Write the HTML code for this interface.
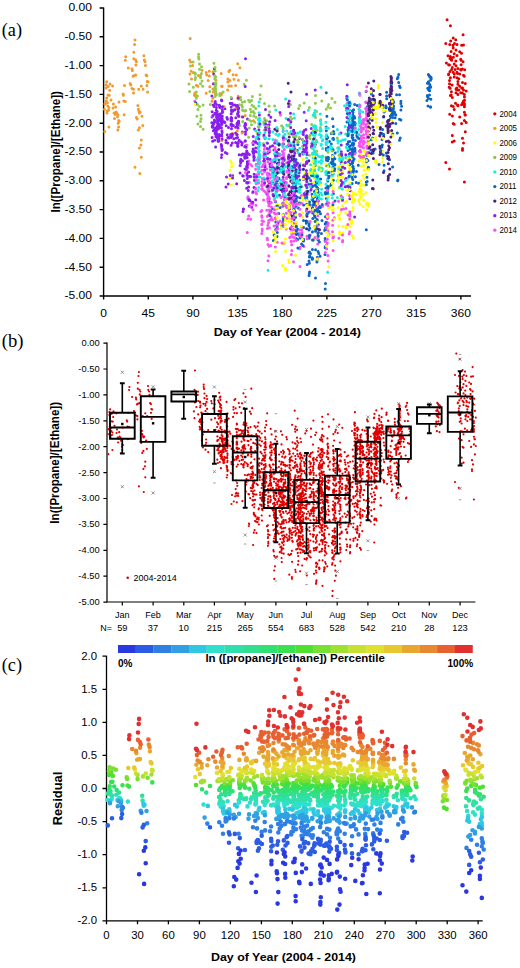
<!DOCTYPE html>
<html><head><meta charset="utf-8"><style>
html,body{margin:0;padding:0;background:#fff;}
body{width:520px;height:968px;overflow:hidden;}
svg{display:block;}
text{font-family:"Liberation Sans",sans-serif;fill:#000;}
</style></head><body>
<svg width="520" height="968" viewBox="0 0 520 968">
<path d="M103.6 7.5V296.0H471" fill="none" stroke="#000" stroke-width="1.4"/>
<path d="M99.6 8.0h4 M99.6 36.8h4 M99.6 65.6h4 M99.6 94.4h4 M99.6 123.2h4 M99.6 152.0h4 M99.6 180.8h4 M99.6 209.6h4 M99.6 238.4h4 M99.6 267.2h4 M99.6 296.0h4 M103.6 296.0v3.6 M148.3 296.0v3.6 M192.9 296.0v3.6 M237.6 296.0v3.6 M282.2 296.0v3.6 M326.9 296.0v3.6 M371.6 296.0v3.6 M416.2 296.0v3.6 M460.9 296.0v3.6" stroke="#000" stroke-width="1.4"/>
<text x="91.90" y="11.40" text-anchor="end" textLength="23.48" lengthAdjust="spacingAndGlyphs" style="font-size:11.6px" fill="#000">0.00</text>
<text x="91.90" y="40.20" text-anchor="end" textLength="27.49" lengthAdjust="spacingAndGlyphs" style="font-size:11.6px" fill="#000">-0.50</text>
<text x="91.90" y="69.00" text-anchor="end" textLength="27.49" lengthAdjust="spacingAndGlyphs" style="font-size:11.6px" fill="#000">-1.00</text>
<text x="91.90" y="97.80" text-anchor="end" textLength="27.49" lengthAdjust="spacingAndGlyphs" style="font-size:11.6px" fill="#000">-1.50</text>
<text x="91.90" y="126.60" text-anchor="end" textLength="27.49" lengthAdjust="spacingAndGlyphs" style="font-size:11.6px" fill="#000">-2.00</text>
<text x="91.90" y="155.40" text-anchor="end" textLength="27.49" lengthAdjust="spacingAndGlyphs" style="font-size:11.6px" fill="#000">-2.50</text>
<text x="91.90" y="184.20" text-anchor="end" textLength="27.49" lengthAdjust="spacingAndGlyphs" style="font-size:11.6px" fill="#000">-3.00</text>
<text x="91.90" y="213.00" text-anchor="end" textLength="27.49" lengthAdjust="spacingAndGlyphs" style="font-size:11.6px" fill="#000">-3.50</text>
<text x="91.90" y="241.80" text-anchor="end" textLength="27.49" lengthAdjust="spacingAndGlyphs" style="font-size:11.6px" fill="#000">-4.00</text>
<text x="91.90" y="270.60" text-anchor="end" textLength="27.49" lengthAdjust="spacingAndGlyphs" style="font-size:11.6px" fill="#000">-4.50</text>
<text x="91.90" y="299.40" text-anchor="end" textLength="27.49" lengthAdjust="spacingAndGlyphs" style="font-size:11.6px" fill="#000">-5.00</text>
<text x="103.60" y="316.50" text-anchor="middle" textLength="6.71" lengthAdjust="spacingAndGlyphs" style="font-size:11.6px" fill="#000">0</text>
<text x="148.26" y="316.50" text-anchor="middle" textLength="13.42" lengthAdjust="spacingAndGlyphs" style="font-size:11.6px" fill="#000">45</text>
<text x="192.92" y="316.50" text-anchor="middle" textLength="13.42" lengthAdjust="spacingAndGlyphs" style="font-size:11.6px" fill="#000">90</text>
<text x="237.58" y="316.50" text-anchor="middle" textLength="20.13" lengthAdjust="spacingAndGlyphs" style="font-size:11.6px" fill="#000">135</text>
<text x="282.24" y="316.50" text-anchor="middle" textLength="20.13" lengthAdjust="spacingAndGlyphs" style="font-size:11.6px" fill="#000">180</text>
<text x="326.90" y="316.50" text-anchor="middle" textLength="20.13" lengthAdjust="spacingAndGlyphs" style="font-size:11.6px" fill="#000">225</text>
<text x="371.56" y="316.50" text-anchor="middle" textLength="20.13" lengthAdjust="spacingAndGlyphs" style="font-size:11.6px" fill="#000">270</text>
<text x="416.22" y="316.50" text-anchor="middle" textLength="20.13" lengthAdjust="spacingAndGlyphs" style="font-size:11.6px" fill="#000">315</text>
<text x="460.88" y="316.50" text-anchor="middle" textLength="20.13" lengthAdjust="spacingAndGlyphs" style="font-size:11.6px" fill="#000">360</text>
<text x="287.30" y="335.50" text-anchor="middle" textLength="147.11" lengthAdjust="spacingAndGlyphs" style="font-size:11.6px;font-weight:bold" fill="#000">Day of Year (2004 - 2014)</text>
<text transform="translate(59.80 151.80) rotate(-90)" text-anchor="middle" textLength="121.55" lengthAdjust="spacingAndGlyphs" style="font-size:12.2px;font-weight:bold" fill="#000">ln([Propane]/[Ethane])</text>
<text x="1.80" y="36.40" textLength="20.24" lengthAdjust="spacingAndGlyphs" style="font-size:19.0px;font-family:'Liberation Serif',serif" fill="#000">(a)</text>
<circle cx="494.8" cy="113.8" r="1.65" fill="#e00000"/>
<text x="499.40" y="116.60" textLength="17.51" lengthAdjust="spacingAndGlyphs" style="font-size:8.2px" fill="#000">2004</text>
<circle cx="494.8" cy="128.3" r="1.65" fill="#f39a2c"/>
<text x="499.40" y="131.15" textLength="17.51" lengthAdjust="spacingAndGlyphs" style="font-size:8.2px" fill="#000">2005</text>
<circle cx="494.8" cy="142.9" r="1.65" fill="#ffff00"/>
<text x="499.40" y="145.70" textLength="17.51" lengthAdjust="spacingAndGlyphs" style="font-size:8.2px" fill="#000">2006</text>
<circle cx="494.8" cy="157.4" r="1.65" fill="#8fc050"/>
<text x="499.40" y="160.25" textLength="17.51" lengthAdjust="spacingAndGlyphs" style="font-size:8.2px" fill="#000">2009</text>
<circle cx="494.8" cy="172.0" r="1.65" fill="#18eee0"/>
<text x="499.40" y="174.80" textLength="17.51" lengthAdjust="spacingAndGlyphs" style="font-size:8.2px" fill="#000">2010</text>
<circle cx="494.8" cy="186.6" r="1.65" fill="#0b66c6"/>
<text x="499.40" y="189.35" textLength="16.93" lengthAdjust="spacingAndGlyphs" style="font-size:8.2px" fill="#000">2011</text>
<circle cx="494.8" cy="201.1" r="1.65" fill="#4b2080"/>
<text x="499.40" y="203.90" textLength="17.51" lengthAdjust="spacingAndGlyphs" style="font-size:8.2px" fill="#000">2012</text>
<circle cx="494.8" cy="215.7" r="1.65" fill="#8a1ef0"/>
<text x="499.40" y="218.45" textLength="17.51" lengthAdjust="spacingAndGlyphs" style="font-size:8.2px" fill="#000">2013</text>
<circle cx="494.8" cy="230.2" r="1.65" fill="#f852f2"/>
<text x="499.40" y="233.00" textLength="17.51" lengthAdjust="spacingAndGlyphs" style="font-size:8.2px" fill="#000">2014</text>
<path d="M107.0 342.6V602.0H475.4" fill="none" stroke="#000" stroke-width="1.2"/>
<path d="M103.4 343.1h3.6 M103.4 369.0h3.6 M103.4 394.9h3.6 M103.4 420.8h3.6 M103.4 446.7h3.6 M103.4 472.6h3.6 M103.4 498.5h3.6 M103.4 524.4h3.6 M103.4 550.3h3.6 M103.4 576.2h3.6 M103.4 602.1h3.6 M122.3 602.0v3.4 M153.1 602.0v3.4 M183.8 602.0v3.4 M214.4 602.0v3.4 M245.2 602.0v3.4 M275.9 602.0v3.4 M306.5 602.0v3.4 M337.2 602.0v3.4 M367.9 602.0v3.4 M398.6 602.0v3.4 M429.3 602.0v3.4 M460.1 602.0v3.4" stroke="#000" stroke-width="1.2"/>
<text x="99.70" y="346.00" text-anchor="end" textLength="18.20" lengthAdjust="spacingAndGlyphs" style="font-size:8.7px" fill="#000">0.00</text>
<text x="99.70" y="371.90" text-anchor="end" textLength="21.31" lengthAdjust="spacingAndGlyphs" style="font-size:8.7px" fill="#000">-0.50</text>
<text x="99.70" y="397.80" text-anchor="end" textLength="21.31" lengthAdjust="spacingAndGlyphs" style="font-size:8.7px" fill="#000">-1.00</text>
<text x="99.70" y="423.70" text-anchor="end" textLength="21.31" lengthAdjust="spacingAndGlyphs" style="font-size:8.7px" fill="#000">-1.50</text>
<text x="99.70" y="449.60" text-anchor="end" textLength="21.31" lengthAdjust="spacingAndGlyphs" style="font-size:8.7px" fill="#000">-2.00</text>
<text x="99.70" y="475.50" text-anchor="end" textLength="21.31" lengthAdjust="spacingAndGlyphs" style="font-size:8.7px" fill="#000">-2.50</text>
<text x="99.70" y="501.40" text-anchor="end" textLength="21.31" lengthAdjust="spacingAndGlyphs" style="font-size:8.7px" fill="#000">-3.00</text>
<text x="99.70" y="527.30" text-anchor="end" textLength="21.31" lengthAdjust="spacingAndGlyphs" style="font-size:8.7px" fill="#000">-3.50</text>
<text x="99.70" y="553.20" text-anchor="end" textLength="21.31" lengthAdjust="spacingAndGlyphs" style="font-size:8.7px" fill="#000">-4.00</text>
<text x="99.70" y="579.10" text-anchor="end" textLength="21.31" lengthAdjust="spacingAndGlyphs" style="font-size:8.7px" fill="#000">-4.50</text>
<text x="99.70" y="605.00" text-anchor="end" textLength="21.31" lengthAdjust="spacingAndGlyphs" style="font-size:8.7px" fill="#000">-5.00</text>
<text x="122.35" y="617.90" text-anchor="middle" textLength="14.56" lengthAdjust="spacingAndGlyphs" style="font-size:8.6px" fill="#000">Jan</text>
<text x="122.35" y="630.80" text-anchor="middle" textLength="10.33" lengthAdjust="spacingAndGlyphs" style="font-size:8.6px" fill="#000">59</text>
<text x="153.05" y="617.90" text-anchor="middle" textLength="15.56" lengthAdjust="spacingAndGlyphs" style="font-size:8.6px" fill="#000">Feb</text>
<text x="153.05" y="630.80" text-anchor="middle" textLength="10.33" lengthAdjust="spacingAndGlyphs" style="font-size:8.6px" fill="#000">37</text>
<text x="183.75" y="617.90" text-anchor="middle" textLength="15.55" lengthAdjust="spacingAndGlyphs" style="font-size:8.6px" fill="#000">Mar</text>
<text x="183.75" y="630.80" text-anchor="middle" textLength="10.33" lengthAdjust="spacingAndGlyphs" style="font-size:8.6px" fill="#000">10</text>
<text x="214.45" y="617.90" text-anchor="middle" textLength="14.05" lengthAdjust="spacingAndGlyphs" style="font-size:8.6px" fill="#000">Apr</text>
<text x="214.45" y="630.80" text-anchor="middle" textLength="15.49" lengthAdjust="spacingAndGlyphs" style="font-size:8.6px" fill="#000">215</text>
<text x="245.15" y="617.90" text-anchor="middle" textLength="17.06" lengthAdjust="spacingAndGlyphs" style="font-size:8.6px" fill="#000">May</text>
<text x="245.15" y="630.80" text-anchor="middle" textLength="15.49" lengthAdjust="spacingAndGlyphs" style="font-size:8.6px" fill="#000">265</text>
<text x="275.85" y="617.90" text-anchor="middle" textLength="14.56" lengthAdjust="spacingAndGlyphs" style="font-size:8.6px" fill="#000">Jun</text>
<text x="275.85" y="630.80" text-anchor="middle" textLength="15.49" lengthAdjust="spacingAndGlyphs" style="font-size:8.6px" fill="#000">554</text>
<text x="306.55" y="617.90" text-anchor="middle" textLength="11.54" lengthAdjust="spacingAndGlyphs" style="font-size:8.6px" fill="#000">Jul</text>
<text x="306.55" y="630.80" text-anchor="middle" textLength="15.49" lengthAdjust="spacingAndGlyphs" style="font-size:8.6px" fill="#000">683</text>
<text x="337.25" y="617.90" text-anchor="middle" textLength="16.07" lengthAdjust="spacingAndGlyphs" style="font-size:8.6px" fill="#000">Aug</text>
<text x="337.25" y="630.80" text-anchor="middle" textLength="15.49" lengthAdjust="spacingAndGlyphs" style="font-size:8.6px" fill="#000">528</text>
<text x="367.95" y="617.90" text-anchor="middle" textLength="16.07" lengthAdjust="spacingAndGlyphs" style="font-size:8.6px" fill="#000">Sep</text>
<text x="367.95" y="630.80" text-anchor="middle" textLength="15.49" lengthAdjust="spacingAndGlyphs" style="font-size:8.6px" fill="#000">542</text>
<text x="398.65" y="617.90" text-anchor="middle" textLength="14.05" lengthAdjust="spacingAndGlyphs" style="font-size:8.6px" fill="#000">Oct</text>
<text x="398.65" y="630.80" text-anchor="middle" textLength="15.49" lengthAdjust="spacingAndGlyphs" style="font-size:8.6px" fill="#000">210</text>
<text x="429.35" y="617.90" text-anchor="middle" textLength="16.06" lengthAdjust="spacingAndGlyphs" style="font-size:8.6px" fill="#000">Nov</text>
<text x="429.35" y="630.80" text-anchor="middle" textLength="10.33" lengthAdjust="spacingAndGlyphs" style="font-size:8.6px" fill="#000">28</text>
<text x="460.05" y="617.90" text-anchor="middle" textLength="16.06" lengthAdjust="spacingAndGlyphs" style="font-size:8.6px" fill="#000">Dec</text>
<text x="460.05" y="630.80" text-anchor="middle" textLength="15.49" lengthAdjust="spacingAndGlyphs" style="font-size:8.6px" fill="#000">123</text>
<text x="100.20" y="630.80" textLength="11.80" lengthAdjust="spacingAndGlyphs" style="font-size:8.6px" fill="#000">N=</text>
<text transform="translate(59.00 462.80) rotate(-90)" text-anchor="middle" textLength="121.68" lengthAdjust="spacingAndGlyphs" style="font-size:13.2px;font-weight:bold" fill="#000">ln([Propane]/[Ethane])</text>
<text x="1.80" y="346.80" textLength="21.71" lengthAdjust="spacingAndGlyphs" style="font-size:19.0px;font-family:'Liberation Serif',serif" fill="#000">(b)</text>
<circle cx="127.7" cy="577.7" r="1.3" fill="#e00000"/>
<text x="133.50" y="580.90" textLength="43.18" lengthAdjust="spacingAndGlyphs" style="font-size:8.6px" fill="#000">2004-2014</text>
<path d="M106.5 655.7V920.8H482.7" fill="none" stroke="#000" stroke-width="1.3"/>
<path d="M102.5 656.2h4 M102.5 689.3h4 M102.5 722.4h4 M102.5 755.4h4 M102.5 788.5h4 M102.5 821.6h4 M102.5 854.7h4 M102.5 887.8h4 M102.5 920.8h4 M106.5 920.8v3.5 M137.5 920.8v3.5 M168.4 920.8v3.5 M199.4 920.8v3.5 M230.4 920.8v3.5 M261.4 920.8v3.5 M292.3 920.8v3.5 M323.3 920.8v3.5 M354.3 920.8v3.5 M385.2 920.8v3.5 M416.2 920.8v3.5 M447.2 920.8v3.5 M478.1 920.8v3.5" stroke="#000" stroke-width="1.3"/>
<text x="97.10" y="659.80" text-anchor="end" style="font-size:11.4px" fill="#000">2.0</text>
<text x="97.10" y="692.88" text-anchor="end" style="font-size:11.4px" fill="#000">1.5</text>
<text x="97.10" y="725.96" text-anchor="end" style="font-size:11.4px" fill="#000">1.0</text>
<text x="97.10" y="759.04" text-anchor="end" style="font-size:11.4px" fill="#000">0.5</text>
<text x="97.10" y="792.12" text-anchor="end" style="font-size:11.4px" fill="#000">0.0</text>
<text x="97.10" y="825.20" text-anchor="end" style="font-size:11.4px" fill="#000">-0.5</text>
<text x="97.10" y="858.28" text-anchor="end" style="font-size:11.4px" fill="#000">-1.0</text>
<text x="97.10" y="891.36" text-anchor="end" style="font-size:11.4px" fill="#000">-1.5</text>
<text x="97.10" y="924.44" text-anchor="end" style="font-size:11.4px" fill="#000">-2.0</text>
<text x="106.50" y="938.70" text-anchor="middle" style="font-size:11.4px" fill="#000">0</text>
<text x="137.47" y="938.70" text-anchor="middle" style="font-size:11.4px" fill="#000">30</text>
<text x="168.44" y="938.70" text-anchor="middle" style="font-size:11.4px" fill="#000">60</text>
<text x="199.41" y="938.70" text-anchor="middle" style="font-size:11.4px" fill="#000">90</text>
<text x="230.38" y="938.70" text-anchor="middle" style="font-size:11.4px" fill="#000">120</text>
<text x="261.35" y="938.70" text-anchor="middle" style="font-size:11.4px" fill="#000">150</text>
<text x="292.32" y="938.70" text-anchor="middle" style="font-size:11.4px" fill="#000">180</text>
<text x="323.29" y="938.70" text-anchor="middle" style="font-size:11.4px" fill="#000">210</text>
<text x="354.26" y="938.70" text-anchor="middle" style="font-size:11.4px" fill="#000">240</text>
<text x="385.23" y="938.70" text-anchor="middle" style="font-size:11.4px" fill="#000">270</text>
<text x="416.20" y="938.70" text-anchor="middle" style="font-size:11.4px" fill="#000">300</text>
<text x="447.17" y="938.70" text-anchor="middle" style="font-size:11.4px" fill="#000">330</text>
<text x="478.14" y="938.70" text-anchor="middle" style="font-size:11.4px" fill="#000">360</text>
<text x="283.50" y="961.00" text-anchor="middle" textLength="144.92" lengthAdjust="spacingAndGlyphs" style="font-size:11.2px;font-weight:bold" fill="#000">Day of Year (2004 - 2014)</text>
<text transform="translate(62.30 798.50) rotate(-90)" text-anchor="middle" style="font-size:12.9px;font-weight:bold" fill="#000">Residual</text>
<text x="1.80" y="670.50" textLength="20.24" lengthAdjust="spacingAndGlyphs" style="font-size:19.0px;font-family:'Liberation Serif',serif" fill="#000">(c)</text>
<rect x="118.00" y="645" width="17.9" height="8" fill="#2a38e0"/>
<rect x="135.73" y="645" width="17.9" height="8" fill="#2d5ce4"/>
<rect x="153.46" y="645" width="17.9" height="8" fill="#3080e4"/>
<rect x="171.19" y="645" width="17.9" height="8" fill="#30a0e2"/>
<rect x="188.92" y="645" width="17.9" height="8" fill="#30c8e0"/>
<rect x="206.65" y="645" width="17.9" height="8" fill="#30e0cc"/>
<rect x="224.38" y="645" width="17.9" height="8" fill="#30e0ac"/>
<rect x="242.11" y="645" width="17.9" height="8" fill="#30e090"/>
<rect x="259.84" y="645" width="17.9" height="8" fill="#30e070"/>
<rect x="277.57" y="645" width="17.9" height="8" fill="#3ae050"/>
<rect x="295.30" y="645" width="17.9" height="8" fill="#50e030"/>
<rect x="313.03" y="645" width="17.9" height="8" fill="#78e030"/>
<rect x="330.76" y="645" width="17.9" height="8" fill="#a0e030"/>
<rect x="348.49" y="645" width="17.9" height="8" fill="#c8e030"/>
<rect x="366.22" y="645" width="17.9" height="8" fill="#e0e030"/>
<rect x="383.95" y="645" width="17.9" height="8" fill="#e8c830"/>
<rect x="401.68" y="645" width="17.9" height="8" fill="#e8a830"/>
<rect x="419.41" y="645" width="17.9" height="8" fill="#e88830"/>
<rect x="437.14" y="645" width="17.9" height="8" fill="#e86030"/>
<rect x="454.87" y="645" width="17.9" height="8" fill="#e03030"/>
<text x="117.90" y="666.90" style="font-size:10.0px;font-weight:bold" fill="#000">0%</text>
<text x="205.40" y="662.30" style="font-size:11.46px;font-weight:bold" fill="#000">ln ([propane]/[ethane]) Percentile</text>
<text x="473.10" y="666.60" text-anchor="end" style="font-size:10.0px;font-weight:bold" fill="#000">100%</text>
<path d="M327.7 236.2h0M353.1 207.5h0M342.5 177.2h0M289.3 203.8h0M351.7 221.4h0M372.2 115.5h0M382.3 103.1h0M365.5 153.1h0M346.9 189.9h0M360.7 154.0h0M339.8 219.3h0M332.0 172.2h0M312.9 172.1h0M368.5 128.8h0M360.9 197.9h0M391.8 83.1h0M314.7 239.5h0M275.0 239.0h0M327.8 218.0h0M333.1 187.9h0M367.2 169.2h0M288.7 260.1h0M285.6 200.6h0M274.8 219.0h0M306.4 190.6h0M361.0 195.9h0M313.2 161.4h0M316.7 186.5h0M327.9 186.0h0M390.8 131.4h0M375.6 106.5h0M371.7 113.0h0M294.6 218.0h0M283.2 243.8h0M360.1 181.2h0M352.4 235.7h0M391.5 112.6h0M285.6 201.2h0M339.1 215.1h0M274.6 212.3h0" stroke="#ffff00" stroke-width="3" stroke-linecap="round"/>
<path d="M430.5 107.0h0M366.7 159.3h0M278.8 178.3h0M312.6 196.6h0M292.0 187.2h0M314.4 191.6h0M296.0 174.7h0M353.8 143.6h0M325.6 227.8h0M289.6 208.7h0M318.1 208.2h0M322.0 220.6h0M396.6 94.7h0M328.3 147.2h0M281.5 167.0h0M312.3 259.3h0M354.1 158.9h0M268.6 159.0h0M313.4 201.5h0M317.4 198.8h0M352.5 161.2h0M352.7 130.2h0M427.6 96.8h0M283.7 144.0h0M294.5 200.8h0M352.7 156.9h0M368.7 168.0h0M350.7 126.0h0M352.6 111.0h0M282.8 166.2h0M355.0 149.7h0M380.0 134.9h0M356.5 171.6h0M400.9 101.2h0M318.4 194.4h0M269.1 148.9h0M318.0 224.5h0M276.5 173.5h0M317.1 220.3h0M294.8 212.1h0" stroke="#0b66c6" stroke-width="3" stroke-linecap="round"/>
<path d="M386.0 108.0h0M332.0 175.0h0M272.7 182.8h0M349.7 141.4h0M352.8 179.6h0M333.0 166.9h0M295.9 172.9h0M317.8 201.6h0M295.6 162.0h0M348.5 127.6h0M310.5 253.6h0M283.2 218.3h0M306.8 197.2h0M398.7 82.4h0M296.5 234.0h0M273.4 240.6h0M332.1 171.8h0M276.7 225.6h0M317.6 208.6h0M392.2 109.9h0M299.4 235.3h0M352.7 127.8h0M314.8 203.9h0M349.4 127.4h0M327.7 137.5h0M391.1 81.7h0M390.7 110.6h0M308.6 236.0h0M316.9 262.0h0M366.3 119.7h0M288.7 140.5h0M332.6 162.8h0M352.7 173.6h0M282.9 168.9h0M429.1 75.6h0M326.8 174.7h0M352.5 123.2h0M392.9 100.5h0M352.1 163.6h0M354.4 122.5h0" stroke="#0b66c6" stroke-width="3" stroke-linecap="round"/>
<path d="M363.8 200.3h0M361.4 157.8h0M320.1 167.2h0M333.0 190.0h0M342.8 233.0h0M378.7 102.9h0M339.3 166.4h0M338.9 187.7h0M354.8 200.7h0M342.2 165.4h0M285.8 207.1h0M375.4 113.6h0M327.0 170.6h0M382.9 161.8h0M376.1 140.3h0M339.7 218.3h0M343.0 165.9h0M327.9 228.7h0M289.3 220.6h0M353.4 155.3h0M283.0 204.3h0M352.6 210.7h0M366.5 156.7h0M385.8 110.5h0M328.6 223.5h0M349.2 218.2h0M382.7 157.8h0M361.1 196.7h0M359.9 189.1h0M342.5 188.8h0M320.5 169.2h0M339.7 199.2h0M351.9 151.8h0M366.8 163.2h0M359.1 199.5h0M367.3 160.3h0M338.3 175.2h0M293.3 210.2h0M293.6 226.5h0M366.4 204.7h0" stroke="#ffff00" stroke-width="3" stroke-linecap="round"/>
<path d="M401.6 106.2h0M352.7 145.0h0M321.4 233.6h0M312.0 257.7h0M311.4 175.2h0M295.2 215.5h0M335.0 200.9h0M299.6 180.0h0M315.0 202.3h0M309.4 256.9h0M356.4 132.5h0M382.3 145.0h0M391.5 101.1h0M326.9 159.7h0M392.7 113.1h0M278.9 162.7h0M309.0 252.8h0M386.6 96.0h0M333.5 139.4h0M368.2 105.1h0M353.6 109.7h0" stroke="#0b66c6" stroke-width="3" stroke-linecap="round"/>
<path d="M427.7 88.3h0M294.7 191.3h0M334.8 164.6h0M306.4 192.1h0M429.8 76.6h0M349.1 119.3h0M429.5 95.0h0M312.5 231.8h0M353.0 138.0h0M300.0 237.9h0M318.0 188.4h0M352.6 110.8h0M276.7 168.7h0M429.8 77.0h0M354.7 117.9h0M283.6 157.0h0M353.4 129.0h0M349.5 188.0h0M318.4 196.9h0M312.4 232.1h0M428.1 88.9h0M430.7 87.2h0M325.1 241.1h0M269.2 174.1h0M352.1 183.6h0M280.1 207.4h0M352.6 127.2h0M355.1 152.3h0M309.2 223.8h0M395.1 117.8h0M394.4 112.0h0M312.6 207.4h0M303.6 205.1h0M382.0 133.4h0M318.4 240.1h0M333.4 193.7h0M326.4 160.1h0M352.4 131.6h0M303.6 239.2h0M277.3 232.6h0" stroke="#0b66c6" stroke-width="3" stroke-linecap="round"/>
<path d="M369.2 113.3h0M389.3 124.5h0M288.7 157.7h0M373.8 81.0h0M388.2 120.5h0M292.2 170.9h0M293.9 168.4h0M388.3 163.8h0M379.7 106.3h0M291.8 180.9h0M379.8 146.3h0M306.6 228.7h0M315.1 196.5h0M293.6 156.4h0M390.7 110.1h0M379.7 104.3h0M389.4 103.5h0M390.3 107.1h0M285.1 189.3h0M290.4 177.6h0M373.0 133.4h0M388.2 176.3h0M380.1 103.9h0M374.1 103.5h0M391.2 80.5h0M288.6 194.7h0M269.2 152.1h0M390.0 143.0h0M371.3 88.7h0M368.9 152.7h0M390.0 119.5h0M288.7 193.9h0M389.8 108.6h0M369.2 103.8h0M372.7 151.4h0M306.9 209.0h0M372.8 180.0h0M389.9 96.5h0M275.7 188.3h0M280.8 189.7h0" stroke="#4b2080" stroke-width="3" stroke-linecap="round"/>
<path d="M293.4 209.7h0M375.2 149.0h0M283.3 189.1h0M283.3 224.8h0M353.2 160.8h0M329.5 141.4h0M354.1 116.6h0M294.1 219.4h0M282.9 203.2h0M296.4 201.0h0M303.6 227.5h0M294.3 209.9h0M312.0 194.2h0M315.6 231.3h0M334.5 170.5h0M328.0 157.3h0M355.3 123.4h0M398.0 179.9h0M278.8 213.4h0M294.3 214.1h0M314.5 196.7h0M329.1 176.3h0M400.2 87.5h0M326.6 136.3h0M373.1 152.9h0M356.2 182.4h0M275.7 229.5h0M368.3 167.2h0M317.3 257.3h0M392.9 103.4h0M283.0 159.3h0M348.1 186.0h0M315.1 182.1h0M358.3 165.2h0M366.9 155.5h0M352.1 148.9h0M366.5 161.4h0M333.4 180.2h0M275.5 217.9h0M334.7 168.7h0" stroke="#0b66c6" stroke-width="3" stroke-linecap="round"/>
<path d="M282.6 163.0h0M226.2 125.7h0M271.9 167.3h0M269.7 121.8h0M219.6 105.6h0M247.2 183.0h0M277.4 171.8h0M251.7 207.2h0M347.4 104.8h0M237.5 125.2h0M269.3 182.4h0M348.1 134.2h0M303.6 149.2h0M294.2 163.0h0M306.6 94.2h0M255.7 199.7h0M222.0 118.3h0M213.2 105.1h0M246.6 169.6h0M217.9 114.5h0M235.8 117.7h0M273.3 171.2h0M230.2 103.3h0M221.9 116.0h0M222.2 109.6h0M263.9 160.8h0M219.2 105.2h0M231.4 109.9h0M277.2 184.0h0M270.0 166.4h0M247.5 119.0h0M311.2 170.1h0M242.3 132.0h0M267.1 148.6h0M302.5 139.6h0M246.7 188.2h0M216.4 136.6h0M341.7 156.3h0M217.5 138.2h0M218.3 120.6h0" stroke="#8a1ef0" stroke-width="3" stroke-linecap="round"/>
<path d="M312.6 208.2h0M393.2 114.1h0M318.1 236.6h0M308.6 184.2h0M296.1 206.7h0M278.6 223.2h0M273.7 175.3h0M367.2 181.6h0M318.1 224.8h0M324.7 230.0h0M431.2 78.8h0M397.6 180.7h0M349.6 187.2h0M297.6 239.4h0M320.1 256.3h0M305.0 175.0h0M309.4 236.5h0M384.0 170.8h0M306.9 177.7h0M315.4 190.7h0M366.1 91.5h0M278.9 160.1h0M400.2 138.0h0M393.7 101.9h0M325.5 216.7h0M358.6 183.2h0M315.6 229.4h0M366.3 184.8h0M296.3 238.4h0M325.0 254.4h0M314.6 204.1h0M317.0 183.0h0M352.7 120.8h0M326.7 165.7h0M328.9 172.6h0M318.3 201.1h0M275.4 175.6h0M279.5 195.2h0M382.0 139.6h0M313.5 197.6h0" stroke="#0b66c6" stroke-width="3" stroke-linecap="round"/>
<path d="M296.0 159.4h0M284.8 196.9h0M312.5 258.5h0M319.4 242.1h0M352.6 135.1h0M295.7 185.6h0M295.9 195.9h0M333.0 160.2h0M399.5 119.2h0M307.3 177.3h0M294.4 188.2h0M383.7 134.4h0M277.7 153.6h0M353.0 112.6h0M294.1 167.0h0M353.0 151.0h0M272.5 208.8h0M326.2 148.4h0M400.9 120.0h0M352.6 162.8h0M352.4 123.6h0M300.1 197.8h0M348.0 150.6h0M366.3 229.7h0M352.4 175.2h0M295.0 176.3h0M307.3 213.8h0M430.5 107.0h0M315.6 249.7h0M331.3 133.6h0M390.1 104.4h0M317.4 178.2h0M428.4 74.5h0M273.9 150.1h0M381.5 153.7h0M349.8 130.7h0M320.5 207.1h0M332.9 149.5h0M385.8 105.8h0M352.7 126.2h0" stroke="#0b66c6" stroke-width="3" stroke-linecap="round"/>
<path d="M132.0 88.4h0M191.5 79.0h0M209.3 76.0h0M198.4 75.5h0M230.0 80.5h0M133.1 76.2h0M194.9 93.0h0M213.4 92.0h0M107.8 105.9h0M209.3 71.3h0M216.0 80.3h0M118.6 120.4h0M136.4 117.6h0M108.2 86.6h0M106.0 88.0h0M138.3 109.3h0M132.4 70.6h0M142.0 116.3h0M135.9 65.0h0M238.4 80.3h0M208.2 80.6h0M139.0 111.5h0M143.1 89.2h0M148.0 81.7h0M215.4 94.5h0M109.7 90.3h0M115.6 107.0h0M106.0 84.7h0M197.4 96.1h0M130.9 85.1h0M253.4 120.7h0M105.2 103.7h0M190.0 74.0h0M232.3 133.3h0M109.3 95.3h0M117.9 130.1h0M111.0 100.0h0M116.7 113.0h0M231.3 85.9h0M144.3 60.0h0" stroke="#f39a2c" stroke-width="3" stroke-linecap="round"/>
<path d="M292.4 217.5h0M258.8 172.8h0M275.5 170.0h0M267.7 186.0h0M283.1 143.4h0M301.4 237.0h0M263.8 136.2h0M342.6 200.6h0M258.5 168.6h0M262.2 188.9h0M255.6 169.2h0M290.1 219.2h0M275.9 186.9h0M266.8 210.2h0M367.3 133.2h0M307.4 194.4h0M327.2 222.2h0M247.3 232.6h0M248.5 163.3h0M292.1 181.6h0M259.1 167.1h0M310.3 190.9h0M326.6 244.9h0M275.4 209.2h0M291.8 250.4h0M367.9 106.6h0M275.0 188.4h0M268.5 222.8h0M263.8 155.2h0M367.2 115.1h0M271.1 187.1h0M264.3 170.9h0M284.3 137.9h0M253.0 209.8h0M269.5 203.9h0M274.2 209.5h0M282.9 226.7h0M292.5 232.8h0M328.2 223.2h0M278.2 143.4h0" stroke="#f852f2" stroke-width="3" stroke-linecap="round"/>
<path d="M197.4 104.4h0M243.0 110.5h0M215.4 88.2h0M328.0 152.3h0M242.7 121.6h0M277.6 129.2h0M269.7 111.8h0M248.6 137.2h0M209.8 91.5h0M240.7 99.7h0M246.4 80.3h0M219.8 93.4h0M215.2 87.5h0M222.2 86.3h0M215.1 90.8h0M196.4 92.0h0M258.7 134.8h0M216.5 94.6h0M213.9 121.9h0M197.9 124.0h0M283.2 128.7h0M199.5 64.1h0M242.4 110.1h0M253.8 116.1h0M326.3 142.5h0M215.7 77.1h0M200.5 126.6h0M288.8 125.6h0M309.3 107.4h0M200.5 121.4h0M201.0 118.8h0M215.6 84.9h0M302.6 146.4h0M291.8 118.9h0M215.4 85.8h0M316.4 140.3h0M290.5 104.6h0M298.6 108.4h0M309.4 155.3h0M330.5 108.0h0" stroke="#8fcc4c" stroke-width="3" stroke-linecap="round"/>
<path d="M349.8 110.1h0M348.0 134.5h0M348.0 134.1h0M281.2 179.9h0M259.0 155.5h0M272.3 175.1h0M293.2 183.1h0M258.4 157.4h0M347.0 96.8h0M359.6 121.8h0M293.5 130.7h0M350.4 184.4h0M306.7 163.4h0M296.2 174.3h0M326.0 192.8h0M326.0 142.8h0M259.3 151.0h0M285.6 98.9h0M355.0 132.7h0M315.2 162.7h0M313.1 145.9h0M274.4 178.2h0M290.3 143.1h0M325.9 174.4h0M332.2 139.1h0M319.3 184.4h0M347.9 178.0h0M315.8 174.0h0M315.8 154.8h0M308.9 191.6h0M321.4 199.0h0M272.4 162.3h0M348.4 172.8h0M339.3 149.2h0M322.3 169.0h0M314.5 138.6h0M359.2 118.6h0M258.7 123.5h0M258.6 153.0h0M314.4 152.8h0" stroke="#18eee0" stroke-width="3" stroke-linecap="round"/>
<path d="M367.1 147.4h0M261.9 185.4h0M275.3 247.0h0M303.9 246.4h0M366.8 131.1h0M262.3 178.5h0M291.5 188.7h0M310.2 235.0h0M367.6 136.2h0M267.4 174.4h0M258.9 168.1h0M278.9 172.5h0M293.2 205.5h0M288.9 174.4h0M363.2 122.6h0M291.1 241.6h0M367.1 120.1h0M367.0 115.4h0M322.7 206.2h0M259.4 157.0h0M289.7 237.4h0M271.1 216.9h0M252.8 204.3h0M333.3 235.9h0M360.0 95.2h0M275.2 168.4h0M334.4 217.7h0M360.8 151.9h0M255.5 187.9h0M262.0 189.0h0M299.6 214.3h0M301.9 232.6h0M282.9 146.3h0M256.4 174.8h0M288.8 160.5h0M305.7 191.9h0M288.5 185.2h0M361.0 132.1h0M250.7 164.6h0M366.1 131.0h0" stroke="#f852f2" stroke-width="3" stroke-linecap="round"/>
<path d="M192.7 65.6h0M236.7 124.1h0M134.6 44.5h0M228.9 71.4h0M104.8 131.6h0M227.9 79.0h0M116.0 112.0h0M123.1 94.0h0M212.9 88.9h0M139.4 113.0h0M145.0 61.8h0M221.7 86.3h0M117.9 114.8h0M125.3 101.4h0M212.9 71.8h0M141.3 139.9h0M227.8 81.9h0M125.7 56.8h0M105.0 104.0h0M133.8 52.2h0M211.9 101.3h0M108.9 107.4h0M234.0 79.2h0M236.1 108.2h0M110.0 84.0h0M113.0 108.0h0M112.6 86.0h0M124.2 114.8h0M206.2 72.4h0M128.3 68.0h0M190.7 62.0h0M147.2 81.4h0M136.4 61.8h0M233.1 74.7h0M123.8 100.9h0" stroke="#f39a2c" stroke-width="3" stroke-linecap="round"/>
<path d="M463.5 142.9h0M457.0 44.5h0M454.2 109.4h0M452.3 67.6h0M451.6 60.2h0M453.2 106.4h0M453.0 45.5h0M449.5 64.9h0M457.9 105.7h0M462.5 138.3h0M450.2 88.3h0M450.4 56.5h0M452.3 142.0h0M449.5 168.9h0M464.7 69.8h0M464.4 104.8h0M445.8 162.4h0M461.6 45.3h0M461.0 70.0h0M459.7 51.8h0M451.6 69.6h0M446.4 63.0h0M452.9 45.3h0M463.5 44.9h0M461.6 123.4h0M453.2 37.9h0M445.8 43.5h0M454.2 76.9h0M450.4 95.5h0M463.5 75.2h0M456.8 88.0h0M463.1 61.7h0M458.8 78.8h0M459.7 86.2h0M457.0 55.5h0M457.9 84.3h0M460.7 59.3h0M463.4 101.3h0M464.4 181.9h0M459.7 74.1h0" stroke="#e00000" stroke-width="3" stroke-linecap="round"/>
<path d="M221.8 100.8h0M311.7 132.9h0M248.0 198.0h0M227.0 153.6h0M222.0 122.0h0M299.2 172.7h0M222.2 116.2h0M306.9 154.6h0M216.6 113.6h0M228.5 127.6h0M213.4 130.7h0M294.2 160.1h0M254.1 174.3h0M303.5 142.4h0M224.8 122.4h0M293.9 192.0h0M345.7 179.2h0M237.0 134.5h0M249.0 199.9h0M249.9 176.4h0M230.9 124.6h0M265.0 138.2h0M304.7 165.8h0M246.8 157.8h0M211.9 96.1h0M239.2 154.7h0M294.0 146.8h0M222.4 111.3h0M232.6 175.4h0M345.9 178.4h0M247.2 153.2h0M221.9 130.7h0M304.0 194.0h0M341.3 151.7h0M221.9 116.5h0M233.8 138.8h0M349.9 198.7h0M294.2 178.3h0M218.9 137.9h0M263.9 161.1h0" stroke="#8a1ef0" stroke-width="3" stroke-linecap="round"/>
<path d="M349.5 126.4h0M270.2 146.8h0M259.4 115.0h0M265.5 127.5h0M267.7 158.4h0M258.9 129.8h0M217.4 117.3h0M264.1 152.7h0M216.3 132.1h0M265.1 154.8h0M231.1 145.3h0M231.2 117.5h0M264.4 179.2h0M236.9 134.7h0M346.8 98.4h0M267.6 153.3h0M237.7 122.9h0M217.6 127.7h0M215.3 101.6h0M342.3 197.4h0M306.9 152.5h0M215.1 133.5h0M268.3 125.2h0M293.9 196.5h0M342.3 173.2h0M294.2 195.7h0M214.4 68.7h0M240.1 165.6h0M272.6 145.8h0M254.6 129.0h0M221.4 127.7h0M350.0 164.0h0M228.9 138.0h0M219.9 135.6h0M247.0 173.0h0M238.7 107.7h0M264.1 158.3h0M218.3 137.1h0M286.2 189.7h0M306.2 120.8h0" stroke="#8a1ef0" stroke-width="3" stroke-linecap="round"/>
<path d="M237.5 125.6h0M311.8 187.1h0M214.6 121.7h0M350.1 187.6h0M294.3 161.7h0M349.5 131.8h0M216.5 104.4h0M273.5 167.7h0M231.4 124.1h0M269.1 130.9h0M288.4 158.5h0M244.7 125.9h0M253.5 141.4h0M303.1 154.0h0M275.4 175.4h0M238.3 112.1h0M219.3 124.2h0M240.1 173.1h0M219.9 113.9h0M293.9 150.7h0M269.2 198.7h0M258.9 138.9h0M213.2 124.7h0M217.5 120.4h0M236.2 137.9h0M215.8 128.6h0M220.0 118.8h0M226.0 140.3h0M238.1 143.5h0M283.4 182.9h0M253.2 144.4h0M254.0 187.6h0M242.2 143.0h0M291.7 134.0h0M347.2 104.3h0M232.1 136.0h0M217.3 117.8h0M347.2 103.7h0M292.1 166.8h0M215.5 128.3h0" stroke="#8a1ef0" stroke-width="3" stroke-linecap="round"/>
<path d="M367.4 124.7h0M267.5 239.8h0M367.0 111.7h0M366.4 119.8h0M258.7 173.8h0M268.8 205.7h0M361.3 141.2h0M264.8 146.6h0M262.3 174.0h0M248.0 198.7h0M291.1 231.4h0M295.8 231.1h0M363.1 120.0h0M332.9 237.9h0M291.1 236.7h0M317.7 258.2h0M290.7 214.6h0M292.0 222.3h0M283.6 171.0h0M289.8 198.3h0M367.3 108.2h0M249.2 182.3h0M256.3 181.2h0M269.2 246.2h0M300.2 247.2h0M194.8 101.2h0M360.1 146.1h0M292.8 224.3h0M264.0 165.6h0M283.2 179.8h0M329.0 233.9h0M268.7 220.4h0M256.2 183.7h0M326.0 204.3h0M296.5 240.4h0M275.0 147.5h0M291.0 202.5h0M292.2 225.3h0M292.5 196.2h0M258.6 183.1h0" stroke="#f852f2" stroke-width="3" stroke-linecap="round"/>
<path d="M273.2 176.0h0M307.0 140.9h0M231.6 118.3h0M238.6 121.3h0M218.0 123.4h0M252.7 151.5h0M310.7 180.5h0M347.0 144.2h0M212.0 117.0h0M249.7 200.6h0M304.7 193.5h0M247.4 163.9h0M350.2 190.7h0M294.0 134.8h0M270.8 117.3h0M231.7 126.1h0M306.6 162.1h0M293.7 136.6h0M221.8 136.0h0M251.6 202.1h0M217.5 122.2h0M311.9 143.5h0M224.1 121.8h0M306.8 135.7h0M237.2 105.9h0M273.2 171.5h0M275.1 120.6h0M249.2 205.9h0M304.1 141.6h0M232.5 125.5h0M289.0 170.7h0M215.0 129.2h0M281.7 158.6h0M231.4 98.6h0M240.8 159.2h0M235.6 127.2h0M215.9 136.6h0M215.6 134.1h0M218.1 125.3h0M299.7 170.0h0" stroke="#8a1ef0" stroke-width="3" stroke-linecap="round"/>
<path d="M369.6 106.9h0M283.9 174.2h0M288.4 176.4h0M382.8 105.2h0M369.9 108.8h0M302.7 152.2h0M289.2 137.0h0M379.7 104.6h0M294.0 179.5h0M388.1 180.0h0M371.3 92.6h0M296.3 169.7h0M308.8 160.7h0M369.6 134.9h0M299.7 154.2h0M292.3 182.8h0M389.5 147.7h0M289.1 174.0h0M388.2 130.9h0M391.3 100.9h0M290.5 150.9h0M291.0 92.0h0M292.2 159.8h0M373.4 149.5h0M380.0 101.8h0M307.0 216.3h0M288.2 83.2h0M315.3 144.4h0M391.1 84.0h0M315.4 202.5h0M274.8 129.2h0M372.6 114.6h0M380.2 101.3h0M383.7 136.4h0M389.7 109.3h0M277.1 131.0h0M291.2 157.2h0M369.6 101.6h0M371.4 153.6h0M292.4 225.5h0" stroke="#4b2080" stroke-width="3" stroke-linecap="round"/>
<path d="M268.8 200.4h0M266.7 169.0h0M360.6 121.2h0M271.5 219.3h0M317.3 225.8h0M270.4 177.9h0M263.9 165.9h0M267.9 201.5h0M367.0 116.0h0M291.7 230.6h0M280.5 115.0h0M366.6 111.3h0M280.9 197.6h0M365.7 101.9h0M332.5 231.7h0M283.2 131.1h0M289.8 207.9h0M274.2 213.0h0M367.0 145.9h0M275.8 206.4h0M275.7 181.4h0M252.7 192.8h0M284.9 159.6h0M283.2 170.5h0M264.7 163.1h0M291.4 254.4h0M267.7 177.2h0M264.5 171.7h0M367.2 129.3h0" stroke="#f852f2" stroke-width="3" stroke-linecap="round"/>
<path d="M326.8 224.2h0M367.1 133.7h0M267.4 228.4h0M261.9 184.4h0M268.3 185.6h0M363.2 128.3h0M282.4 151.3h0M293.6 201.7h0M361.6 146.7h0M300.9 215.3h0M364.0 142.7h0M264.3 183.2h0M270.8 245.4h0M284.4 184.3h0M283.9 166.3h0M366.3 133.5h0M299.2 203.3h0M349.8 211.8h0M291.6 244.7h0M275.4 218.6h0M286.2 228.9h0M346.0 208.6h0M267.9 151.5h0M255.9 192.4h0M360.9 156.5h0M301.7 203.2h0M325.3 252.5h0M296.5 203.6h0M367.2 132.8h0M338.9 238.2h0M256.4 180.6h0M300.0 266.4h0M354.9 153.8h0M271.1 212.0h0M327.3 218.7h0M366.3 113.6h0M262.2 231.0h0M268.5 215.1h0M248.8 161.1h0M256.1 164.5h0" stroke="#f852f2" stroke-width="3" stroke-linecap="round"/>
<path d="M333.1 250.6h0M310.2 221.6h0M301.7 229.7h0M250.2 206.6h0M283.4 139.4h0M279.7 154.0h0M259.0 157.7h0M291.9 234.3h0M301.4 195.4h0M361.4 130.9h0M306.9 236.2h0M258.5 167.5h0M291.2 241.3h0M300.1 215.8h0M294.8 237.7h0M277.3 242.2h0M268.2 198.0h0M299.0 202.6h0M277.4 213.7h0M328.1 261.1h0M262.2 166.8h0M250.9 203.7h0M361.5 124.0h0M284.2 243.1h0M283.2 216.5h0M268.8 200.8h0M366.3 118.3h0M360.6 138.3h0M264.1 152.0h0M256.6 176.4h0M366.0 118.8h0M282.8 203.6h0M283.4 156.8h0M293.3 237.2h0M299.7 235.7h0M366.5 110.5h0M366.6 124.3h0M252.6 142.8h0M287.1 198.5h0M282.4 206.7h0" stroke="#f852f2" stroke-width="3" stroke-linecap="round"/>
<path d="M314.8 129.1h0M354.6 130.0h0M359.5 120.7h0M339.7 187.4h0M338.1 143.1h0M360.8 121.4h0M274.6 154.3h0M293.9 158.8h0M325.9 122.2h0M277.2 155.4h0M265.7 137.7h0M272.4 172.2h0M274.2 184.1h0M276.6 152.3h0M337.3 197.6h0M332.1 147.8h0M314.9 137.7h0M260.2 171.9h0M322.9 139.7h0M342.6 159.6h0M348.3 114.8h0M326.9 136.1h0M312.7 152.9h0M359.8 114.2h0M311.8 199.5h0M308.3 110.3h0M322.6 156.0h0M348.1 133.1h0M314.6 164.8h0M344.1 163.1h0M297.8 166.5h0M322.3 161.0h0M272.0 183.8h0M280.4 186.3h0M315.6 131.9h0M298.0 191.4h0M331.0 148.9h0M293.9 163.2h0M259.4 118.2h0M258.0 148.4h0" stroke="#18eee0" stroke-width="3" stroke-linecap="round"/>
<path d="M320.4 127.4h0M201.0 115.2h0M215.1 84.4h0M313.1 134.6h0M264.5 103.4h0M215.5 89.3h0M263.4 143.4h0M203.1 104.9h0M202.6 86.3h0M341.3 153.4h0M215.0 87.1h0M251.5 124.7h0M240.5 97.2h0M195.7 94.9h0M245.2 124.3h0M313.4 130.9h0M197.9 109.5h0M239.5 104.8h0M244.1 84.3h0M199.5 69.3h0M193.3 87.3h0M308.8 137.2h0M256.0 117.3h0M315.5 95.6h0M245.3 128.3h0M315.4 103.3h0M263.7 122.6h0M268.7 130.4h0M200.5 83.7h0M254.8 122.2h0M310.1 135.3h0M302.8 139.8h0M189.0 84.0h0M200.5 75.5h0M320.7 119.8h0M325.8 157.0h0M338.9 147.5h0M316.6 111.6h0M195.2 79.4h0M264.5 118.4h0" stroke="#8fcc4c" stroke-width="3" stroke-linecap="round"/>
<path d="M302.7 186.7h0M351.9 197.1h0M299.5 201.8h0M340.4 195.3h0M317.1 189.5h0M304.7 173.0h0M382.7 151.0h0M352.5 201.9h0M339.7 155.8h0M316.9 192.3h0M363.9 150.4h0M333.1 240.8h0M359.2 161.0h0M317.7 194.6h0M340.4 175.3h0M369.4 104.0h0M368.4 147.6h0M376.1 122.0h0M315.0 236.9h0M231.6 163.6h0M363.4 158.7h0M375.8 109.0h0M368.8 169.6h0M360.3 185.6h0M349.9 182.8h0M231.7 166.7h0M274.9 234.2h0M313.4 171.6h0M361.0 158.4h0M230.9 174.6h0M302.6 179.2h0M314.4 169.3h0M353.4 237.7h0M391.2 78.4h0M340.7 211.8h0M361.4 190.3h0M338.8 226.1h0M332.0 220.9h0M285.4 238.9h0M363.6 165.6h0" stroke="#ffff00" stroke-width="3" stroke-linecap="round"/>
<path d="M347.8 108.4h0M346.6 107.9h0M265.1 166.7h0M283.3 158.3h0M303.9 151.4h0M347.0 117.4h0M245.6 145.8h0M346.7 110.3h0M264.3 170.6h0M294.6 165.0h0M305.8 184.9h0M341.0 180.5h0M286.4 190.2h0M233.4 125.4h0M266.9 186.7h0M241.4 155.0h0M354.6 217.1h0M283.8 160.4h0M239.1 140.3h0M218.9 140.9h0M277.1 186.6h0M226.0 142.5h0M216.5 117.2h0M315.2 90.0h0M270.2 159.2h0M233.3 105.0h0M237.7 146.0h0M228.2 184.1h0M231.2 136.6h0M238.8 123.7h0M232.6 134.3h0M217.2 126.3h0M290.6 161.1h0M288.3 146.1h0M247.3 178.6h0M213.4 83.7h0M288.9 157.5h0M222.2 120.6h0M278.5 179.0h0M264.3 157.1h0" stroke="#8a1ef0" stroke-width="3" stroke-linecap="round"/>
<path d="M245.4 172.4h0M269.0 188.2h0M267.6 199.0h0M261.8 224.6h0M367.1 124.6h0M279.5 186.4h0M283.2 183.5h0M363.5 147.8h0M363.1 142.5h0M366.1 102.6h0M263.5 221.4h0M256.2 164.6h0M284.4 149.4h0M361.5 138.7h0M349.7 231.7h0M268.0 260.8h0M261.8 210.6h0M286.7 146.6h0M267.9 180.5h0M359.8 142.9h0M259.0 161.5h0M262.0 220.7h0M269.4 227.7h0M262.0 217.2h0M365.6 126.8h0M365.6 108.6h0M367.7 114.4h0M292.1 233.1h0M333.1 212.8h0M271.1 165.3h0M299.7 248.8h0M360.5 141.5h0M366.9 137.6h0M294.1 233.3h0M282.0 243.0h0M271.1 211.3h0M256.0 205.3h0M310.1 205.6h0M283.4 194.3h0M324.8 230.7h0" stroke="#f852f2" stroke-width="3" stroke-linecap="round"/>
<path d="M359.4 104.7h0M337.3 180.7h0M355.1 129.2h0M255.7 130.7h0M326.2 136.9h0M341.6 162.0h0M299.8 148.3h0M320.4 157.1h0M258.1 157.9h0M343.9 182.3h0M326.5 173.9h0M315.0 126.0h0M258.0 190.9h0M315.4 153.9h0M259.8 176.9h0M273.4 172.4h0M350.0 102.1h0M347.4 97.3h0M337.9 151.4h0M315.7 184.9h0M296.1 181.2h0M280.5 188.0h0M310.7 169.8h0M317.0 154.2h0M318.3 156.2h0M321.3 135.5h0M355.3 124.4h0M332.4 155.7h0M258.2 190.6h0M320.9 87.2h0M286.7 125.2h0M347.0 104.4h0M286.9 147.0h0M290.7 168.8h0M350.1 117.1h0M281.2 172.1h0M315.7 158.9h0M342.3 189.0h0M264.1 170.8h0M286.6 178.6h0" stroke="#18eee0" stroke-width="3" stroke-linecap="round"/>
<path d="M368.1 103.2h0M286.7 206.4h0M325.2 223.9h0M268.8 191.3h0M349.2 102.5h0M295.4 212.4h0M356.8 135.5h0M298.0 233.8h0M330.7 185.6h0M353.3 145.3h0M326.3 198.5h0M367.9 160.6h0M398.7 74.5h0M328.9 166.2h0M358.7 138.5h0M391.5 83.6h0M395.8 123.6h0M352.4 152.1h0M297.8 144.6h0M352.7 145.1h0M325.2 246.8h0M295.0 230.4h0M327.4 172.7h0M428.6 83.1h0M302.9 245.5h0M355.4 140.6h0M349.3 124.8h0M352.9 116.1h0M326.9 116.3h0M195.7 102.7h0M352.5 174.8h0M352.5 171.2h0M294.3 177.5h0M276.7 179.5h0M290.3 228.4h0M276.4 183.4h0M298.4 208.1h0M354.7 104.5h0M333.2 138.3h0M277.4 180.8h0" stroke="#0b66c6" stroke-width="3" stroke-linecap="round"/>
<path d="M397.3 133.0h0M348.5 131.4h0M327.9 179.3h0M333.0 150.3h0M270.1 210.9h0M352.1 137.4h0M394.8 113.5h0M349.3 147.0h0M283.5 205.2h0M325.5 283.5h0M315.7 205.0h0M352.9 117.3h0M315.7 209.9h0M367.0 177.2h0M295.6 183.8h0M309.0 229.9h0M354.8 148.2h0M283.9 164.4h0M393.4 108.4h0M392.8 102.4h0M371.5 112.7h0M295.2 188.3h0M386.8 155.7h0M386.2 107.3h0M371.4 99.5h0M390.3 116.1h0M325.4 230.4h0M306.7 200.3h0M312.9 204.8h0M333.9 133.8h0M283.5 164.7h0M327.8 180.9h0M352.6 128.2h0M328.3 186.7h0M327.5 186.3h0M294.0 207.5h0M276.6 191.2h0M314.5 214.4h0M326.3 130.8h0M369.0 114.9h0" stroke="#0b66c6" stroke-width="3" stroke-linecap="round"/>
<path d="M258.3 180.9h0M264.7 137.4h0M322.0 195.1h0M345.7 133.9h0M270.1 169.5h0M274.3 184.5h0M293.9 168.1h0M328.1 194.1h0M289.3 164.5h0M314.3 125.7h0M321.7 170.8h0M349.5 113.9h0M329.1 164.3h0M312.1 173.9h0M332.0 194.8h0M273.1 190.3h0M316.1 178.4h0M297.8 183.3h0M310.3 186.5h0M340.6 159.9h0M348.4 135.6h0M258.3 146.9h0M313.9 116.0h0M295.2 185.0h0M315.7 126.3h0M322.6 148.6h0M293.2 149.8h0M314.4 126.9h0M266.8 142.8h0M277.3 177.4h0M315.1 161.5h0M272.5 175.7h0M341.0 163.5h0M359.1 134.4h0M280.7 187.0h0M332.6 167.9h0M259.2 146.0h0M314.4 112.8h0M310.6 164.8h0M333.3 173.7h0" stroke="#18eee0" stroke-width="3" stroke-linecap="round"/>
<path d="M321.0 124.6h0M314.9 193.5h0M327.4 158.6h0M299.8 183.9h0M327.6 141.9h0M319.2 161.8h0M272.5 169.6h0M322.0 168.3h0M273.6 189.3h0M259.1 112.7h0M268.1 270.2h0M289.2 144.2h0M314.2 146.7h0M259.7 154.5h0M358.4 135.2h0M311.2 173.4h0M320.7 129.6h0M302.5 133.7h0M322.4 140.8h0M326.0 171.4h0M300.2 164.0h0M320.3 131.3h0M306.8 162.2h0M259.5 158.1h0M286.1 118.4h0M306.6 158.1h0M317.1 141.7h0M320.3 113.9h0M314.6 146.4h0M315.0 165.1h0M326.0 184.2h0M315.6 174.2h0M274.8 153.4h0M285.0 134.3h0M283.5 135.9h0M299.6 189.8h0M312.6 141.4h0M320.6 131.0h0M256.4 166.1h0M275.8 192.7h0" stroke="#18eee0" stroke-width="3" stroke-linecap="round"/>
<path d="M294.0 192.7h0M388.1 156.4h0M372.9 127.1h0M315.1 165.6h0M372.2 120.2h0M372.7 144.8h0M290.0 191.7h0M306.1 220.9h0M277.4 163.4h0M389.6 142.3h0M386.2 126.0h0M380.6 132.9h0M390.7 88.6h0M388.0 123.5h0M319.4 211.5h0M288.4 103.6h0M369.5 123.3h0M386.3 141.6h0M294.8 139.2h0M391.9 99.2h0M283.4 186.1h0M292.3 198.8h0M369.8 128.5h0M389.5 108.8h0M374.6 99.7h0M373.2 95.7h0M388.5 125.0h0M389.9 103.3h0M293.9 159.0h0M391.3 105.0h0M374.2 101.1h0M299.8 165.7h0M293.7 130.3h0M306.8 204.2h0M373.2 188.7h0M390.7 92.8h0M368.4 82.9h0M369.9 107.3h0M278.7 149.5h0M391.4 77.8h0" stroke="#4b2080" stroke-width="3" stroke-linecap="round"/>
<path d="M357.2 105.4h0M390.0 107.8h0M326.4 150.0h0M307.2 221.4h0M317.6 176.0h0M429.1 87.5h0M392.5 115.1h0M399.5 140.2h0M283.4 202.9h0M332.9 173.4h0M386.3 153.1h0M391.7 119.1h0M353.1 172.4h0M302.0 234.8h0M429.0 90.1h0M349.6 164.8h0M332.5 155.5h0M314.7 226.8h0M312.7 200.0h0M299.7 188.0h0M372.6 138.1h0M306.6 211.1h0M382.6 129.4h0M348.8 157.2h0M283.2 214.4h0M325.2 247.8h0M306.9 187.5h0M293.8 166.0h0M352.9 115.2h0M349.2 176.0h0M368.5 109.8h0M353.0 166.8h0M295.2 206.8h0M352.2 125.4h0M295.6 217.2h0M352.8 125.5h0M275.8 222.1h0M283.5 219.9h0M303.5 220.4h0M367.1 107.0h0" stroke="#0b66c6" stroke-width="3" stroke-linecap="round"/>
<path d="M294.4 186.0h0M326.7 135.8h0M368.8 136.4h0M312.7 208.5h0M322.2 204.6h0M281.5 226.3h0M427.4 95.4h0M391.2 118.1h0M314.5 210.8h0M309.3 273.8h0M306.8 214.8h0M274.1 235.0h0M383.3 155.1h0M277.0 177.7h0M309.6 202.1h0M318.1 251.6h0M347.4 100.0h0M325.1 238.5h0M398.0 77.3h0M294.0 144.8h0M333.4 156.8h0M306.3 223.3h0M353.4 122.9h0M348.5 161.6h0M371.4 94.1h0M352.4 144.6h0M326.0 188.1h0M352.6 162.0h0M366.5 159.7h0M318.1 235.6h0M352.5 116.4h0M431.0 77.3h0M313.2 239.9h0M309.5 252.0h0M352.6 119.4h0M297.7 229.2h0M320.5 213.8h0M303.4 240.9h0M309.1 275.6h0M317.4 200.2h0" stroke="#0b66c6" stroke-width="3" stroke-linecap="round"/>
<path d="M325.6 193.9h0M317.1 260.1h0M273.7 176.1h0M312.7 213.1h0M318.1 192.1h0M400.9 103.4h0M309.6 271.9h0M350.0 149.3h0M309.4 263.3h0M309.5 204.4h0M304.5 197.7h0M395.8 114.9h0M350.2 145.7h0M428.8 89.4h0M327.6 160.7h0M296.3 227.0h0M371.4 103.4h0M309.2 211.9h0M273.3 173.4h0M318.4 232.6h0M319.6 206.4h0M299.5 203.0h0M371.6 139.8h0M383.6 117.1h0M301.6 243.9h0M275.5 201.8h0M295.9 175.4h0M392.7 117.6h0M400.9 109.9h0M370.9 149.9h0M392.8 133.9h0M315.9 227.4h0M430.1 86.0h0M277.1 227.0h0M349.4 122.2h0M333.2 126.6h0M297.9 248.0h0M312.5 240.1h0M370.2 119.1h0M371.3 139.7h0" stroke="#0b66c6" stroke-width="3" stroke-linecap="round"/>
<path d="M366.3 182.0h0M294.6 201.4h0M429.8 84.6h0M399.5 86.0h0M293.7 202.7h0M348.7 121.5h0M282.7 222.5h0M332.6 159.2h0M316.7 187.0h0M331.2 184.0h0M352.8 148.7h0M317.4 191.1h0M317.1 219.6h0M326.2 127.1h0M309.1 238.2h0M347.0 121.9h0M325.2 289.1h0M296.4 234.5h0M315.2 217.3h0M309.8 228.2h0M295.0 179.0h0M352.3 149.1h0M397.3 78.8h0M325.9 222.6h0M328.5 159.1h0M313.2 185.9h0M347.9 158.2h0M371.0 112.0h0M317.9 239.8h0M353.7 170.8h0M352.7 153.5h0M303.4 240.6h0M368.6 140.4h0M326.5 157.9h0M326.6 138.9h0M370.8 109.2h0M348.3 141.7h0M317.7 211.2h0M309.0 260.9h0M325.3 192.5h0" stroke="#0b66c6" stroke-width="3" stroke-linecap="round"/>
<path d="M325.8 172.4h0M290.2 123.7h0M283.2 170.3h0M258.5 162.4h0M326.0 136.6h0M303.0 198.1h0M359.6 117.6h0M300.4 131.8h0M258.4 180.1h0M321.0 193.0h0M290.9 179.8h0M278.5 187.3h0M349.6 131.7h0M314.9 173.6h0M314.5 150.6h0M258.9 105.9h0M314.5 145.6h0M314.7 171.9h0M272.9 176.3h0M293.6 193.2h0M272.3 174.6h0M319.4 178.9h0M342.4 199.5h0M272.8 131.9h0M279.2 134.2h0M328.1 197.2h0M277.1 196.9h0M292.4 166.7h0M317.4 180.0h0M347.7 148.4h0M277.1 165.8h0M346.1 180.4h0M258.3 147.8h0M258.6 187.4h0M317.5 181.2h0M314.5 177.7h0M293.3 184.5h0M274.2 194.8h0M359.8 105.3h0M277.4 165.5h0" stroke="#18eee0" stroke-width="3" stroke-linecap="round"/>
<path d="M391.5 102.0h0M296.3 191.0h0M391.3 89.1h0M315.1 158.1h0M314.7 163.0h0M380.2 128.9h0M290.8 181.3h0M387.7 158.4h0M283.9 189.5h0M391.1 82.2h0M291.8 192.3h0M380.1 148.3h0M373.5 150.8h0M382.5 106.1h0M288.6 198.7h0M315.1 202.0h0M277.0 185.3h0M292.2 190.8h0M379.8 135.9h0M288.7 140.7h0M391.3 93.7h0M369.9 146.8h0M388.0 128.5h0M387.4 121.5h0M380.4 151.7h0M288.5 168.3h0M387.9 128.0h0M371.8 105.0h0M289.0 186.3h0M388.4 140.9h0M388.4 121.0h0M388.0 129.9h0M311.6 147.2h0M388.8 145.7h0M391.2 79.1h0M371.9 113.2h0M390.9 90.9h0M390.8 96.9h0M388.1 152.4h0M379.9 94.2h0" stroke="#4b2080" stroke-width="3" stroke-linecap="round"/>
<path d="M383.0 138.3h0M371.9 107.8h0M315.0 221.3h0M352.7 195.1h0M346.0 225.7h0M229.6 178.4h0M368.3 135.9h0M313.2 209.4h0M382.6 122.5h0M361.0 154.6h0M285.8 227.9h0M316.9 221.9h0M302.9 164.1h0M367.4 155.0h0M281.2 227.4h0M314.2 178.6h0M391.2 89.5h0M285.4 218.9h0M280.9 228.1h0M280.3 224.2h0M338.5 171.6h0M292.9 225.0h0M306.3 200.2h0M285.5 270.1h0M377.2 127.0h0M289.1 262.5h0M355.1 193.5h0M382.0 106.9h0M350.0 159.5h0M371.0 114.5h0M293.8 231.6h0M345.7 212.9h0" stroke="#ffff00" stroke-width="3" stroke-linecap="round"/>
<path d="M321.5 170.9h0M290.3 149.0h0M280.1 169.9h0M320.9 123.4h0M314.8 145.8h0M273.0 139.4h0M260.4 162.6h0M359.2 123.0h0M319.4 181.9h0M259.1 101.9h0M294.4 117.9h0M297.7 171.3h0M299.7 192.4h0M359.7 94.7h0M318.7 169.5h0M303.6 142.7h0M355.2 130.6h0M340.5 141.1h0M258.6 176.6h0M264.5 181.9h0M332.3 197.9h0M359.3 93.1h0M272.7 160.9h0M326.2 128.5h0M343.4 183.7h0M359.6 122.1h0M342.6 167.7h0M259.4 126.4h0M293.2 183.2h0M280.4 182.7h0M315.3 161.2h0M263.7 164.0h0M302.6 169.4h0M266.7 193.1h0M294.1 180.3h0M257.8 136.5h0M312.8 148.5h0M350.9 104.1h0M273.8 178.7h0M359.9 119.0h0" stroke="#18eee0" stroke-width="3" stroke-linecap="round"/>
<path d="M293.3 179.9h0M321.5 189.3h0M321.2 130.5h0M283.0 131.6h0M286.8 188.5h0M279.0 143.7h0M285.7 166.4h0M350.9 116.3h0M272.5 190.2h0M321.2 163.3h0M314.9 176.8h0M313.2 132.2h0M286.7 130.9h0M280.6 155.1h0M307.1 182.3h0M314.4 172.1h0M332.3 132.4h0M313.1 161.2h0M280.9 144.3h0M293.8 178.5h0M337.4 129.4h0M274.0 189.5h0M275.9 134.3h0M293.6 143.3h0M255.8 142.0h0M314.2 168.5h0M286.1 138.9h0M275.0 161.8h0M312.3 148.1h0M322.3 157.5h0M264.0 178.0h0M312.7 154.8h0M276.9 173.2h0M258.9 135.9h0M257.2 137.7h0M310.8 172.3h0M260.0 156.2h0M274.1 199.4h0M277.5 185.1h0M276.7 127.5h0" stroke="#18eee0" stroke-width="3" stroke-linecap="round"/>
<path d="M279.3 205.0h0M332.6 172.9h0M320.4 183.5h0M366.3 192.7h0M288.6 213.6h0M358.8 201.5h0M312.9 171.4h0M292.1 223.6h0M349.4 189.5h0M318.1 166.1h0M391.4 85.9h0M332.8 235.3h0M275.9 207.8h0M303.0 199.9h0M346.5 159.1h0M332.6 206.0h0M295.9 224.1h0M313.3 167.8h0M372.8 138.9h0M333.4 209.2h0M337.9 179.5h0M303.0 159.2h0M392.9 135.4h0M288.9 222.1h0M277.1 204.6h0M352.4 174.4h0M328.4 234.6h0M313.6 182.2h0M313.2 170.4h0M338.2 207.6h0M331.7 181.4h0M328.0 166.7h0M351.5 223.5h0M392.2 101.4h0M327.8 196.2h0M348.5 158.0h0M231.6 177.6h0M368.6 141.9h0M375.5 160.5h0M328.5 207.9h0" stroke="#ffff00" stroke-width="3" stroke-linecap="round"/>
<path d="M265.5 109.5h0M231.2 107.1h0M212.4 126.1h0M213.3 127.2h0M221.5 146.4h0M237.8 113.2h0M215.3 113.2h0M247.3 152.7h0M341.6 155.1h0M341.4 184.6h0M235.6 142.5h0M276.7 151.8h0M222.2 122.8h0M231.0 118.6h0M246.8 129.4h0M247.1 157.4h0M299.5 138.5h0M293.7 196.8h0M294.2 168.6h0M289.2 100.9h0M290.7 127.5h0M219.8 106.4h0M245.5 134.3h0M257.7 143.4h0M245.2 86.6h0M218.3 129.1h0M344.8 168.2h0M304.0 145.3h0M240.5 161.1h0M217.1 134.7h0M268.2 127.0h0M269.8 163.9h0M218.1 141.3h0M311.1 189.4h0M248.6 187.0h0M240.9 141.7h0M340.9 133.0h0M218.3 125.6h0M247.1 152.3h0M254.3 157.3h0" stroke="#8a1ef0" stroke-width="3" stroke-linecap="round"/>
<path d="M346.2 147.2h0M259.9 158.0h0M360.1 116.8h0M317.1 174.9h0M326.0 128.0h0M288.7 199.1h0M315.0 152.0h0M314.4 175.5h0M314.8 171.1h0M327.6 272.3h0M276.7 159.6h0M283.2 181.9h0M362.9 111.9h0M282.9 127.3h0M277.0 143.4h0M292.3 181.8h0M350.9 115.7h0M264.3 152.6h0M327.1 189.7h0M359.5 117.0h0M360.2 110.4h0M355.5 128.1h0M320.6 182.8h0M303.8 153.5h0M321.1 145.3h0M293.6 190.1h0M277.4 178.9h0M286.2 184.6h0M318.8 195.8h0M259.4 164.3h0M315.1 115.1h0M259.6 120.3h0M314.7 176.6h0M321.2 160.5h0M313.0 157.9h0M350.5 118.4h0M276.7 195.5h0" stroke="#18eee0" stroke-width="3" stroke-linecap="round"/>
<path d="M307.2 264.5h0M298.9 175.9h0M332.6 118.7h0M354.6 117.7h0M299.8 187.6h0M278.9 144.0h0M389.7 110.3h0M355.4 176.8h0M392.6 167.1h0M353.0 140.0h0M332.9 204.8h0M349.3 154.2h0M292.0 176.2h0M269.6 202.2h0M312.8 218.5h0M386.7 98.8h0M309.7 256.1h0M347.3 113.5h0M428.0 106.0h0M283.3 160.2h0M427.4 83.3h0M317.7 212.1h0M327.5 191.8h0M295.8 171.9h0M349.6 105.9h0M275.7 169.3h0M328.0 188.6h0M349.3 123.7h0M428.4 81.7h0M354.4 122.3h0M381.9 147.0h0M391.6 114.6h0M352.1 135.3h0M316.9 176.5h0M389.5 159.8h0M277.3 188.6h0M347.8 144.0h0M380.8 150.4h0M352.5 118.1h0M335.2 153.1h0" stroke="#0b66c6" stroke-width="3" stroke-linecap="round"/>
<path d="M245.0 169.0h0M299.8 155.5h0M294.1 150.1h0M304.4 178.7h0M275.3 184.7h0M265.0 164.9h0M294.7 174.9h0M221.5 100.1h0M255.4 142.3h0M280.0 112.5h0M306.8 161.8h0M303.4 179.6h0M238.3 121.8h0M342.6 167.0h0M237.7 114.3h0M212.2 127.1h0M225.3 152.6h0M264.4 160.4h0M294.2 193.8h0M345.4 162.4h0M222.1 132.5h0M222.2 112.2h0M224.9 108.7h0M349.7 112.9h0M231.0 137.6h0M346.8 96.3h0M291.9 155.9h0M341.0 153.7h0M264.5 123.2h0M221.0 117.1h0M305.9 129.4h0M257.6 138.0h0M306.7 181.5h0M212.6 141.3h0M220.0 127.8h0M245.3 156.4h0M237.8 125.3h0M296.0 165.4h0M219.9 107.6h0M294.8 148.8h0" stroke="#8a1ef0" stroke-width="3" stroke-linecap="round"/>
<path d="M256.7 137.1h0M338.4 175.7h0M345.2 126.5h0M278.2 135.5h0M299.6 188.9h0M283.2 147.2h0M292.4 177.0h0M265.2 153.7h0M264.1 124.4h0M259.3 122.3h0M259.5 142.6h0M327.5 179.8h0M319.3 198.3h0M315.9 195.5h0M259.1 134.5h0M314.5 152.5h0M276.9 140.8h0M315.5 128.8h0M348.2 120.5h0M326.4 134.7h0M314.8 135.2h0M293.7 189.9h0M275.3 140.0h0M315.6 142.2h0M272.3 174.7h0M273.8 175.9h0M315.2 160.9h0M315.4 127.7h0M320.4 121.0h0M259.3 154.2h0M298.4 142.0h0M316.1 161.4h0M314.9 135.0h0M350.2 173.2h0M315.7 133.3h0M315.1 165.3h0M319.4 167.4h0M295.9 135.5h0M359.7 106.7h0M339.5 158.4h0" stroke="#18eee0" stroke-width="3" stroke-linecap="round"/>
<path d="M206.2 93.2h0M237.8 98.5h0M190.2 38.5h0M106.3 100.9h0M139.4 127.8h0M141.3 86.0h0M134.2 75.4h0M113.4 104.0h0M227.6 90.0h0M140.2 112.0h0M108.9 126.9h0M143.9 55.7h0M239.9 67.8h0M137.2 118.9h0M202.0 70.3h0M107.1 111.1h0M189.6 60.0h0M117.5 116.7h0M146.9 75.8h0M115.2 114.5h0M146.9 85.5h0M145.4 65.6h0M221.2 95.1h0M139.4 147.9h0M221.7 93.5h0M193.3 72.4h0M123.4 95.3h0M221.9 140.4h0M125.3 60.2h0M135.7 60.0h0M114.5 118.5h0M212.9 98.2h0M224.0 106.4h0M212.4 115.7h0M135.0 40.1h0M108.6 110.2h0M118.2 123.2h0M119.0 102.0h0M130.1 83.6h0M197.9 86.3h0" stroke="#f39a2c" stroke-width="3" stroke-linecap="round"/>
<path d="M219.1 115.9h0M349.3 127.5h0M283.2 177.3h0M245.5 131.8h0M290.9 121.8h0M238.7 116.2h0M284.6 182.0h0M218.3 139.5h0M303.6 177.2h0M215.1 114.1h0M265.3 120.9h0M297.3 163.8h0M347.3 84.8h0M252.8 202.3h0M222.4 149.5h0M214.6 140.3h0M273.8 187.7h0M306.0 136.8h0M221.7 134.8h0M222.2 112.5h0M244.4 180.5h0M214.0 123.4h0M297.7 176.6h0M219.6 106.1h0M243.0 211.4h0M253.5 152.9h0M265.2 156.4h0M304.2 112.2h0M253.0 191.7h0M253.9 160.2h0M342.5 199.9h0M288.7 106.5h0M214.7 113.3h0M213.7 73.9h0M274.7 142.9h0M303.4 134.4h0M306.5 138.3h0M266.9 194.1h0M231.0 103.7h0M238.2 109.4h0" stroke="#8a1ef0" stroke-width="3" stroke-linecap="round"/>
<path d="M282.6 196.6h0M288.8 172.6h0M291.7 200.7h0M264.2 156.7h0M367.1 152.5h0M363.1 121.6h0M271.7 165.0h0M360.9 157.4h0M258.5 163.6h0M248.7 215.9h0M348.0 224.6h0M265.3 154.9h0M317.8 238.8h0M293.3 183.5h0M328.1 217.0h0M277.7 228.8h0M328.1 231.0h0M258.5 162.8h0M261.8 233.4h0M268.8 256.1h0M363.6 157.0h0M269.7 212.7h0M291.2 196.1h0M359.8 116.7h0M326.6 248.7h0M267.8 189.6h0M317.8 203.6h0M260.9 211.6h0M285.3 205.3h0M295.7 199.2h0M275.2 149.8h0M288.6 163.7h0M327.4 239.2h0M263.9 190.8h0M333.1 202.7h0M317.7 244.0h0M277.4 190.5h0M271.4 207.1h0M293.6 211.6h0M285.2 186.4h0" stroke="#f852f2" stroke-width="3" stroke-linecap="round"/>
<path d="M287.2 218.2h0M360.3 150.1h0M363.7 120.4h0M296.7 207.0h0M363.6 123.9h0M267.8 225.3h0M280.8 185.7h0M299.5 204.0h0M286.4 189.0h0M271.3 202.5h0M271.9 191.1h0M261.8 170.2h0M269.6 150.4h0M277.5 221.8h0M314.8 212.5h0M290.8 212.6h0M366.5 125.0h0M295.8 222.8h0M363.6 134.8h0M261.8 188.7h0M359.5 106.3h0M293.7 185.3h0M301.5 226.7h0M275.5 214.1h0M279.4 155.7h0M270.7 185.0h0M274.8 158.7h0M333.1 191.4h0M366.9 108.1h0M277.0 177.6h0M282.9 161.2h0M284.3 216.5h0M349.7 219.3h0M288.8 210.7h0M286.5 162.7h0M268.0 196.2h0M363.2 144.4h0M262.2 229.1h0M263.6 200.1h0M343.5 208.9h0" stroke="#f852f2" stroke-width="3" stroke-linecap="round"/>
<path d="M380.2 102.2h0M281.9 190.0h0M291.9 197.0h0M288.7 156.6h0M383.8 116.6h0M292.2 151.6h0M374.3 102.2h0M369.0 130.4h0M292.7 187.8h0M373.5 106.4h0M391.1 86.3h0M373.6 90.4h0M273.6 195.9h0M373.8 130.3h0M389.8 168.9h0M288.4 119.5h0M389.6 95.1h0M391.3 88.2h0M369.2 105.7h0M294.2 175.6h0M380.4 127.5h0M293.9 169.6h0M319.5 229.7h0M390.9 76.4h0M369.3 97.9h0M388.9 159.1h0M380.0 154.4h0M294.4 160.8h0M390.3 124.0h0M391.7 130.4h0M294.1 155.7h0M387.8 125.5h0M291.2 152.0h0M315.2 132.2h0M373.4 98.9h0M369.3 109.4h0M313.7 143.7h0M371.4 102.9h0M380.1 94.6h0M195.4 103.8h0" stroke="#4b2080" stroke-width="3" stroke-linecap="round"/>
<path d="M457.9 68.6h0M462.5 102.9h0M457.5 73.6h0" stroke="#e00000" stroke-width="3" stroke-linecap="round"/>
<path d="M199.5 106.4h0M326.2 109.2h0M252.4 96.4h0M216.0 83.2h0M189.6 91.5h0M254.3 113.3h0M215.8 91.9h0M245.8 110.5h0M239.5 125.5h0M203.1 129.2h0M299.2 137.4h0M241.8 105.3h0M321.8 101.0h0M231.2 97.5h0M214.8 78.9h0M215.0 83.1h0M257.2 133.2h0M198.9 58.9h0" stroke="#8fcc4c" stroke-width="3" stroke-linecap="round"/>
<path d="M309.0 225.8h0M332.5 159.4h0M283.0 172.7h0M382.9 107.5h0M347.8 135.7h0M277.0 236.6h0M348.0 134.6h0M334.9 158.8h0M332.3 164.0h0M296.1 198.9h0M352.5 150.2h0M320.2 207.4h0M386.6 92.3h0M331.3 143.9h0M297.4 197.3h0M317.9 233.3h0M289.3 205.9h0M357.2 137.0h0M352.8 125.3h0M315.4 213.1h0M399.5 94.7h0M429.6 90.8h0M309.6 235.5h0M325.7 228.4h0M332.6 158.3h0M309.1 178.0h0M327.3 193.2h0M296.3 226.2h0M352.2 177.6h0M312.5 175.7h0M334.8 164.9h0M379.0 164.5h0M348.0 129.7h0M294.5 201.1h0M392.7 111.6h0M315.2 221.6h0M314.5 216.0h0M283.3 171.7h0M349.2 176.4h0M320.7 179.1h0" stroke="#0b66c6" stroke-width="3" stroke-linecap="round"/>
<path d="M317.5 190.2h0M269.6 215.5h0M297.3 150.3h0M333.5 131.6h0M352.3 155.2h0M306.9 199.8h0M312.4 249.6h0M430.5 80.2h0M426.9 100.5h0M356.8 132.3h0M353.5 168.8h0M349.4 103.1h0M315.1 210.5h0M331.1 162.5h0M393.0 109.7h0M327.1 203.2h0M315.4 185.3h0M328.3 157.6h0M291.8 167.1h0M352.9 166.4h0M295.5 206.0h0M277.3 206.0h0M333.0 162.2h0M430.9 99.2h0M306.4 194.6h0M296.5 230.9h0M354.5 125.1h0M328.7 177.5h0M368.2 140.2h0M318.8 253.5h0M315.6 205.3h0M371.9 106.2h0M384.1 112.1h0M352.5 143.2h0M393.7 106.2h0M326.3 92.8h0M428.4 98.3h0M384.1 165.2h0M315.5 277.9h0M301.2 186.8h0" stroke="#0b66c6" stroke-width="3" stroke-linecap="round"/>
<path d="M328.0 205.5h0M277.4 224.9h0M293.9 205.7h0M332.6 225.2h0M366.9 132.0h0M286.4 182.5h0M270.4 170.3h0M349.2 233.7h0M269.5 175.0h0M333.0 220.0h0M275.2 201.1h0M368.2 136.3h0M271.3 161.7h0M359.4 155.9h0M264.0 184.8h0M325.5 241.4h0M250.6 219.2h0M363.4 128.9h0M367.6 148.5h0M341.2 196.0h0M361.3 128.6h0M366.7 86.7h0M327.7 225.5h0M359.3 151.2h0M293.9 241.1h0M293.5 261.7h0M276.7 171.1h0M338.5 201.3h0M274.0 226.0h0M261.9 181.5h0M268.0 244.6h0M256.5 193.8h0M364.4 142.1h0M360.8 140.8h0M367.9 132.4h0M349.2 195.5h0M300.0 233.6h0M359.8 111.1h0M366.5 109.5h0M291.2 227.2h0" stroke="#f852f2" stroke-width="3" stroke-linecap="round"/>
<path d="M259.3 161.4h0M269.2 138.8h0M272.2 160.5h0M258.3 119.5h0M283.5 169.1h0M342.7 140.0h0M258.3 171.4h0M344.5 105.7h0M314.9 147.0h0M306.2 192.9h0M349.3 156.1h0M315.1 110.4h0M256.4 159.9h0M321.0 137.2h0M359.8 126.1h0M332.4 175.8h0M341.9 198.1h0M293.7 114.1h0M313.3 135.0h0M295.1 182.6h0M285.5 195.8h0M314.9 163.8h0M321.8 156.5h0M258.2 167.8h0M339.4 134.1h0M298.3 188.6h0M259.0 133.9h0M345.2 139.5h0M275.8 109.9h0M293.1 147.9h0M293.7 169.0h0M321.3 144.2h0M313.1 115.1h0M255.7 182.2h0M312.8 173.7h0M298.1 152.7h0M291.0 172.4h0M298.1 180.6h0M345.6 157.6h0M265.1 132.6h0" stroke="#18eee0" stroke-width="3" stroke-linecap="round"/>
<path d="M286.8 207.6h0M341.4 209.5h0M270.1 219.7h0M293.5 229.4h0M327.7 214.1h0M304.5 195.3h0M359.6 93.6h0M264.1 156.5h0M367.3 124.1h0M283.8 180.8h0M261.8 215.8h0M272.5 220.0h0M367.4 112.3h0M366.4 154.4h0M327.3 243.0h0M327.3 190.4h0M275.3 179.6h0M355.1 127.9h0M246.9 145.1h0M283.6 154.4h0M361.4 136.0h0M291.3 195.5h0M247.9 218.9h0M277.3 208.5h0M327.9 255.4h0M283.3 140.1h0M280.2 221.1h0M259.2 159.8h0M326.3 228.1h0M268.9 197.3h0M286.3 213.3h0M293.5 198.0h0M363.8 137.8h0M366.6 125.7h0M317.9 200.4h0M265.4 192.0h0M327.3 214.7h0M267.8 193.4h0M267.4 216.2h0M287.0 206.3h0" stroke="#f852f2" stroke-width="3" stroke-linecap="round"/>
<path d="M330.8 206.9h0M370.9 92.0h0M368.6 125.8h0M352.9 192.3h0M332.0 169.6h0M328.7 266.7h0M303.3 178.9h0M366.5 160.4h0M313.5 165.5h0M313.7 156.2h0M368.1 129.5h0M307.2 204.9h0M367.0 203.1h0M315.2 173.1h0M363.9 185.2h0M342.0 177.0h0M359.2 191.5h0M378.6 105.6h0M332.1 210.2h0M368.3 139.3h0M352.1 197.5h0M338.1 181.6h0M352.3 198.3h0M368.4 136.6h0M344.9 202.3h0M374.2 107.2h0M378.3 87.7h0M293.0 222.6h0M342.6 205.7h0M275.3 237.4h0M332.4 183.3h0M360.8 159.9h0M366.6 209.7h0M331.8 177.9h0M363.3 161.8h0M230.1 170.3h0M334.5 219.0h0M339.4 176.2h0M378.5 85.4h0M301.3 226.0h0" stroke="#ffff00" stroke-width="3" stroke-linecap="round"/>
<path d="M326.5 245.9h0M363.0 175.6h0M275.5 251.5h0M351.6 222.5h0M313.4 196.3h0M275.4 235.8h0M313.1 161.5h0M350.0 226.7h0M348.1 164.4h0M293.5 210.4h0M364.1 170.0h0M302.7 212.8h0M371.7 118.0h0M277.2 217.6h0M289.1 207.8h0M325.9 164.1h0M286.6 202.2h0M360.8 193.1h0M338.9 168.0h0M289.6 220.2h0M363.0 206.5h0M277.3 208.1h0M338.0 169.8h0M349.5 167.6h0M313.9 227.7h0M375.9 163.1h0M295.8 215.0h0M378.2 108.2h0M332.3 187.2h0M339.7 167.5h0M368.6 139.1h0M326.4 232.3h0M363.4 193.9h0M291.2 232.3h0M302.7 217.0h0M382.3 107.6h0M314.5 227.1h0M354.7 199.1h0M342.5 164.4h0M391.7 105.4h0" stroke="#ffff00" stroke-width="3" stroke-linecap="round"/>
<path d="M363.6 156.3h0M314.9 237.5h0M255.5 189.2h0M247.5 167.9h0M292.1 218.7h0M367.9 136.8h0M283.4 153.1h0M365.9 118.7h0M268.0 180.2h0M349.9 216.1h0M349.8 213.9h0M342.5 241.8h0M275.1 160.6h0M291.3 195.1h0M327.2 201.8h0M306.8 210.9h0M363.4 141.0h0M360.2 146.5h0M311.3 211.4h0M283.0 154.6h0M317.9 215.7h0M282.9 223.5h0M292.4 203.7h0M269.4 209.9h0M267.2 238.2h0M294.2 204.7h0M299.6 230.1h0M269.1 181.6h0M264.3 149.2h0M367.0 146.3h0M284.3 190.4h0M286.9 176.9h0M367.4 121.1h0M359.8 113.8h0M268.5 202.9h0M288.5 144.4h0M294.4 223.1h0M284.2 199.6h0M366.3 91.0h0M367.7 142.3h0" stroke="#f852f2" stroke-width="3" stroke-linecap="round"/>
<path d="M247.3 165.1h0M307.0 162.5h0M277.0 156.1h0M288.8 167.5h0M226.0 186.9h0M231.2 136.1h0M255.7 148.1h0M231.0 120.6h0M341.5 154.5h0M242.6 175.8h0M268.9 115.0h0M268.8 182.1h0M294.6 167.3h0M247.0 154.6h0M214.1 106.5h0M246.7 151.0h0M235.6 133.0h0M227.2 134.8h0M256.6 176.7h0M248.3 190.6h0M283.5 190.5h0M218.1 140.3h0M245.5 125.1h0M222.4 106.7h0M297.4 163.1h0M214.0 105.5h0M222.1 139.0h0M304.7 151.8h0M291.9 187.4h0M242.5 160.7h0M289.0 162.8h0M238.0 115.1h0M265.7 124.1h0M221.6 145.4h0M222.1 119.4h0M299.4 167.7h0M232.3 142.9h0M260.0 124.1h0M238.7 115.9h0M288.2 162.4h0" stroke="#8a1ef0" stroke-width="3" stroke-linecap="round"/>
<path d="M313.6 168.7h0M289.7 219.7h0M285.4 268.2h0M361.1 184.0h0M342.3 163.6h0M383.6 111.1h0M338.4 215.4h0M364.1 178.8h0M360.1 204.3h0M368.6 205.4h0M342.7 226.5h0M285.5 221.1h0M391.7 120.0h0M375.6 137.6h0M364.3 151.6h0M339.8 234.3h0M368.4 133.0h0M356.9 194.7h0M391.3 98.3h0M360.2 191.9h0M375.8 118.6h0M317.3 259.2h0M317.1 222.9h0M316.9 203.4h0M303.2 164.2h0M376.0 161.1h0M345.9 227.8h0M284.7 242.3h0M350.0 170.4h0M275.3 241.4h0M351.8 220.3h0M283.4 204.1h0M378.4 87.2h0M338.1 166.6h0M273.1 231.8h0M342.7 171.3h0M327.3 216.4h0M285.4 224.5h0M368.8 155.7h0M347.6 194.3h0" stroke="#ffff00" stroke-width="3" stroke-linecap="round"/>
<path d="M269.1 128.4h0M249.4 154.6h0M267.5 178.6h0M304.9 194.9h0M341.1 185.8h0M246.7 182.6h0M219.7 126.2h0M227.9 137.5h0M267.5 158.9h0M290.5 113.2h0M253.8 155.8h0M211.8 122.8h0M215.1 102.7h0M345.2 186.8h0M294.7 132.7h0M248.7 172.0h0M232.0 103.2h0M269.1 124.7h0M214.8 121.3h0M342.3 182.6h0M253.5 153.2h0M290.9 145.5h0M230.7 134.6h0M244.9 156.9h0M349.8 160.1h0M341.2 161.7h0M232.7 111.2h0M219.5 125.4h0M264.7 182.9h0M246.8 167.3h0M238.0 128.0h0M267.5 143.2h0M214.4 120.0h0M237.2 124.2h0M258.3 134.3h0M238.0 124.5h0M237.6 137.5h0M245.3 123.4h0M273.0 194.5h0M306.4 147.4h0" stroke="#8a1ef0" stroke-width="3" stroke-linecap="round"/>
<path d="M241.8 144.9h0M264.5 169.7h0M233.7 110.1h0M228.8 137.6h0M245.2 124.0h0M294.4 160.9h0M253.8 157.6h0M264.7 153.9h0M227.7 142.9h0M226.5 176.9h0M219.7 120.5h0M244.9 158.3h0M221.4 157.4h0M245.4 153.7h0M249.1 199.5h0M255.6 141.7h0M303.4 132.0h0M306.1 145.1h0M254.2 150.7h0M221.4 122.3h0M288.9 155.1h0M215.6 128.0h0M294.8 153.3h0M238.2 108.8h0M306.9 142.9h0M231.6 121.0h0M246.9 175.3h0M231.2 113.7h0M245.5 58.8h0M288.9 119.9h0M235.1 104.9h0M231.5 111.0h0M247.8 182.8h0M221.8 148.5h0M217.5 123.3h0M216.6 130.0h0M306.3 147.7h0M243.3 176.1h0M238.6 122.4h0M347.2 186.4h0" stroke="#8a1ef0" stroke-width="3" stroke-linecap="round"/>
<path d="M455.7 39.7h0M464.4 120.6h0M447.1 19.7h0M464.5 100.3h0M456.0 89.0h0M464.3 103.5h0M466.2 122.5h0M450.7 41.1h0M455.5 103.2h0M461.6 104.8h0M464.4 94.6h0M457.0 72.3h0M456.0 50.0h0M454.2 124.3h0M452.3 115.9h0M461.2 60.2h0M451.2 94.9h0M464.4 112.2h0M450.0 58.5h0M450.4 25.8h0M456.5 89.7h0M454.2 63.9h0M450.4 77.8h0M449.7 44.5h0M457.0 77.8h0M463.5 89.9h0M461.1 64.7h0M462.3 93.1h0M451.4 105.7h0M458.8 89.9h0M453.4 57.2h0M453.2 123.4h0M450.0 71.6h0M461.6 88.1h0M457.8 105.0h0M453.2 48.1h0M454.3 74.0h0M464.3 76.3h0M462.5 148.5h0M465.3 115.0h0" stroke="#e00000" stroke-width="3" stroke-linecap="round"/>
<path d="M449.2 87.2h0M459.7 116.9h0M457.9 94.6h0M452.3 97.4h0M465.3 131.7h0M451.4 91.8h0M461.5 53.3h0M454.2 141.0h0M464.4 96.9h0M462.5 82.5h0M449.5 83.7h0M448.5 74.8h0M448.6 64.8h0M455.8 60.9h0M464.4 106.7h0M451.2 58.1h0M460.7 69.5h0M449.5 80.6h0M463.1 34.7h0M460.7 92.7h0M451.6 59.4h0M454.5 43.5h0M462.5 88.1h0M465.3 83.4h0M456.0 92.7h0M456.0 65.8h0M453.2 72.3h0M462.4 69.0h0M448.6 74.1h0M448.0 55.7h0M449.7 114.2h0M457.9 81.6h0M452.1 85.1h0M466.2 90.9h0M451.1 51.6h0M462.5 150.3h0M452.3 135.5h0M465.0 114.7h0M454.2 53.7h0M455.1 69.5h0" stroke="#e00000" stroke-width="3" stroke-linecap="round"/>
<path d="M368.2 120.9h0M370.9 106.0h0M368.4 115.8h0M369.3 109.1h0M390.9 91.9h0M373.4 158.6h0M292.2 216.0h0M306.9 193.4h0M368.6 126.9h0M372.4 188.4h0M373.3 110.0h0M389.6 126.5h0M391.8 82.6h0M292.3 192.8h0M373.4 107.5h0M268.0 186.1h0M279.4 168.3h0M288.8 165.1h0M390.9 136.9h0M303.5 169.3h0M307.6 191.2h0" stroke="#4b2080" stroke-width="3" stroke-linecap="round"/>
<path d="M198.6 56.9h0M266.8 120.7h0M214.9 76.6h0M210.3 104.4h0M304.2 103.1h0M195.2 74.3h0M242.4 102.3h0M213.9 63.3h0M315.3 143.6h0M215.2 96.4h0M195.5 77.5h0M250.9 121.2h0M338.9 155.3h0M261.1 86.0h0M223.2 92.0h0M194.9 72.9h0M335.0 102.2h0M215.1 67.4h0M248.6 100.2h0M219.7 95.6h0M214.8 75.7h0M251.6 100.5h0M193.1 62.0h0M293.4 136.1h0M252.0 105.3h0M310.1 138.7h0M255.7 108.6h0M260.0 94.8h0M249.2 128.1h0M332.3 150.9h0M198.6 54.3h0M202.0 81.1h0M242.4 107.0h0M268.0 126.4h0M214.8 90.5h0M315.5 117.5h0M251.2 112.0h0M250.4 109.3h0M317.1 130.2h0M238.4 99.1h0" stroke="#8fcc4c" stroke-width="3" stroke-linecap="round"/>
<path d="M299.7 105.5h0M328.6 104.5h0M281.6 125.8h0M297.8 142.2h0M196.9 116.3h0M288.6 133.5h0M249.1 119.7h0M249.8 101.9h0M331.9 132.7h0M311.7 124.6h0M331.9 98.5h0M195.2 96.0h0M195.1 73.4h0M264.1 121.8h0M274.6 106.1h0M195.1 94.2h0M244.8 111.1h0M253.8 106.5h0M215.2 71.1h0M196.4 98.2h0M269.3 132.2h0M327.9 106.9h0M296.0 136.4h0M201.5 66.7h0M337.3 138.0h0M260.2 99.0h0M258.2 126.7h0M297.3 140.3h0M269.1 105.9h0M296.0 150.5h0M253.2 111.6h0M264.2 129.9h0M200.5 77.5h0M241.8 116.7h0M190.5 66.0h0M250.3 115.6h0M244.7 101.4h0M201.5 73.4h0M290.6 117.0h0M316.7 151.2h0" stroke="#8fcc4c" stroke-width="3" stroke-linecap="round"/>
<path d="M124.5 85.5h0M138.7 89.2h0M107.0 113.0h0M196.4 85.3h0M236.3 74.9h0M221.2 73.4h0M209.8 86.8h0M107.4 102.7h0M191.2 71.3h0M238.2 96.3h0M114.1 113.0h0M106.7 98.1h0M237.7 63.8h0M133.5 89.2h0M135.7 74.9h0M242.1 132.9h0M237.3 130.9h0M142.8 125.6h0M119.3 121.3h0M135.0 167.3h0M138.3 130.1h0M118.6 126.9h0M228.9 85.9h0M141.3 157.2h0M139.8 173.6h0M147.6 92.1h0M245.1 115.4h0M132.0 68.7h0M206.7 74.9h0M133.8 58.7h0M133.5 92.9h0M229.8 70.3h0M104.5 109.3h0M194.3 95.1h0M108.0 95.0h0M137.9 105.5h0M235.6 85.5h0M106.7 81.7h0M140.9 145.0h0M146.1 74.9h0" stroke="#f39a2c" stroke-width="3" stroke-linecap="round"/>
<path d="M274.8 162.0h0M303.6 176.7h0M311.7 145.7h0M340.9 170.1h0M253.8 152.4h0M236.7 183.7h0M306.9 174.6h0M254.1 177.0h0M245.3 140.7h0M238.2 98.1h0M244.8 146.7h0M235.0 109.8h0M226.9 117.6h0M350.0 153.3h0M238.1 142.6h0M215.6 147.1h0M244.9 156.4h0" stroke="#8a1ef0" stroke-width="3" stroke-linecap="round"/>
<path d="M306.6 138.1h0M284.2 192.5h0M216.3 110.2h0M221.2 144.4h0M215.5 132.2h0M246.2 147.2h0M213.1 115.6h0M250.6 176.4h0M217.2 118.5h0M294.4 187.0h0M227.5 119.2h0M253.1 149.0h0M212.1 111.8h0M216.4 107.5h0M243.3 208.9h0M212.1 137.6h0M263.9 145.2h0M289.1 199.3h0M304.2 130.5h0M275.4 155.9h0M269.4 182.5h0M236.6 105.9h0M340.4 174.5h0M269.2 135.6h0M306.1 163.5h0M245.0 141.2h0M232.6 178.1h0M265.7 129.8h0M254.4 180.3h0M237.9 146.3h0M283.2 137.7h0M306.4 170.6h0M218.8 137.9h0M253.2 136.6h0M296.8 177.9h0M293.2 131.3h0M242.6 154.1h0M248.2 176.3h0M230.3 175.4h0M341.2 145.0h0" stroke="#8a1ef0" stroke-width="3" stroke-linecap="round"/>
<path d="M277.5 167.4h0M294.1 185.7h0M391.5 86.8h0M288.5 166.1h0M369.2 108.5h0M293.8 183.6h0M291.1 151.1h0M369.1 148.0h0M383.5 172.6h0M289.1 195.0h0M389.6 103.7h0M306.8 179.3h0M279.0 144.9h0M368.5 102.8h0M391.9 90.5h0M296.1 187.9h0M388.6 157.1h0M390.0 109.1h0M307.1 176.0h0M392.6 123.0h0M277.3 173.0h0M293.9 141.8h0M281.5 184.2h0M368.2 114.1h0M369.8 111.4h0M313.6 139.0h0M388.3 178.1h0M289.5 198.4h0M388.0 132.4h0M390.6 90.0h0M390.9 104.1h0M389.6 174.4h0M369.8 112.2h0M281.9 166.5h0M317.9 229.1h0M368.4 137.2h0M373.5 133.8h0M288.2 141.1h0M388.7 149.7h0M369.1 100.5h0" stroke="#4b2080" stroke-width="3" stroke-linecap="round"/>
<path d="M217.2 111.6h0M258.9 133.6h0M282.6 191.7h0M306.1 185.5h0M311.3 184.1h0M247.2 161.7h0M221.8 154.7h0M246.7 166.2h0M237.2 122.9h0M237.4 105.4h0M243.3 154.3h0M256.1 151.7h0M349.2 172.0h0M272.5 189.9h0M311.2 128.5h0M220.2 114.6h0M303.4 165.3h0M216.4 134.1h0M216.6 115.6h0M306.6 173.6h0M245.3 127.8h0M306.2 149.6h0M269.5 131.3h0M243.4 209.2h0M218.0 125.7h0M240.7 162.7h0M345.8 154.8h0M242.7 117.0h0M237.3 143.6h0M247.3 166.8h0M231.5 128.8h0M230.9 135.7h0M231.4 119.1h0M282.8 164.8h0M222.0 150.5h0M214.4 129.7h0M269.4 132.8h0M221.8 124.6h0M264.0 135.1h0M219.2 134.5h0" stroke="#8a1ef0" stroke-width="3" stroke-linecap="round"/>
<path d="M368.6 143.4h0M296.1 221.9h0M311.2 173.1h0M360.4 196.3h0M361.5 166.0h0M332.6 156.6h0M230.6 160.9h0M320.9 170.0h0M289.0 206.2h0M302.5 239.6h0M285.6 202.3h0M360.4 191.1h0M316.6 190.9h0M306.8 200.4h0M346.7 201.1h0M282.8 265.5h0M231.2 185.0h0M360.9 180.8h0M349.8 168.4h0M365.9 174.0h0M195.0 104.1h0M352.8 202.7h0M368.2 203.5h0M315.6 213.4h0M369.0 129.9h0M373.7 107.6h0M295.5 255.3h0M373.3 102.4h0M320.7 185.1h0M288.9 216.7h0M339.6 232.0h0M309.3 173.3h0M309.2 207.2h0M366.5 203.9h0M352.7 199.9h0M302.7 197.4h0M282.8 214.8h0M390.7 144.3h0M285.6 251.2h0M376.0 162.5h0" stroke="#ffff00" stroke-width="3" stroke-linecap="round"/>
<path d="M342.5 234.9h0M261.9 223.9h0M276.1 230.2h0M267.9 162.1h0M291.4 201.9h0M269.2 181.8h0M251.9 165.9h0M307.2 238.7h0M342.7 240.5h0M328.9 202.9h0M299.9 209.2h0M286.5 178.2h0M359.9 105.6h0M261.9 185.8h0M359.1 145.5h0M316.3 206.7h0M293.6 217.7h0M359.8 143.8h0M363.5 119.5h0M267.5 173.1h0M289.6 168.0h0M264.8 163.7h0M275.2 141.1h0M256.2 179.3h0M359.8 112.5h0M283.4 203.4h0M293.6 206.6h0M263.2 165.2h0M293.3 180.2h0M293.3 193.1h0M248.0 196.8h0M368.0 131.3h0M296.6 204.5h0M286.9 171.1h0M333.3 237.2h0M359.5 143.1h0M286.8 172.0h0M348.0 215.0h0M361.1 126.7h0M278.9 164.2h0" stroke="#f852f2" stroke-width="3" stroke-linecap="round"/>
<path d="M297.6 133.1h0M337.6 148.1h0M274.2 159.5h0M350.2 122.7h0M314.7 170.3h0M265.6 156.8h0M275.0 173.7h0M259.6 132.5h0M293.9 184.8h0M272.3 181.1h0M319.6 134.4h0M297.8 133.3h0M337.7 140.5h0M283.9 193.6h0M274.6 198.3h0M328.4 128.2h0M339.7 160.4h0M358.8 129.6h0M327.8 149.8h0M290.9 131.6h0M327.1 199.7h0M342.5 157.8h0M314.3 143.3h0M338.9 168.8h0M259.8 144.6h0M359.7 111.6h0M320.3 129.9h0M293.8 181.0h0M315.0 162.3h0M293.4 175.3h0M259.6 163.3h0M330.6 146.1h0M256.0 138.5h0M347.2 110.7h0M326.4 144.7h0M312.5 153.8h0M281.0 168.0h0M358.9 108.9h0M313.5 126.5h0M290.7 167.4h0" stroke="#18eee0" stroke-width="3" stroke-linecap="round"/>
<path d="M374.2 499.5h0M247.6 466.2h0M350.0 547.2h0M304.3 455.6h0M283.9 486.4h0M270.7 488.6h0M345.0 469.1h0M458.5 414.3h0M285.7 520.2h0M300.7 502.9h0M280.5 479.3h0M306.5 430.8h0M268.0 537.2h0M339.9 491.4h0M282.4 542.9h0M239.3 434.9h0M274.1 481.7h0M298.0 517.5h0M335.8 429.9h0M288.0 449.0h0M357.8 446.3h0M234.3 459.7h0M321.7 489.1h0M251.0 447.4h0M301.2 517.0h0M301.0 480.6h0M438.7 412.0h0M275.4 499.4h0M399.8 413.9h0M469.2 441.0h0M271.8 476.9h0M327.4 500.9h0M295.1 485.3h0M259.7 477.6h0M377.1 433.5h0M257.8 485.1h0M281.3 492.1h0M270.8 474.3h0M135.9 415.4h0M407.9 413.3h0M265.6 455.0h0M300.3 518.2h0M374.2 509.2h0M300.5 501.0h0M356.2 445.2h0M289.2 536.0h0M300.6 502.1h0M297.7 471.8h0M314.0 550.5h0M196.4 407.0h0M350.2 552.2h0M233.2 464.5h0M339.8 479.1h0M336.1 518.4h0M295.1 528.0h0M377.0 469.0h0M467.3 421.0h0M391.7 491.1h0M278.6 498.7h0M232.0 495.0h0M225.1 444.3h0M304.5 463.8h0M323.7 504.0h0M250.7 478.2h0M226.8 477.5h0M338.5 501.3h0M251.2 474.1h0M295.6 511.3h0M360.4 469.7h0M397.9 429.2h0M461.6 423.5h0M326.7 456.8h0M214.5 404.2h0M306.7 524.0h0M304.5 455.8h0M324.4 507.8h0M313.7 497.2h0M255.0 515.3h0M261.6 463.3h0M366.5 517.1h0M324.2 533.4h0M285.4 466.2h0M201.9 440.5h0M293.0 496.1h0M367.6 430.8h0M268.0 503.0h0M333.4 450.2h0M310.2 454.6h0M316.0 550.1h0M313.0 466.4h0M319.9 490.1h0M345.1 462.3h0M290.4 510.0h0M280.9 514.3h0M354.5 445.5h0M376.4 428.3h0M260.2 471.4h0M332.4 595.9h0M298.7 537.0h0M226.8 445.9h0M203.4 403.8h0M335.6 451.2h0M295.2 456.0h0M295.5 475.4h0M303.1 546.8h0M322.2 531.4h0M357.0 506.4h0M221.0 451.0h0M301.5 473.8h0M347.1 480.1h0M474.9 454.4h0M366.6 452.5h0M366.9 466.8h0M243.9 433.8h0M335.0 470.6h0M323.3 521.8h0M255.0 443.6h0M300.3 531.7h0M297.4 454.2h0M316.7 541.1h0M400.2 417.3h0M313.8 464.4h0M301.7 496.9h0M334.3 515.5h0M360.0 470.0h0M367.6 465.2h0M371.3 443.4h0M349.9 477.8h0M321.3 464.8h0M405.7 406.8h0M273.7 491.6h0M296.2 487.0h0M237.1 444.7h0M460.7 418.4h0M471.0 383.9h0M333.0 536.1h0M252.8 493.6h0M236.8 438.2h0M335.7 479.0h0M346.3 487.7h0M320.1 503.1h0M251.3 388.7h0M325.2 485.3h0M265.8 465.9h0M367.4 436.2h0M271.0 483.1h0M295.5 443.7h0M281.5 462.8h0M262.2 497.2h0M355.4 478.2h0M379.0 436.6h0M327.4 452.7h0M235.6 408.3h0M367.6 437.0h0M302.8 504.9h0M240.7 430.2h0M289.9 518.8h0M300.5 498.7h0M137.0 404.4h0M399.6 413.1h0M340.1 547.5h0M300.2 521.7h0M322.0 481.9h0M199.9 419.6h0M300.1 493.6h0M265.6 482.8h0M269.3 484.5h0M282.2 522.8h0M237.1 435.8h0M309.8 515.7h0M253.6 500.3h0M255.7 427.6h0M325.0 551.6h0M361.3 489.5h0M360.3 473.9h0M310.2 552.3h0M354.0 479.0h0M376.5 462.2h0M227.2 469.4h0M222.9 446.8h0M339.8 521.1h0M333.7 477.9h0M333.8 460.8h0M222.0 452.8h0M300.0 497.9h0M378.7 434.1h0M313.2 468.7h0M337.9 467.3h0M355.9 463.4h0M249.1 494.3h0M299.9 509.5h0M253.8 512.9h0M375.9 454.0h0M262.0 460.5h0M303.3 519.8h0M302.5 537.4h0M244.3 446.0h0M320.3 486.8h0M396.9 477.2h0M324.8 525.8h0M380.8 460.8h0M293.4 489.8h0M315.9 570.6h0M354.8 503.5h0M332.5 509.0h0M271.6 434.4h0M436.6 415.3h0M340.7 524.1h0M301.3 508.0h0M236.8 432.2h0M342.1 483.9h0M340.6 549.2h0M217.7 449.3h0M345.3 497.4h0M309.8 479.1h0M354.8 435.5h0M313.3 508.7h0M367.2 464.6h0M463.5 462.7h0M218.6 450.3h0M473.9 423.0h0M218.7 418.6h0M401.2 457.6h0M333.6 466.1h0M295.5 535.6h0M226.9 467.6h0M319.4 474.2h0M283.5 519.9h0M398.2 434.1h0M438.7 404.8h0M243.4 437.7h0M220.6 437.8h0M356.6 443.2h0M287.4 487.0h0M360.0 492.7h0M111.3 431.1h0M314.0 494.2h0M253.1 473.3h0M438.5 421.4h0M319.4 544.4h0M472.0 410.1h0M349.0 475.4h0M348.8 502.0h0M400.9 446.5h0M366.7 433.9h0M320.5 449.7h0M214.5 400.0h0M297.2 486.5h0M328.1 447.9h0M339.2 455.3h0M360.7 460.0h0M241.3 464.1h0M458.8 411.2h0M321.9 509.9h0M334.6 478.5h0M457.8 403.2h0M221.3 408.1h0M283.0 472.4h0M293.4 490.6h0M306.6 501.3h0M306.8 549.9h0M355.6 529.3h0M227.6 446.3h0M368.9 449.8h0M283.7 491.4h0M325.1 505.3h0M334.8 463.5h0M285.3 483.5h0M457.9 394.2h0M300.5 463.4h0M360.2 435.6h0M283.1 487.6h0M236.6 442.6h0M438.7 405.2h0M288.0 501.6h0M335.6 546.9h0M252.7 452.3h0M320.6 499.8h0M318.6 448.0h0M326.3 481.5h0M339.2 424.5h0M362.3 441.9h0M376.1 438.5h0M122.2 444.2h0M252.9 477.4h0M306.2 460.5h0M320.1 489.2h0M334.0 537.5h0M290.1 477.1h0M361.1 452.0h0M278.8 488.4h0M465.2 390.6h0M357.0 504.9h0M377.7 436.1h0M375.0 456.1h0M273.6 541.3h0M325.4 513.0h0M329.1 487.3h0M268.0 501.7h0M300.4 512.8h0M319.3 544.6h0M200.1 422.2h0M300.9 487.5h0M320.6 460.9h0M279.9 506.2h0M140.4 441.7h0M265.1 437.3h0M274.5 502.8h0M295.7 426.7h0M345.6 522.6h0M371.0 451.3h0M297.3 450.6h0M396.5 496.1h0M111.7 413.8h0M296.1 514.3h0M288.8 471.9h0M200.1 401.9h0M338.9 499.0h0M270.3 445.4h0M225.1 431.6h0M109.4 415.0h0M335.2 485.8h0M300.3 517.3h0M251.3 456.7h0M274.3 578.9h0M359.1 536.9h0M400.5 427.1h0M295.7 465.6h0M437.0 415.9h0M263.7 464.9h0M335.0 512.4h0M321.2 467.8h0M280.9 431.3h0M439.7 414.3h0M396.2 455.0h0M369.4 467.8h0M265.7 474.8h0M473.9 431.8h0M251.0 413.8h0M307.6 529.5h0M356.0 478.0h0M332.2 552.7h0M223.7 452.0h0M200.0 420.6h0M237.1 495.7h0M275.4 492.5h0M352.2 487.2h0M371.8 464.2h0M270.5 500.7h0M310.8 466.5h0M359.8 501.0h0M277.1 556.6h0M290.9 501.7h0M250.6 435.8h0M142.3 434.2h0M259.7 431.7h0M246.2 480.8h0M376.5 463.5h0M398.9 416.9h0M286.5 522.4h0M383.5 480.2h0M136.2 399.4h0M360.2 450.3h0M290.4 485.4h0M335.7 522.9h0M362.8 472.9h0M316.1 537.2h0M220.5 399.8h0M403.5 441.8h0M201.3 424.2h0M374.2 456.0h0M366.1 457.5h0M318.1 491.9h0M222.4 457.0h0M275.5 454.8h0M371.7 516.1h0M402.7 436.6h0M319.5 522.4h0M310.4 520.3h0M274.4 450.1h0M305.9 518.7h0M399.1 429.5h0M390.2 455.9h0M325.5 551.9h0M335.1 432.0h0M460.5 388.2h0M146.1 440.5h0M327.8 452.5h0M276.0 483.3h0M223.4 463.0h0M318.0 506.2h0M397.9 492.8h0M377.7 436.8h0M309.3 456.2h0M470.1 398.4h0M340.7 510.1h0M288.3 485.7h0M333.6 479.8h0M357.4 526.4h0M329.5 462.5h0M360.0 454.2h0M254.4 504.1h0M333.2 490.1h0M298.2 556.0h0M310.4 551.0h0M369.2 477.8h0M306.9 483.4h0M281.7 532.5h0M283.6 545.1h0M458.8 408.4h0M292.7 541.8h0M327.2 486.3h0M353.5 523.5h0M246.6 463.3h0M340.3 506.8h0M327.4 454.0h0M313.7 481.8h0M315.9 538.9h0M265.5 478.1h0M274.1 472.2h0M339.8 479.3h0M350.2 545.4h0M289.5 491.2h0M324.9 541.9h0M292.6 442.4h0M313.5 478.1h0M391.1 432.5h0M261.9 508.9h0M368.7 476.6h0M308.4 518.6h0M355.3 458.0h0M472.6 367.1h0M324.2 463.3h0M348.3 455.5h0M376.3 459.3h0M139.8 394.4h0M223.7 448.8h0M381.5 456.2h0M386.8 428.5h0M327.4 438.4h0M346.7 485.5h0M332.5 563.0h0M252.9 472.8h0M260.3 477.3h0M294.8 462.8h0M283.3 548.6h0M396.9 470.5h0M355.6 457.0h0M244.1 408.2h0M470.1 419.3h0M342.2 478.7h0M321.5 467.6h0M339.6 483.4h0M302.7 458.5h0M253.1 484.4h0M213.4 408.4h0M322.0 484.4h0M143.1 436.2h0M302.8 514.8h0M303.2 519.0h0M346.3 504.7h0M375.1 455.3h0M377.0 426.3h0M377.5 432.0h0M290.4 492.5h0M346.3 550.1h0M313.9 482.1h0M262.4 498.3h0M306.8 575.5h0M206.6 395.9h0M360.2 471.0h0M327.3 522.4h0M333.2 501.5h0M362.5 474.2h0M460.9 389.3h0M362.5 516.4h0M295.0 494.6h0M394.8 418.9h0M349.7 484.7h0M344.7 460.0h0M292.3 522.2h0M338.6 465.3h0M383.4 438.1h0M266.3 424.9h0M277.3 526.5h0M304.1 513.3h0M147.2 416.1h0M334.5 532.5h0M325.0 545.7h0M322.6 492.6h0M374.1 438.1h0M390.9 430.5h0M283.3 476.3h0M295.4 486.6h0M377.8 433.7h0M268.3 543.6h0M231.5 504.0h0M281.1 473.9h0M274.7 529.4h0M236.8 458.3h0M291.5 456.7h0M254.6 480.8h0M309.5 472.8h0M290.0 458.1h0M295.9 521.1h0M264.2 449.8h0M261.7 469.1h0M364.9 459.1h0M262.1 483.8h0M304.0 462.0h0M236.6 444.4h0M334.2 489.3h0M335.2 520.7h0M360.4 448.6h0M349.0 474.9h0M306.4 506.6h0M283.8 538.2h0M322.4 527.6h0M407.9 421.1h0M248.4 494.0h0M275.1 439.3h0M300.5 520.9h0M339.9 538.4h0M374.8 454.6h0M275.0 499.6h0M301.2 486.3h0M295.7 459.1h0M252.9 474.9h0M391.1 481.4h0M463.9 375.0h0M438.6 417.5h0M384.2 462.1h0M347.2 532.2h0M219.3 431.7h0M275.3 431.2h0M252.5 471.7h0M387.7 430.0h0M300.6 497.3h0M316.5 547.7h0M319.6 463.0h0M327.7 453.8h0M350.5 485.1h0M292.9 500.0h0M332.8 541.3h0M276.7 489.1h0M339.9 478.2h0M316.0 496.0h0M396.4 497.8h0M356.8 546.1h0M302.6 471.2h0M262.4 485.3h0M334.5 509.7h0M241.2 455.5h0M259.1 436.3h0M152.1 409.4h0M232.7 457.1h0M220.7 420.9h0M262.6 494.8h0M275.7 493.3h0M303.0 539.4h0M335.1 541.6h0M295.9 534.3h0M379.3 419.1h0M282.1 509.2h0M359.8 495.6h0M264.3 498.6h0M302.9 488.5h0M315.7 480.4h0M340.3 533.7h0M472.0 415.2h0M113.2 417.1h0M254.2 507.3h0M319.4 493.9h0M377.5 457.2h0M281.5 516.8h0M376.1 458.5h0M290.0 507.2h0M277.5 481.3h0M367.2 476.1h0M342.1 484.2h0M223.5 462.0h0M251.3 448.4h0M387.1 483.8h0M355.5 452.6h0M270.1 502.1h0M227.9 431.9h0M306.4 474.6h0M301.2 516.8h0M270.8 459.4h0M401.0 436.3h0M270.3 452.7h0M322.2 535.2h0M321.5 530.2h0M329.1 511.3h0M474.9 410.9h0M289.8 490.3h0M353.2 456.4h0M298.9 500.3h0M304.1 482.6h0M219.3 430.8h0M332.6 553.0h0M356.8 494.5h0M276.3 488.3h0M119.2 432.2h0M280.6 501.9h0M300.6 487.1h0M465.4 419.3h0M397.8 468.7h0M327.8 497.0h0M314.0 573.8h0M295.6 492.4h0M305.7 494.1h0M361.1 475.6h0M339.9 442.6h0M227.5 460.9h0M311.5 472.4h0M298.5 504.4h0M205.5 405.6h0M465.4 395.0h0M289.5 519.6h0M256.5 533.1h0M362.3 441.8h0M248.3 480.5h0M335.3 510.5h0M295.5 482.3h0M243.7 439.4h0M306.5 504.6h0M295.8 483.9h0M321.3 449.0h0M328.9 489.5h0M396.4 453.6h0M360.2 525.4h0M285.2 465.4h0M398.0 435.1h0M357.1 438.4h0M363.1 494.9h0M400.9 486.2h0M462.6 400.9h0M399.6 426.6h0M336.3 483.6h0M374.3 476.8h0M371.3 451.8h0M471.9 397.9h0M375.5 469.5h0M109.4 412.1h0M394.0 435.2h0M348.7 512.2h0M457.9 402.6h0M369.1 451.6h0M374.5 413.9h0M457.3 386.0h0M297.0 471.6h0M360.6 461.8h0M335.8 536.9h0M319.0 492.3h0M339.3 511.1h0M271.8 447.5h0M227.0 466.7h0M335.0 538.7h0M356.7 532.1h0M367.0 471.9h0M340.2 520.1h0M227.5 443.3h0M356.8 474.6h0M279.4 507.1h0M390.8 477.8h0M323.1 496.3h0M298.6 494.3h0M275.8 517.7h0M304.5 500.8h0M317.2 503.7h0M319.7 532.4h0M306.1 486.7h0M348.0 479.7h0M394.9 424.7h0M316.6 566.2h0M300.5 552.7h0M237.9 464.5h0M297.6 418.6h0M459.0 438.6h0M202.4 422.3h0M300.1 571.3h0M298.8 479.7h0M134.7 412.4h0M356.0 457.9h0M264.3 468.0h0M368.9 512.8h0M467.3 409.3h0M367.6 506.0h0M283.0 489.7h0M247.6 440.9h0M349.9 505.7h0M266.1 447.5h0M244.4 440.1h0M320.9 440.3h0M294.7 481.9h0M327.5 488.0h0M354.9 438.0h0M345.9 517.0h0M347.1 515.1h0M280.3 539.1h0M436.9 431.2h0M224.5 440.1h0M356.9 450.6h0M301.9 502.3h0M359.5 472.4h0M381.4 470.3h0M374.7 482.7h0M268.0 499.1h0M274.2 555.8h0M289.7 480.0h0M322.7 449.5h0M329.7 469.6h0M259.3 444.5h0M289.6 495.4h0M299.9 470.7h0M262.5 510.2h0M251.3 454.5h0M297.4 445.4h0M244.4 440.4h0M372.2 463.7h0M436.3 410.8h0M388.1 427.5h0M291.1 499.6h0M324.7 526.7h0M321.4 450.0h0M273.0 464.4h0M195.4 395.3h0M256.2 439.8h0M223.7 461.4h0M313.8 530.4h0M334.7 508.4h0M368.5 462.5h0M302.5 490.5h0M310.4 495.2h0M220.4 438.5h0M366.9 515.3h0M357.2 431.1h0M108.6 429.1h0M375.8 455.0h0M356.8 511.8h0M306.8 545.9h0M375.1 480.0h0M367.6 435.8h0M282.0 488.2h0M335.2 505.5h0M461.5 412.4h0M374.4 434.4h0M271.4 444.6h0M194.9 402.5h0M356.9 447.2h0M283.7 495.5h0M297.7 540.2h0M304.0 483.2h0M294.7 410.7h0M437.3 409.4h0M237.9 455.8h0M375.0 468.5h0M112.8 421.6h0M322.1 481.2h0M362.1 445.9h0M278.8 493.9h0M348.4 482.9h0M322.2 465.8h0M354.9 412.2h0M475.8 417.6h0M268.0 502.6h0M345.7 493.4h0M281.6 558.0h0M390.1 468.1h0M258.7 517.8h0M300.0 524.9h0M227.8 470.3h0M310.7 557.5h0M374.7 453.8h0M121.5 452.9h0M300.2 539.6h0M399.4 411.5h0M399.9 439.0h0M366.8 456.7h0M114.5 425.8h0M287.1 504.1h0M359.7 457.6h0M268.4 496.4h0M323.9 494.6h0M298.1 505.6h0M339.8 486.9h0M374.3 520.0h0M338.0 522.0h0M250.5 427.1h0M219.9 462.0h0M397.8 479.6h0M120.4 437.5h0M322.4 518.0h0M283.6 505.5h0M265.2 467.2h0M355.4 465.4h0M321.4 437.3h0M388.9 471.1h0M317.6 484.1h0M460.4 382.3h0M280.1 504.7h0M340.6 492.1h0M281.1 452.1h0M312.8 458.9h0M360.1 442.1h0M317.1 547.3h0M227.1 457.1h0M378.9 418.7h0M376.5 449.1h0M227.6 437.1h0M375.5 458.4h0M342.5 473.6h0M360.5 508.9h0M250.2 498.2h0M339.3 488.5h0M335.9 575.7h0M394.2 433.0h0M367.1 430.1h0M219.3 446.9h0M310.1 496.8h0M304.4 494.7h0M344.6 498.4h0M339.2 493.3h0M225.0 431.3h0M279.0 500.3h0M362.8 452.1h0M236.9 413.2h0M380.5 439.0h0M388.3 427.0h0M357.2 463.0h0M148.3 389.8h0M391.9 458.5h0M397.9 434.2h0M248.8 526.0h0M206.6 401.9h0M128.3 412.8h0M142.7 416.1h0M374.4 480.2h0M360.4 497.4h0M340.3 486.0h0M110.5 437.5h0M259.4 473.4h0M273.5 492.8h0M271.3 476.5h0M264.9 487.1h0M302.5 491.4h0M261.7 453.5h0M320.5 484.8h0M311.0 436.8h0M285.3 491.1h0M258.9 508.3h0M333.4 459.0h0M297.2 441.1h0M283.4 453.7h0M320.6 476.3h0M259.8 480.0h0M349.1 481.6h0M350.0 515.7h0M295.3 431.7h0M324.8 517.2h0M299.8 520.7h0M306.5 469.3h0M327.4 477.2h0M201.3 412.6h0M219.9 437.8h0M302.2 481.5h0M472.0 471.1h0M295.4 492.8h0M264.2 477.9h0M376.0 452.3h0M314.1 520.2h0M374.9 518.6h0M371.0 446.2h0M297.7 553.2h0M375.0 443.9h0M461.6 457.7h0M322.2 491.5h0M351.4 499.9h0M219.0 402.4h0M281.0 464.4h0M356.1 450.7h0M317.4 564.0h0M310.2 456.8h0M242.0 403.3h0M323.7 471.8h0M333.7 492.3h0M313.3 460.3h0M226.6 401.9h0M273.0 510.5h0M371.7 502.4h0M236.6 429.2h0M474.5 439.0h0M243.8 434.3h0M349.5 495.1h0M366.9 508.2h0M289.6 532.2h0M203.7 387.0h0M374.9 439.7h0M386.7 430.8h0M339.4 524.9h0M297.8 477.3h0M329.8 521.3h0M322.0 449.2h0M264.1 507.6h0M313.6 513.2h0M407.1 410.0h0M303.2 546.4h0M265.5 477.1h0M243.2 448.8h0M376.2 461.2h0M322.4 474.3h0M296.2 549.4h0M318.7 504.2h0M215.0 414.0h0M377.5 427.3h0M265.9 495.0h0M277.4 530.9h0M359.7 513.5h0M345.5 499.2h0M110.9 428.3h0M359.9 514.3h0M258.7 519.6h0M340.6 548.1h0M279.7 490.9h0M357.6 427.7h0M279.7 552.2h0M219.9 445.4h0M379.4 474.1h0M299.0 538.7h0M339.4 490.4h0M376.3 458.8h0M463.5 384.2h0M367.8 421.5h0M357.7 504.6h0M355.0 423.4h0M399.8 427.6h0M281.6 487.4h0M283.1 538.8h0M352.4 517.9h0M345.3 472.1h0M341.7 531.7h0M322.7 502.2h0M382.2 432.3h0M324.6 523.5h0M302.8 498.8h0M301.0 481.3h0M357.1 454.5h0M464.5 398.4h0M386.3 414.8h0M400.5 434.7h0M303.0 507.7h0M368.5 472.5h0M306.1 547.5h0M360.3 450.8h0M221.8 429.8h0M286.9 505.0h0M317.6 488.6h0M279.8 486.7h0M261.5 504.9h0M465.0 371.6h0M324.1 474.6h0M268.1 505.9h0M306.4 528.6h0M473.9 444.4h0M308.7 545.1h0M325.4 476.3h0M289.4 467.5h0M236.9 447.5h0M262.4 493.1h0M273.0 444.4h0M321.8 519.3h0M357.0 450.4h0M328.4 457.8h0M299.6 536.1h0M335.0 459.5h0M399.4 409.4h0M399.0 435.4h0M399.6 416.0h0M363.0 447.8h0M295.3 480.3h0M220.2 404.8h0M339.7 475.9h0M264.2 507.3h0M315.5 548.1h0M328.0 414.3h0M275.3 453.6h0M293.2 448.5h0M312.5 508.4h0M295.1 502.4h0M354.6 429.8h0M368.7 454.7h0M256.6 483.9h0M294.9 478.5h0M293.4 468.1h0M373.9 453.7h0M322.1 478.1h0M299.0 531.5h0M250.5 449.1h0M297.3 487.7h0M264.9 491.3h0M259.5 463.1h0M357.7 441.2h0M350.0 520.9h0M309.9 474.4h0M287.6 490.7h0M281.7 549.4h0M324.0 571.5h0M281.8 488.8h0M281.7 493.7h0M322.7 478.8h0M339.7 500.7h0M368.6 479.7h0M244.0 436.7h0M349.8 505.9h0M270.2 489.5h0M215.5 429.8h0M224.7 447.6h0M374.2 443.5h0M245.9 491.6h0M225.2 438.4h0M293.1 496.5h0M300.5 471.4h0M295.3 462.2h0M339.9 482.3h0M300.0 497.7h0M275.4 514.6h0M328.6 506.1h0M264.9 460.8h0M321.7 482.5h0M374.4 524.5h0M339.1 495.9h0M360.4 492.0h0M328.3 453.2h0M289.4 454.2h0M273.9 503.2h0M293.3 505.4h0M289.3 487.8h0M438.0 403.9h0M371.1 481.4h0M334.0 493.0h0M285.4 465.2h0M218.5 448.0h0M235.7 489.1h0M388.3 451.9h0M222.9 444.2h0M360.1 446.7h0M401.3 426.3h0M359.7 483.0h0M289.5 464.9h0M308.2 549.0h0M269.9 458.4h0M362.1 446.0h0M341.8 532.8h0M346.8 494.3h0M332.8 510.3h0M196.1 400.0h0M386.6 412.7h0M292.2 485.6h0M358.5 440.5h0M297.4 499.0h0M324.1 569.8h0M280.0 494.3h0M308.0 539.1h0M319.7 527.5h0M325.1 508.6h0M241.8 459.9h0M278.8 506.9h0M328.3 482.8h0M321.9 494.9h0M221.1 451.5h0M320.1 454.8h0M320.6 487.6h0M293.2 453.6h0M350.0 516.3h0M225.4 442.8h0M296.2 533.5h0M231.4 462.1h0M243.8 465.0h0M243.9 422.5h0M409.3 428.9h0M311.0 428.7h0M291.9 577.1h0M117.7 437.5h0M287.0 475.4h0M289.8 500.4h0M395.9 478.4h0M110.1 424.1h0M316.5 580.4h0M259.2 465.8h0M357.6 470.2h0M260.0 504.6h0M316.3 572.7h0M264.6 487.5h0M316.4 519.7h0M243.4 393.3h0M247.9 464.5h0M290.3 506.4h0M311.3 513.7h0M404.2 439.2h0M137.4 416.1h0M357.7 466.9h0M314.0 499.9h0M268.3 505.8h0M261.6 488.0h0M200.1 402.7h0M298.3 456.4h0M296.7 533.0h0M437.7 416.3h0M354.7 429.7h0M237.7 458.2h0M282.2 503.9h0M273.0 525.0h0M321.3 490.7h0M339.6 455.0h0M456.3 353.6h0M375.2 455.7h0M474.0 426.1h0M465.4 415.9h0M399.4 409.8h0M222.7 441.8h0M354.8 429.1h0M298.7 485.9h0M220.8 451.3h0M314.3 510.8h0M313.5 460.1h0M334.4 535.8h0M368.9 501.3h0M349.7 483.1h0M473.8 429.0h0M139.6 403.2h0M475.8 446.0h0M290.7 509.1h0M248.2 427.9h0M221.6 435.0h0M391.8 435.9h0M253.1 545.0h0M226.6 465.8h0M345.8 529.6h0M334.8 480.4h0M254.3 482.8h0M298.4 508.8h0M303.0 540.0h0M298.7 499.2h0M265.2 486.2h0M372.0 496.7h0M320.1 480.9h0M220.8 454.8h0M379.4 428.9h0M317.2 507.6h0M333.8 556.2h0M316.1 526.4h0M367.9 519.6h0M376.5 520.6h0M388.2 469.3h0M279.6 491.8h0M381.5 471.5h0M325.5 545.1h0M252.0 468.3h0M218.4 439.8h0M326.7 521.5h0M306.3 518.5h0M287.3 465.7h0M379.6 461.7h0M256.5 494.5h0M391.8 441.2h0M308.4 555.3h0M222.6 442.5h0M281.7 524.0h0M300.4 496.4h0M281.8 517.4h0M301.0 504.0h0M233.0 443.1h0M344.7 452.2h0M280.3 506.3h0M259.0 469.9h0M350.2 539.6h0M292.0 534.8h0M282.2 456.7h0M219.2 392.8h0M217.4 436.4h0M298.4 561.1h0M300.3 464.8h0M390.6 431.4h0M460.0 372.9h0M400.0 443.9h0M383.6 459.6h0M295.1 514.6h0M375.8 431.8h0M322.3 465.1h0M221.7 432.6h0M249.0 523.7h0M220.5 422.6h0M217.3 459.7h0M261.8 463.6h0M372.1 472.2h0M281.3 505.4h0M270.0 466.5h0M274.7 536.3h0M322.1 517.6h0M269.9 475.5h0M302.6 493.7h0M401.0 441.6h0M375.0 439.4h0M409.3 434.7h0M200.5 405.6h0M295.7 515.2h0M347.2 546.6h0M256.8 444.9h0M321.2 487.4h0M277.4 504.2h0M292.6 460.8h0M311.0 453.2h0M378.9 470.7h0M281.8 476.1h0M270.4 489.6h0M401.1 456.3h0M281.4 481.4h0M464.9 428.7h0M376.3 455.5h0M275.6 500.0h0M247.9 455.4h0M364.6 511.0h0M242.9 453.6h0M283.4 502.5h0M298.8 507.5h0M322.9 540.4h0M387.9 458.1h0M290.8 459.9h0M242.2 431.2h0M258.9 524.5h0M275.7 519.3h0M295.2 462.4h0M280.5 524.3h0M347.8 492.9h0M289.4 539.7h0M399.6 424.3h0M368.0 508.5h0M299.1 545.3h0M335.5 536.6h0M471.1 430.1h0M399.6 420.2h0M275.4 457.9h0M319.2 469.1h0M329.5 477.5h0M377.8 468.0h0M284.5 464.9h0M340.4 561.3h0M346.3 475.6h0M317.1 535.2h0M308.4 542.4h0M396.3 451.4h0M267.2 413.3h0M256.1 521.7h0M270.2 496.0h0M312.9 483.0h0M439.0 413.3h0M146.8 448.9h0M283.5 540.1h0M319.7 475.2h0M250.8 462.9h0M289.9 461.3h0M283.2 491.7h0M286.0 474.4h0M356.9 445.8h0M383.8 442.5h0M324.4 569.0h0M340.5 449.7h0M324.2 536.3h0M123.0 445.0h0M395.6 445.2h0M264.9 458.1h0M304.6 558.9h0M238.2 496.0h0M319.5 551.9h0M271.8 452.6h0M228.7 418.6h0M323.9 518.8h0M378.1 443.0h0M263.2 459.8h0M265.0 477.7h0M138.9 486.3h0M317.7 490.8h0M473.9 421.0h0M379.2 461.5h0M309.9 483.6h0M439.5 432.1h0M384.0 480.8h0M374.5 479.2h0M260.3 498.1h0M285.2 496.3h0M243.6 467.4h0M289.6 459.7h0M142.3 452.9h0M298.5 546.6h0M266.1 476.4h0M353.4 540.8h0M466.4 400.9h0M465.4 380.8h0M319.5 512.7h0M280.4 515.2h0M298.6 504.3h0M308.2 511.6h0M369.2 453.6h0M313.8 548.3h0M264.6 486.6h0M283.9 502.4h0M388.5 472.3h0M297.8 552.9h0M291.1 553.8h0M199.8 401.5h0M321.4 508.2h0M313.2 489.3h0M283.0 450.6h0M302.7 493.0h0M321.8 452.0h0M361.4 465.1h0M224.2 459.9h0M259.1 458.7h0M295.0 487.2h0M362.3 452.8h0M122.2 450.0h0M342.3 427.8h0M332.7 540.7h0M303.5 495.9h0M220.4 396.5h0M367.3 444.4h0M396.2 451.0h0M306.9 529.9h0M296.1 523.6h0M325.2 523.2h0M347.1 504.5h0M329.1 534.3h0M301.4 549.7h0M345.5 464.6h0M404.9 421.1h0M299.8 454.0h0M379.8 430.3h0M335.5 468.3h0M248.4 474.5h0M368.5 445.0h0M254.0 494.4h0M287.9 486.1h0M254.5 426.0h0M235.8 493.6h0M348.7 466.3h0M283.7 553.7h0M319.3 569.1h0M361.7 478.8h0M357.1 449.6h0M274.4 514.0h0M234.4 413.1h0M274.8 478.9h0M463.5 447.7h0M305.7 518.1h0M320.3 517.1h0M295.6 503.4h0M324.4 514.7h0M283.7 528.1h0M357.6 489.1h0M145.3 477.3h0M276.5 467.9h0M335.3 570.7h0M360.1 480.9h0M265.5 439.3h0M268.3 485.9h0M396.6 462.7h0M281.7 553.0h0M360.3 453.0h0M143.8 492.0h0M225.0 421.9h0M256.8 519.1h0M436.5 423.0h0M280.9 474.7h0M220.1 404.0h0M271.6 450.6h0M300.5 478.7h0M369.3 447.4h0M273.9 478.4h0M290.7 554.5h0M290.2 465.4h0M264.9 452.6h0M222.8 441.4h0M301.2 516.5h0M333.1 445.8h0M289.6 530.6h0M283.6 475.6h0M271.8 459.8h0M257.6 426.3h0M270.2 473.2h0M221.6 454.7h0M151.7 418.8h0M278.7 490.8h0M396.6 444.7h0M360.4 477.0h0M250.9 439.6h0M396.3 452.8h0M280.5 501.5h0M271.3 475.1h0M275.1 516.5h0M374.2 442.3h0M282.9 472.8h0M376.6 487.0h0M368.3 460.3h0M270.3 472.6h0M236.7 466.6h0M359.4 534.1h0M198.0 391.7h0M344.7 513.6h0M236.8 441.6h0M339.4 468.8h0M358.3 449.2h0M360.2 435.7h0M289.9 519.5h0M289.3 485.4h0M270.6 497.0h0M321.9 459.8h0M362.7 470.5h0M300.1 458.3h0M461.6 440.2h0M262.6 494.6h0M135.9 397.7h0M373.9 442.8h0M388.1 457.2h0M386.5 414.4h0M364.2 490.2h0M242.6 457.1h0M266.3 490.5h0M330.0 461.5h0M354.3 424.4h0M273.8 473.8h0M243.4 446.4h0M409.3 426.9h0M350.0 479.4h0M355.8 439.1h0M211.8 403.3h0M318.5 468.3h0M222.9 450.7h0M334.1 458.3h0M220.6 427.2h0M345.5 485.7h0M325.5 510.7h0M279.4 544.3h0M289.3 519.0h0M319.7 473.4h0M289.9 476.9h0M299.9 549.2h0M275.4 469.8h0M349.7 513.4h0M258.0 430.6h0M367.5 438.6h0M318.7 515.3h0M397.0 466.9h0M350.2 489.9h0M313.8 473.0h0M306.4 547.9h0M334.5 530.5h0M325.0 537.8h0M315.2 435.1h0M291.9 537.8h0M374.3 435.3h0M282.8 492.0h0M329.7 476.2h0M324.1 534.0h0M220.4 455.9h0M374.5 447.7h0M376.7 475.9h0M399.5 407.1h0M258.5 464.4h0M317.0 460.7h0M355.1 510.7h0M355.6 455.6h0M321.6 484.1h0M261.7 433.5h0M293.6 514.4h0M288.9 521.8h0M351.5 482.6h0M334.9 548.3h0M251.2 491.0h0M360.8 522.6h0M301.4 526.7h0M266.1 421.1h0M350.0 495.3h0M274.5 448.5h0M255.1 451.1h0M470.7 390.1h0M304.5 485.7h0M300.5 512.6h0M300.1 524.5h0M329.5 480.7h0M295.8 519.2h0M278.3 501.2h0M359.3 535.0h0M380.2 439.8h0M460.6 421.2h0M286.9 503.4h0M349.8 491.7h0M275.2 505.1h0M273.8 514.9h0M383.2 469.9h0M289.8 506.0h0M322.6 454.5h0M390.5 428.7h0M304.7 508.1h0M300.8 511.9h0M219.7 397.7h0M267.9 537.9h0M245.9 484.8h0M379.9 437.7h0M289.7 538.1h0M360.9 480.5h0M336.8 463.0h0M361.8 440.7h0M339.6 471.6h0M300.7 533.2h0M375.0 447.9h0M338.3 469.8h0M289.3 518.7h0M203.7 384.7h0M303.1 516.6h0M473.9 436.8h0M137.8 388.7h0M285.9 503.6h0M300.6 482.7h0M207.1 408.9h0M399.2 417.7h0M310.4 540.5h0M278.9 467.0h0M373.4 473.6h0M260.5 451.9h0M289.6 501.0h0M354.5 506.7h0M248.1 432.2h0M300.9 524.7h0M226.8 450.8h0M319.0 510.5h0M322.6 544.0h0M265.5 442.2h0M399.1 423.1h0M264.1 469.3h0M396.3 472.9h0M371.3 468.8h0M333.0 491.0h0M357.6 483.4h0M370.9 464.1h0M368.5 474.4h0M341.9 489.2h0M234.4 460.1h0M335.2 477.4h0M225.3 457.8h0M296.8 447.1h0M347.2 533.1h0M252.8 491.5h0M274.1 449.5h0M363.0 446.9h0M244.4 432.7h0M289.7 489.0h0M388.0 420.6h0M264.5 482.0h0M339.3 490.8h0M406.4 497.7h0M459.3 388.5h0M300.6 509.2h0M459.7 359.1h0M270.3 478.3h0M333.2 458.8h0M373.9 428.2h0M223.7 459.2h0M309.8 514.1h0M292.7 506.5h0M367.3 441.6h0M269.6 535.0h0M262.2 483.9h0M290.9 470.3h0M369.3 460.7h0M357.3 544.3h0M319.8 490.7h0M396.4 476.6h0M137.4 419.4h0M274.2 570.5h0M307.2 454.4h0M376.4 451.7h0M220.0 417.3h0M264.5 497.8h0M267.9 525.3h0M313.0 444.6h0M227.2 426.6h0M380.9 450.2h0M318.6 455.4h0M293.2 467.7h0M285.2 527.8h0M300.9 528.4h0M321.5 512.8h0M336.4 494.5h0M253.9 514.0h0M408.6 414.6h0M274.1 498.2h0M368.7 513.9h0M333.8 458.5h0M381.1 473.4h0M367.5 464.4h0M465.9 416.6h0M328.1 509.5h0M297.4 497.6h0M463.5 393.4h0M322.5 441.6h0M363.9 499.9h0M265.1 481.2h0M257.1 436.6h0M284.9 504.3h0M268.1 534.4h0M459.7 405.9h0M232.5 474.0h0M400.1 410.6h0M227.5 445.6h0M357.2 454.3h0M235.3 399.1h0M275.6 540.7h0M268.1 531.3h0M321.7 551.3h0M281.4 550.8h0M373.5 449.9h0M305.9 491.2h0M282.0 542.3h0M227.6 440.4h0M107.9 434.2h0M373.4 433.6h0M335.0 532.0h0M340.4 504.9h0M321.9 492.0h0M313.7 475.0h0M321.5 471.3h0M199.2 421.4h0M376.2 486.3h0M322.1 484.8h0M324.3 567.3h0M221.9 438.1h0M380.1 444.0h0M256.3 434.2h0M264.9 431.2h0M321.5 466.8h0M321.7 490.5h0M380.7 466.1h0M401.3 428.9h0M324.1 453.0h0M289.5 479.2h0M296.5 508.3h0M234.1 450.7h0M279.1 494.4h0M300.3 509.7h0M244.1 425.0h0M375.6 438.7h0M355.7 503.1h0M375.1 488.1h0M295.3 569.8h0M218.6 453.4h0M278.6 492.9h0M298.7 545.5h0M326.5 496.7h0M312.9 534.5h0M300.9 479.9h0M283.8 482.9h0M459.0 375.9h0M260.1 492.6h0M466.4 405.9h0M292.1 516.3h0M322.1 499.7h0M310.3 464.0h0M366.0 484.5h0M281.1 532.8h0M374.8 475.8h0M340.4 527.3h0M230.2 446.0h0M359.7 469.8h0M313.2 507.3h0M300.5 508.6h0M353.3 497.0h0M242.6 456.9h0M397.9 463.9h0M349.9 515.3h0M374.4 481.0h0M340.7 498.0h0M277.3 484.6h0M279.1 454.5h0M306.5 559.6h0M327.4 450.5h0M281.8 531.9h0M368.3 463.2h0M254.9 515.7h0M473.0 416.8h0M206.1 439.5h0M285.5 456.6h0M342.1 487.6h0M368.8 512.1h0M220.4 411.8h0M335.3 513.2h0M111.5 421.3h0M394.4 449.2h0M320.2 481.0h0M323.8 503.6h0M374.8 459.6h0M283.5 513.0h0M470.6 394.1h0M300.8 545.7h0M288.4 554.4h0M319.5 523.2h0M401.5 438.5h0M277.3 525.9h0M255.8 494.5h0M236.5 448.0h0M299.0 485.8h0M325.1 548.6h0M335.1 503.2h0M262.0 520.6h0M399.1 454.1h0M320.1 457.0h0M383.7 431.7h0M270.7 428.9h0M271.1 460.2h0M324.5 497.8h0M379.6 437.6h0M301.2 531.9h0M311.6 485.0h0M355.3 469.3h0M315.5 501.6h0M252.6 477.8h0M289.6 555.1h0M217.1 422.3h0M388.7 455.4h0M220.8 416.3h0M283.4 485.0h0M399.0 415.6h0M302.8 521.8h0M367.9 498.8h0M244.9 475.0h0M317.0 520.8h0M289.9 510.6h0M141.9 430.8h0M285.0 536.6h0M396.3 447.0h0M353.6 498.1h0M264.3 468.8h0M332.0 543.4h0M269.5 464.9h0M280.0 493.5h0M264.6 504.5h0M300.6 467.9h0M293.7 532.1h0M324.5 498.8h0M360.0 547.9h0M321.5 495.7h0M208.2 430.2h0M368.1 470.8h0M375.1 499.2h0M207.6 413.5h0M299.9 501.8h0M280.5 511.1h0M227.8 436.0h0M399.7 437.2h0M238.2 493.6h0M292.1 516.9h0M367.5 430.6h0M348.7 473.8h0M220.3 414.3h0M346.5 529.3h0M280.9 526.8h0M257.4 448.0h0M325.1 538.1h0M333.7 557.0h0M353.4 496.3h0M331.9 542.8h0M283.7 484.7h0M440.2 406.8h0M253.0 473.7h0M262.7 459.2h0M345.8 493.9h0M370.8 493.8h0M406.0 498.4h0M371.5 444.2h0M303.4 522.0h0M352.7 449.7h0M357.2 504.2h0M371.4 447.3h0M304.3 551.2h0M327.2 566.4h0M326.5 526.1h0M227.4 453.4h0M284.5 457.7h0M311.8 493.3h0M306.3 505.7h0M241.2 412.8h0M316.3 548.6h0M295.0 429.1h0M281.8 562.1h0M310.8 510.4h0M377.4 446.8h0M274.0 538.5h0M392.2 489.5h0M348.7 472.3h0M313.7 495.7h0M227.3 440.7h0M322.4 507.4h0M239.4 460.8h0M471.8 419.6h0M357.5 514.6h0M287.2 502.9h0M246.3 423.3h0M373.9 418.2h0M306.3 519.3h0M300.8 496.3h0M292.9 505.9h0M277.6 518.0h0M285.2 479.8h0M408.6 460.0h0M289.7 468.3h0M224.3 459.9h0M278.2 507.7h0M299.0 495.1h0M271.4 474.2h0M270.2 447.8h0M270.1 480.8h0M289.0 482.5h0M231.6 448.9h0M265.4 445.9h0M460.7 431.0h0M110.1 409.4h0M200.7 421.2h0M265.5 464.1h0M278.2 486.3h0M359.2 536.0h0M334.7 497.6h0M402.0 427.6h0M326.3 514.3h0M468.2 416.8h0M462.7 387.4h0M323.0 511.8h0M251.0 447.6h0M320.4 512.5h0M267.9 489.0h0M394.5 463.3h0M265.2 456.8h0M275.9 471.1h0M281.7 547.9h0M275.9 445.5h0M225.0 430.9h0M462.6 446.9h0M301.4 461.1h0M283.9 535.3h0M459.3 400.3h0M400.2 425.1h0M253.0 500.5h0M332.6 530.8h0M366.3 500.6h0M320.0 481.2h0M321.7 527.0h0M321.5 473.1h0M289.9 503.3h0M322.6 542.2h0M298.9 514.7h0M320.4 453.6h0M283.3 462.6h0M374.1 502.1h0M297.4 527.1h0M303.0 550.3h0M374.4 448.3h0M332.1 564.7h0M321.6 519.5h0M283.7 490.4h0M357.6 539.8h0M257.6 522.2h0M302.5 536.3h0M354.9 430.2h0M322.5 451.7h0M243.2 448.5h0M324.1 500.5h0M355.8 444.3h0M275.5 499.9h0M202.9 434.4h0M333.6 457.0h0M371.4 457.1h0M377.7 451.4h0M355.7 483.8h0M267.9 505.6h0M397.7 433.7h0M321.8 457.5h0M355.7 456.6h0M300.1 525.1h0M360.3 444.5h0M333.9 485.0h0M245.3 430.1h0M367.3 431.5h0M336.2 491.1h0M300.3 506.7h0M371.9 488.8h0M310.4 470.1h0M281.7 461.8h0M300.8 482.5h0M325.4 516.8h0M382.6 425.6h0M281.8 493.8h0M322.6 463.8h0M278.5 493.0h0M309.5 527.3h0M285.9 511.4h0M313.4 420.6h0M390.2 461.4h0M381.2 422.0h0M280.0 494.1h0M261.7 515.5h0M396.7 448.3h0M144.9 466.3h0M320.4 513.6h0M302.7 479.3h0M398.2 428.8h0M291.3 513.0h0M379.7 442.0h0M319.5 568.4h0M300.5 478.9h0M399.6 430.3h0M283.5 531.6h0M150.2 403.2h0M326.5 553.6h0M322.2 480.6h0M227.4 442.3h0M300.4 502.6h0M295.7 522.8h0M211.3 419.7h0M382.2 426.8h0M360.2 457.4h0M322.4 450.7h0M333.0 483.5h0M306.5 484.9h0M308.2 539.8h0M327.5 444.7h0M265.4 474.6h0M302.4 502.8h0M302.5 512.1h0M340.3 480.0h0M300.3 453.0h0M305.1 463.6h0M218.5 430.5h0M293.1 517.7h0M281.8 528.4h0M407.9 443.1h0M252.4 488.4h0M368.6 509.6h0M323.1 481.0h0M346.3 487.0h0M296.1 533.9h0M223.3 438.8h0M241.5 441.7h0M321.9 457.3h0M314.1 495.4h0M301.1 505.1h0M370.8 521.6h0M279.6 489.9h0M357.8 491.6h0M322.7 455.8h0M235.8 428.8h0M227.3 440.2h0M322.1 484.5h0M326.5 486.4h0M302.5 457.7h0M227.6 434.5h0M243.5 424.5h0M249.9 411.7h0M313.6 519.6h0M204.5 398.2h0M195.0 370.5h0M283.6 523.1h0M367.5 431.9h0M346.9 478.4h0M357.3 434.9h0M381.2 505.6h0M391.9 456.8h0M270.1 480.5h0M198.2 414.4h0M224.5 430.6h0M284.0 474.0h0M471.1 415.1h0M355.5 456.9h0M399.0 419.3h0M236.9 434.8h0M360.6 437.2h0M315.7 459.3h0M345.4 488.6h0M283.5 501.3h0M355.6 456.5h0M262.0 441.4h0M322.5 421.9h0M287.6 497.7h0M285.8 475.9h0M467.2 430.3h0M300.8 486.1h0M360.6 471.7h0M278.7 523.7h0M276.3 485.5h0M253.3 442.9h0M318.2 488.9h0M333.3 469.3h0M277.0 502.3h0M409.3 443.8h0M376.3 410.4h0M377.8 432.4h0M248.0 454.6h0M251.1 451.3h0M360.3 482.3h0M273.2 469.6h0M309.3 461.5h0M281.1 478.7h0M357.1 486.6h0M340.4 508.0h0M285.1 470.4h0M265.0 475.8h0M360.0 447.0h0M374.8 433.1h0M399.7 405.8h0M462.6 379.2h0M320.9 540.7h0M322.4 428.8h0M283.3 495.6h0M278.6 493.4h0M383.9 482.6h0M289.3 480.9h0M109.8 426.6h0M290.8 530.6h0M357.2 533.1h0M302.5 529.3h0M252.5 505.2h0M306.8 513.8h0M143.4 450.9h0M221.7 458.7h0M269.8 446.2h0M295.4 525.4h0M349.1 476.5h0M355.6 471.4h0M293.0 482.2h0M222.8 460.2h0M274.2 512.4h0M299.9 500.5h0M264.4 477.5h0M223.6 444.4h0M386.3 433.2h0M463.7 402.4h0M374.2 542.5h0M145.3 413.3h0M138.1 403.7h0M377.2 437.8h0M354.5 423.0h0M397.6 447.9h0M367.3 445.4h0M371.0 465.8h0M117.0 429.5h0M339.6 504.3h0M268.3 541.9h0M233.1 416.9h0M269.7 515.8h0M360.0 493.4h0M351.0 523.8h0M301.6 494.5h0M371.4 476.5h0M314.2 528.2h0M295.2 477.7h0M473.8 404.5h0M222.5 436.2h0M265.0 456.1h0M439.5 432.1h0M322.6 560.4h0M338.6 456.0h0M289.0 508.3h0M398.4 429.8h0M381.8 408.7h0M324.4 496.1h0M274.9 453.2h0M437.3 402.9h0M300.1 453.4h0M347.1 486.6h0M144.2 436.7h0M205.5 411.2h0M313.0 502.7h0M472.0 469.4h0M280.2 470.9h0M389.6 474.2h0M376.5 461.0h0M333.5 544.8h0M357.4 453.5h0M327.6 522.2h0M112.4 450.0h0M371.2 510.3h0M260.8 445.8h0M317.0 457.5h0M340.2 470.3h0M297.8 544.8h0M474.9 439.3h0M473.0 464.4h0M318.2 501.4h0M393.9 431.0h0M360.3 449.4h0M148.0 386.0h0M321.9 549.5h0M376.0 428.7h0M309.5 531.0h0M245.6 396.9h0M261.5 506.0h0M253.3 486.9h0M298.7 532.6h0M293.2 521.5h0M396.5 444.3h0M358.0 501.7h0M332.3 537.2h0M313.6 482.8h0M253.1 481.3h0M275.0 508.0h0M390.5 432.7h0M356.7 428.1h0M227.3 475.0h0M141.2 442.9h0M302.9 492.7h0M302.1 526.9h0M321.5 540.2h0M362.4 515.0h0M364.5 457.7h0M333.2 509.3h0M375.8 459.0h0M304.7 546.2h0M337.9 502.8h0M333.2 464.3h0M360.9 466.6h0M333.5 514.5h0M207.1 399.1h0M350.0 483.8h0M309.6 461.7h0M289.9 473.6h0M375.8 480.4h0M400.0 430.7h0M376.5 464.9h0M110.5 435.8h0M302.8 535.4h0M252.5 485.4h0M265.4 471.7h0M292.1 424.8h0M407.1 402.9h0M336.1 485.4h0M366.4 460.5h0M318.1 491.6h0M399.8 411.0h0M194.5 389.8h0M121.1 440.8h0M368.2 512.5h0M362.7 455.2h0M151.0 404.1h0M404.2 447.0h0M242.8 446.4h0M373.8 442.6h0M298.8 489.6h0M360.0 472.7h0M274.2 498.0h0M304.5 466.0h0M243.1 430.7h0M360.3 466.4h0M300.6 487.4h0M466.4 375.9h0M332.4 557.9h0M249.0 474.6h0M463.5 434.3h0M262.1 472.3h0M369.3 485.2h0M356.8 490.6h0M278.8 506.7h0M357.5 530.2h0M301.6 543.1h0M339.9 476.8h0M357.4 528.3h0M318.1 451.4h0M396.6 483.2h0M334.6 491.2h0M225.5 439.0h0M437.6 410.7h0M350.0 553.3h0M281.4 480.4h0M236.1 480.6h0M297.9 511.4h0M309.7 556.7h0M363.1 462.4h0M310.2 484.5h0M356.9 448.2h0M221.7 456.5h0M118.8 438.8h0M360.5 440.3h0M334.4 517.4h0M387.7 431.5h0M313.7 525.6h0M298.4 498.6h0M328.0 488.8h0M371.2 462.7h0M322.2 482.2h0M334.1 440.5h0M222.0 439.9h0M151.0 412.8h0M313.5 492.0h0M320.0 467.1h0M295.6 521.3h0M387.9 467.5h0M368.0 467.6h0M318.3 526.0h0M200.6 428.2h0M313.4 541.6h0M322.1 512.6h0M280.7 496.1h0M251.1 450.8h0M461.6 396.7h0M460.9 390.1h0M313.0 470.5h0M462.5 431.6h0M360.1 493.1h0M275.8 454.0h0M360.1 489.9h0M462.4 376.8h0M300.9 495.5h0M249.1 524.1h0M296.9 464.6h0M193.9 411.4h0M223.3 448.9h0M246.4 482.2h0M353.3 475.1h0M333.1 492.7h0M458.8 394.3h0M300.2 476.5h0M283.1 497.3h0M296.9 541.3h0M309.3 551.4h0M248.5 441.1h0M282.7 500.8h0M467.3 431.0h0M339.5 461.0h0M243.0 465.0h0M292.1 517.9h0M326.4 501.7h0M472.0 460.2h0M289.4 475.0h0M459.5 415.3h0M355.5 496.0h0M253.1 485.9h0M305.2 523.0h0M237.1 451.8h0M399.0 434.9h0M324.9 529.9h0M387.7 429.7h0M205.5 403.8h0M397.7 429.0h0M236.5 457.9h0M362.4 429.9h0M322.8 492.4h0M289.4 536.9h0M299.0 519.1h0M275.6 524.6h0M273.4 550.1h0M340.5 460.3h0M322.8 475.1h0M300.9 520.0h0M283.7 498.5h0M306.3 542.9h0M315.8 508.2h0M328.5 514.9h0M459.7 386.7h0M278.6 481.8h0M237.0 443.0h0M289.2 484.1h0M461.6 463.6h0M227.4 471.2h0M458.8 487.8h0M324.5 507.0h0M275.3 499.3h0M355.9 491.3h0M275.8 529.7h0M474.2 398.7h0M270.5 470.1h0M374.9 467.4h0M368.2 507.8h0M219.7 452.5h0M346.7 470.1h0M304.0 471.1h0M275.6 455.3h0M398.5 432.2h0M340.8 454.3h0M227.2 448.0h0M359.9 475.4h0M290.8 507.1h0M149.5 394.9h0M293.4 495.0h0M313.8 515.5h0M329.4 487.9h0M319.3 560.4h0M270.1 457.4h0M224.6 456.9h0M355.3 433.3h0M323.6 507.6h0M291.6 506.1h0M375.3 444.8h0M297.0 495.6h0M354.1 433.0h0M439.5 408.1h0M321.5 460.5h0M473.9 430.1h0M367.0 442.5h0M271.3 485.8h0M367.5 438.2h0M274.7 518.4h0M289.8 478.3h0M310.7 472.0h0M435.8 426.3h0M226.6 421.4h0M455.0 482.0h0M364.5 454.8h0M264.7 447.0h0M264.6 473.5h0M381.0 455.8h0M143.4 468.9h0M313.7 516.2h0M361.1 487.7h0M357.0 428.6h0M322.1 525.2h0M471.1 376.7h0M321.3 473.3h0M396.4 494.4h0M295.0 465.8h0M328.6 489.6h0M301.0 536.5h0M338.4 482.0h0M296.9 469.9h0M327.8 443.7h0M286.5 488.7h0M227.1 420.0h0M354.3 516.8h0M198.2 401.0h0M290.7 515.4h0M401.3 434.6h0M328.0 446.9h0M333.0 477.1h0M127.2 421.6h0M388.2 429.3h0M374.2 417.7h0M375.6 463.9h0M334.3 518.6h0M354.5 441.5h0M382.1 429.0h0M289.3 574.7h0M251.4 467.0h0M289.0 512.7h0M470.5 398.9h0M295.3 491.1h0M227.3 462.1h0M399.5 408.3h0M322.4 502.6h0M298.3 516.4h0M354.3 435.1h0M270.4 489.4h0M321.8 467.1h0M236.8 502.3h0M301.2 484.3h0M295.1 511.0h0M346.3 468.6h0M469.2 382.5h0M270.3 476.8h0M374.9 473.1h0M312.6 502.2h0M279.3 461.3h0M348.4 498.2h0M323.6 436.3h0M335.6 477.7h0M275.4 472.7h0M370.9 445.3h0M278.0 484.3h0M368.7 498.5h0M266.4 482.1h0M368.7 477.5h0M292.9 507.0h0M357.3 487.3h0M373.8 492.4h0M366.9 446.5h0M326.5 499.5h0M398.2 464.5h0M129.1 390.0h0M264.6 483.0h0M265.1 427.6h0M298.4 486.2h0M239.0 448.7h0M460.9 398.5h0M139.6 389.8h0M379.2 415.6h0M301.1 442.0h0M360.5 485.5h0M254.6 530.1h0M355.5 537.9h0M302.2 521.2h0M200.0 429.6h0M304.4 489.9h0M306.4 508.9h0M283.7 521.2h0M360.5 518.2h0M273.0 503.8h0M376.1 518.9h0M376.8 473.2h0M367.5 421.1h0M398.3 443.4h0M295.2 510.3h0M247.2 475.3h0M200.1 407.3h0M340.3 481.7h0M271.5 475.2h0M439.9 425.1h0M325.8 488.3h0M322.6 527.9h0M362.3 531.2h0M324.8 550.7h0M377.0 452.7h0M290.3 480.1h0M244.8 462.1h0M313.2 510.9h0M224.3 462.7h0M299.9 500.9h0M335.3 531.1h0M283.5 503.7h0M118.1 442.5h0M284.0 541.6h0M303.1 543.5h0M310.4 464.2h0M231.5 464.1h0M270.7 442.4h0M221.8 441.3h0M218.2 424.2h0M229.5 431.6h0M322.2 416.8h0M335.3 543.7h0M455.6 392.5h0M202.4 429.8h0M264.6 482.4h0M276.5 479.1h0M362.1 448.4h0M267.9 545.8h0M238.9 430.3h0M381.7 432.7h0M275.0 566.3h0M371.4 477.1h0M275.9 527.2h0M243.4 467.2h0M335.9 495.5h0M297.7 512.2h0M398.1 433.5h0M377.1 429.3h0M367.6 440.9h0M248.7 435.2h0M376.1 462.0h0M233.8 501.5h0M302.2 565.5h0M217.6 440.0h0M380.7 472.0h0M236.7 458.7h0M325.8 563.8h0M138.9 372.0h0M322.6 520.5h0M362.9 453.3h0M347.9 462.8h0M381.2 427.9h0M379.9 431.4h0M462.3 376.6h0M313.8 523.8h0M264.6 494.7h0M244.5 447.2h0M380.8 497.8h0M270.7 499.5h0M333.8 559.6h0M473.0 376.3h0M392.3 436.7h0M360.1 464.7h0M339.6 513.8h0M398.2 422.7h0M327.8 502.4h0M274.0 506.4h0M367.1 419.6h0M402.0 431.5h0M333.5 419.4h0M238.1 456.7h0M324.8 519.0h0M282.0 505.2h0M295.4 530.8h0M267.0 526.2h0M437.3 424.3h0M291.8 520.6h0M287.2 506.5h0M392.2 484.5h0M222.6 449.5h0M322.5 585.8h0M279.0 480.6h0M307.9 503.9h0M364.9 430.7h0M112.0 435.0h0M398.3 432.9h0M333.6 470.8h0M302.4 515.1h0M347.0 544.5h0M314.0 535.0h0M297.2 480.8h0M388.3 427.8h0M333.4 451.5h0M316.2 491.7h0M121.9 446.7h0M288.3 506.8h0M471.1 446.9h0M324.7 494.2h0M220.7 415.3h0M335.3 472.8h0M438.0 414.6h0M400.8 439.4h0M281.6 470.6h0M407.9 462.0h0M289.8 518.4h0M340.2 491.8h0M248.5 445.2h0M294.8 467.3h0M350.8 501.1h0M367.3 445.7h0M253.1 496.5h0M218.7 411.2h0M284.0 452.1h0M394.5 473.5h0M295.2 483.1h0M316.1 522.3h0M400.0 443.0h0M275.9 436.5h0M462.6 370.0h0M295.4 477.5h0M350.1 486.7h0M254.5 459.3h0M360.8 490.9h0M265.5 449.5h0M308.8 547.0h0M122.7 427.6h0M334.7 551.0h0M270.0 507.5h0M374.4 519.3h0M438.0 416.9h0M357.2 484.1h0M340.4 518.2h0M339.8 475.8h0M321.6 539.9h0M215.0 418.2h0M246.4 425.5h0M227.6 444.3h0M319.6 515.8h0M298.5 513.1h0M455.0 375.0h0M306.4 505.0h0M134.0 411.1h0M360.3 515.7h0M299.8 500.7h0M324.8 555.3h0M252.2 408.2h0M284.9 496.9h0M225.2 419.9h0M270.5 477.2h0M220.5 414.6h0M380.6 460.1h0M463.5 405.1h0M279.5 494.2h0M313.9 462.6h0M309.5 513.5h0M237.2 442.3h0M286.8 500.2h0M313.5 525.8h0M295.2 476.7h0M391.9 440.7h0M390.8 452.3h0M283.7 507.2h0M322.3 480.9h0M202.9 413.5h0M244.3 445.0h0M227.6 413.5h0M220.4 417.6h0M269.8 483.4h0M298.8 472.2h0M356.4 477.3h0M289.2 529.1h0M223.4 446.9h0M258.7 472.1h0M309.4 488.3h0M317.6 498.2h0M197.7 394.9h0M242.4 447.5h0M272.9 509.6h0M300.7 498.1h0M399.0 465.7h0M201.3 418.6h0M292.1 561.8h0M354.5 465.6h0M289.6 528.7h0M264.7 457.1h0M384.0 482.0h0M277.6 522.1h0M217.3 441.1h0M263.9 458.7h0M332.4 558.7h0M255.6 516.3h0M309.5 503.8h0M311.5 509.9h0M313.7 504.5h0M459.7 421.8h0M359.5 513.2h0M382.3 427.8h0M253.2 483.3h0M473.0 403.6h0M306.2 517.4h0M319.8 469.5h0M358.5 429.5h0M300.4 485.2h0M357.8 507.4h0M360.5 439.5h0M356.8 494.2h0M300.3 526.2h0M138.5 376.0h0M300.6 457.2h0M291.7 503.5h0M376.4 434.7h0M277.0 441.4h0M360.7 485.9h0M280.1 496.7h0M237.3 449.3h0M221.8 420.9h0M219.2 445.6h0M466.2 415.1h0M472.6 391.4h0M293.3 522.6h0M367.6 442.9h0M265.3 481.0h0M347.8 511.5h0M348.8 524.3h0M202.9 447.4h0M324.1 506.3h0M313.4 481.7h0M301.9 521.9h0M359.8 448.7h0M276.4 533.5h0M300.1 542.2h0M376.9 453.2h0M302.3 531.3h0M311.6 491.5h0M300.3 458.7h0M360.4 448.8h0M289.6 451.6h0M282.2 535.7h0M289.9 533.7h0M310.3 534.1h0M390.8 471.7h0M375.0 432.2h0M234.4 400.1h0M275.5 460.7h0M334.9 528.4h0M405.7 455.5h0M227.2 458.2h0M278.5 480.2h0M356.0 454.1h0M257.5 517.7h0M264.3 443.4h0M311.3 511.5h0M335.1 497.2h0M204.5 393.5h0M340.3 471.1h0M367.3 420.1h0M276.4 525.6h0M359.7 459.5h0M299.3 504.8h0M290.0 488.0h0M270.2 476.7h0M381.5 431.6h0M360.1 517.5h0M350.1 461.8h0M222.9 445.8h0M399.4 413.5h0M375.2 447.6h0M347.1 476.0h0M403.2 437.9h0M318.9 465.0h0M108.3 454.2h0M229.5 445.5h0M356.9 468.1h0M290.2 498.5h0M381.6 417.2h0M313.6 457.9h0M290.0 520.4h0M242.9 431.1h0M324.0 508.8h0M279.5 490.1h0M264.3 490.0h0M279.9 512.1h0M332.6 590.9h0M352.0 431.0h0M267.9 530.0h0M278.8 533.8h0M375.3 436.9h0M374.3 474.8h0M322.7 520.3h0M281.5 444.4h0M321.9 468.1h0M371.7 471.2h0M340.4 552.4h0M255.0 521.1h0M381.8 453.1h0M233.4 407.0h0M398.1 487.8h0M313.0 509.4h0M366.9 480.7h0M310.9 463.2h0M334.5 554.5h0M334.5 507.2h0M324.7 510.9h0M281.7 497.4h0M119.6 436.6h0M362.7 450.9h0M126.8 420.4h0M238.1 448.8h0M356.9 476.3h0M295.5 489.4h0M360.6 441.4h0M322.1 435.2h0M347.9 493.6h0M252.8 466.4h0M290.1 474.8h0M369.2 458.2h0M297.9 511.7h0M377.3 429.4h0M220.3 452.1h0M322.7 524.6h0M295.0 443.4h0M288.1 478.5h0M374.9 495.2h0M468.2 406.7h0M253.8 532.7h0M397.8 421.4h0M236.9 424.6h0M399.6 415.2h0M246.5 479.1h0M248.1 434.9h0M302.3 501.2h0M262.4 479.7h0M241.3 450.3h0M221.2 458.7h0M376.3 468.6h0M328.1 459.3h0M367.5 449.3h0M220.9 456.5h0M223.5 448.6h0M259.7 440.3h0M306.4 488.8h0M315.8 542.7h0M469.2 413.4h0M362.5 469.1h0M290.4 483.7h0M218.2 415.8h0M377.1 431.0h0M466.4 385.9h0M401.7 433.4h0M275.3 451.4h0M283.6 523.4h0M467.3 411.8h0M384.2 445.6h0M335.1 565.6h0M339.7 494.0h0M300.8 493.8h0M255.3 474.9h0M333.5 464.1h0M289.8 461.9h0M349.4 514.0h0M322.0 548.9h0M300.4 438.5h0M221.0 405.2h0M237.1 483.0h0M286.6 534.7h0M401.1 428.0h0M379.5 437.3h0M265.3 479.6h0M333.5 541.0h0M301.9 505.3h0M395.0 476.0h0M275.1 513.3h0M394.4 432.4h0M320.3 457.4h0M273.7 496.5h0M388.5 450.5h0M292.8 527.8h0M301.7 500.1h0M311.7 511.1h0M292.0 512.0h0M379.3 425.4h0M371.2 478.7h0M321.9 483.2h0M348.6 503.0h0M300.1 514.0h0M300.6 488.4h0M143.4 437.5h0M252.5 500.1h0M328.9 476.6h0M225.1 449.4h0M398.6 440.3h0M332.6 543.1h0M264.3 486.8h0M149.1 391.5h0M205.5 449.7h0M233.4 459.5h0M346.8 456.5h0M371.6 459.8h0M313.5 516.0h0M305.0 505.5h0M319.9 520.1h0M227.1 413.5h0M341.2 456.3h0M273.7 478.8h0M374.5 448.9h0M297.0 437.7h0M383.8 433.9h0M289.9 484.0h0M259.7 476.0h0M217.1 446.3h0M121.5 439.2h0M220.4 428.3h0M326.6 542.5h0M376.7 488.4h0M352.7 503.9h0M301.3 455.2h0M325.0 516.1h0M335.1 498.6h0M360.2 451.2h0M265.1 456.3h0M254.5 490.5h0M271.6 508.6h0M334.5 529.0h0M274.0 509.9h0M399.2 404.6h0M368.1 502.8h0M273.6 530.3h0M357.5 500.3h0M335.6 503.8h0M334.8 503.4h0M300.6 522.5h0M129.1 427.1h0M293.5 521.4h0M237.6 428.8h0M275.3 448.0h0M375.3 448.1h0M273.7 551.5h0M295.4 448.9h0M374.8 436.4h0M377.2 423.9h0M220.1 445.0h0M218.2 400.5h0M374.2 443.7h0M237.3 485.8h0M264.7 492.2h0M352.7 461.3h0M275.0 520.9h0M281.2 546.5h0M145.3 461.7h0M369.1 462.9h0M270.9 467.8h0M349.8 500.1h0M259.5 473.6h0M268.4 492.4h0M397.2 479.0h0M388.1 474.8h0M253.9 514.6h0M297.5 466.7h0M297.7 544.0h0M301.0 480.5h0M282.2 434.8h0M398.6 447.4h0M282.9 507.8h0M299.7 468.9h0M300.4 487.9h0M302.5 543.7h0M321.4 528.7h0M370.9 443.8h0M320.3 490.2h0M233.4 409.5h0M333.5 453.5h0M328.4 465.6h0M340.2 549.8h0M320.0 439.4h0M400.0 453.2h0M297.7 548.8h0M129.4 387.0h0M377.0 439.3h0M368.8 478.3h0M108.4 429.4h0M324.8 568.1h0M236.2 456.9h0M250.7 477.0h0M300.8 475.9h0M357.4 479.9h0M297.2 528.9h0M348.7 481.3h0M396.0 448.8h0M236.5 492.9h0M309.4 497.0h0M301.0 503.2h0M333.9 458.0h0M376.7 458.6h0M321.4 488.2h0M316.2 432.5h0M298.6 535.9h0M238.3 435.9h0M297.8 472.6h0M261.7 499.8h0M361.0 549.7h0M319.7 523.4h0M399.5 406.5h0M329.3 519.9h0M287.9 539.4h0M436.3 421.7h0M399.5 442.1h0M348.2 526.4h0M322.2 454.8h0M205.5 445.1h0M369.2 507.1h0M321.5 525.5h0M381.4 424.9h0M224.9 448.6h0M319.8 492.1h0M290.1 489.7h0M316.2 582.1h0M304.8 473.2h0M137.8 382.8h0M313.7 529.1h0M270.8 500.4h0M280.4 547.2h0M346.2 539.3h0M391.5 475.4h0M339.3 534.6h0M377.2 434.3h0M297.6 491.0h0M304.8 498.3h0M320.6 465.2h0M296.4 514.2h0M206.1 442.8h0M353.1 477.6h0M252.6 486.4h0M291.9 550.8h0M243.7 451.0h0M273.7 464.6h0M219.7 443.9h0M242.8 447.6h0M271.3 455.2h0M220.9 412.3h0M283.4 495.7h0M309.3 467.5h0M264.3 456.7h0M353.7 468.3h0M371.5 484.8h0M243.7 447.9h0M391.1 460.2h0M266.0 478.0h0M243.2 459.6h0M379.3 428.5h0M375.2 433.2h0M316.5 517.6h0M325.2 562.1h0M255.1 499.8h0M251.1 446.9h0M217.1 427.0h0M367.9 441.0h0M262.3 498.9h0M354.9 425.8h0M332.2 550.4h0M388.2 421.0h0M275.4 557.3h0M298.4 442.8h0M379.9 432.8h0M324.1 493.1h0M333.1 451.0h0M322.0 534.9h0M200.3 429.2h0M306.9 558.2h0M360.3 511.4h0M353.5 538.8h0M406.4 405.5h0M376.1 444.7h0M279.3 510.8h0M300.7 466.2h0M313.3 468.5h0M250.8 487.9h0M220.7 413.1h0M340.7 476.9h0M235.2 496.3h0M323.4 462.0h0M297.1 429.9h0M313.1 536.7h0M295.3 514.9h0M361.0 446.4h0M199.7 426.9h0M305.3 433.4h0M316.3 475.6h0M306.5 475.7h0M376.2 458.1h0M367.9 467.3h0M300.7 470.9h0M311.2 496.7h0M356.0 481.2h0M379.4 420.6h0M337.7 433.1h0M281.7 502.0h0M299.4 537.6h0M271.1 484.2h0M360.0 465.9h0M320.1 524.3h0M270.2 484.9h0M322.0 472.6h0M301.4 493.2h0M112.4 432.5h0M333.1 505.1h0M226.9 425.9h0M378.9 431.2h0M390.7 446.1h0M261.4 463.9h0M368.8 474.9h0M376.3 440.1h0M286.4 437.1h0M292.3 540.9h0M289.6 497.6h0M360.2 481.6h0M374.4 479.5h0M336.3 546.3h0M313.7 481.4h0M275.0 534.1h0M204.5 431.6h0M377.2 434.0h0M325.2 547.8h0M360.2 440.6h0M310.2 497.4h0M470.1 389.2h0M399.2 418.5h0M321.3 493.7h0M321.7 489.8h0M324.0 535.5h0M262.2 501.1h0M334.8 580.8h0M439.9 405.5h0M244.0 445.5h0M320.1 551.6h0M350.1 486.1h0M381.3 478.5h0M243.4 438.7h0M333.2 519.7h0M303.1 552.1h0M217.4 450.2h0M230.8 473.1h0M316.4 562.6h0M309.6 483.5h0M281.4 468.5h0M270.5 480.1h0M300.8 510.2h0M283.0 479.4h0M352.9 482.0h0M360.3 443.3h0M297.6 518.0h0M298.8 530.2h0M333.4 434.1h0M227.5 455.1h0M375.2 475.3h0M298.9 538.5h0M239.6 407.1h0M287.6 540.4h0M299.1 512.4h0M241.8 433.2h0M258.4 422.6h0M313.8 509.8h0M304.4 542.0h0M227.6 436.8h0M473.0 427.0h0M289.7 499.5h0M370.7 436.5h0M230.4 433.7h0M321.1 496.5h0M357.3 437.4h0M236.5 459.6h0M264.6 500.6h0M289.3 450.3h0M327.6 528.1h0M221.3 410.7h0M354.4 422.5h0M283.4 464.9h0M399.4 416.4h0M298.9 499.4h0M358.5 439.9h0M298.5 476.1h0M270.4 473.1h0M310.2 552.5h0M348.4 474.1h0M376.5 450.1h0M270.6 446.7h0M194.5 418.2h0M316.0 583.8h0M334.3 506.5h0M324.4 515.9h0M410.1 431.5h0M260.3 437.8h0M367.3 441.1h0M221.1 418.6h0M291.9 532.8h0M287.4 541.0h0M360.3 466.3h0M368.0 435.2h0M251.7 435.3h0M380.4 505.3h0M473.9 499.5h0M226.4 441.2h0M275.0 516.2h0M272.8 487.9h0M368.4 444.9h0M286.7 537.5h0M113.5 411.4h0M328.5 546.0h0M363.1 451.1h0M277.8 533.1h0M319.0 567.6h0M245.2 448.8h0M312.7 452.3h0M324.4 539.0h0M327.7 500.3h0M318.4 493.4h0M263.6 460.0h0M116.6 433.0h0M301.9 529.7h0M208.2 452.1h0M276.6 495.9h0M313.5 499.1h0M381.2 434.8h0M345.9 490.2h0M217.9 463.0h0M299.5 538.3h0M270.0 485.1h0M342.4 516.5h0M310.6 474.0h0M328.2 466.6h0M306.3 497.8h0M306.0 459.5h0M274.1 517.1h0M397.9 449.6h0M225.4 450.8h0M251.1 476.6h0M374.8 440.2h0M243.5 448.6h0M400.1 410.2h0M247.6 430.6h0M298.9 509.3h0M116.2 413.3h0M328.9 426.7h0M302.7 484.6h0M313.2 515.9h0M298.3 543.3h0M322.0 517.8h0M127.9 439.2h0M316.3 566.9h0M300.3 506.8h0M381.4 432.6h0M211.3 401.0h0M283.7 496.8h0M286.9 439.3h0M225.3 432.7h0M374.5 436.0h0M301.4 469.7h0M292.7 501.9h0M236.8 423.6h0M281.1 481.6h0M364.1 455.1h0M292.0 578.8h0M274.2 503.3h0M310.4 494.8h0M287.3 513.6h0M469.2 402.6h0M318.7 466.9h0M373.5 427.6h0M390.4 466.3h0M348.3 488.9h0M132.1 397.0h0M339.8 544.2h0M325.9 512.0h0M259.8 473.0h0M289.7 453.8h0M467.3 397.6h0M285.8 487.2h0M242.4 501.1h0M385.3 450.1h0M295.7 572.0h0M313.8 492.9h0M195.6 391.7h0M260.1 495.1h0M296.4 522.9h0M251.1 462.5h0M399.7 426.8h0M243.9 424.1h0M280.5 527.5h0M374.9 467.1h0M362.8 510.0h0M334.1 479.6h0M250.6 467.9h0M282.2 521.5h0M282.1 499.0h0M220.1 406.9h0M220.3 410.6h0M265.4 483.7h0M401.0 437.6h0M285.3 482.2h0M151.4 409.1h0M140.4 391.5h0M240.6 434.6h0M232.4 441.6h0M295.4 484.4h0M322.1 439.4h0M357.5 473.7h0M238.8 403.1h0M472.0 428.5h0M390.1 432.0h0M258.6 509.3h0M291.4 479.5h0M399.2 459.0h0M243.8 464.1h0M289.7 489.2h0M315.9 563.3h0M265.6 444.1h0M357.6 479.3h0M127.5 426.6h0M270.8 482.6h0M321.7 494.8h0M466.9 402.1h0M328.3 480.3h0M298.0 564.7h0M273.9 495.2h0M310.3 488.1h0M314.5 507.8h0M220.9 468.2h0M250.7 476.6h0M263.2 455.7h0M379.0 438.9h0M270.6 490.3h0M394.8 422.2h0M320.0 477.9h0M204.0 388.9h0M340.8 461.3h0M358.1 442.4h0M376.1 430.5h0M361.2 434.5h0M300.4 544.2h0M353.2 527.3h0M283.0 511.8h0M375.1 452.2h0" stroke="#e00000" stroke-width="2.2" stroke-linecap="round"/>
<path d="M303.7 783.5h0M365.6 784.1h0M283.4 782.7h0M365.6 784.3h0M303.9 781.1h0M362.1 782.3h0M471.2 785.9h0M273.9 783.8h0M301.2 782.8h0M302.7 782.8h0M286.3 781.3h0M381.6 785.3h0M301.3 781.3h0M407.2 786.5h0M362.8 784.2h0M273.6 785.6h0M339.8 785.7h0M355.0 782.2h0M267.6 783.4h0M277.0 784.7h0M482.8 786.8h0M109.0 774.9h0M355.1 783.7h0M381.6 784.0h0M305.8 784.5h0M327.5 782.1h0M282.6 784.4h0M397.9 785.3h0M268.7 783.2h0M415.7 784.9h0" stroke="#50e030" stroke-width="4.6" stroke-linecap="round"/>
<path d="M283.5 782.9h0M374.7 786.3h0M254.8 785.7h0M443.9 807.6h0M326.5 784.3h0M446.5 809.0h0M382.6 785.2h0M288.5 784.7h0M365.4 783.2h0M287.2 784.3h0M365.3 783.6h0M273.4 785.7h0M302.6 782.6h0M293.3 783.1h0M243.8 784.6h0M345.4 784.5h0M316.8 784.1h0M229.9 783.4h0M405.9 785.8h0M373.8 785.6h0M112.8 775.9h0M446.6 808.9h0M317.2 785.0h0M239.6 783.3h0M407.5 785.1h0M304.5 784.8h0M380.6 786.0h0M239.5 784.1h0M239.6 784.9h0M282.2 783.8h0" stroke="#50e030" stroke-width="4.6" stroke-linecap="round"/>
<path d="M302.8 783.3h0M383.4 784.3h0M303.8 783.9h0M225.4 784.7h0M293.9 784.4h0M286.8 781.1h0M363.0 782.1h0M303.8 783.3h0M127.5 785.5h0M329.0 784.4h0M282.9 783.6h0M273.7 785.3h0M331.0 784.9h0M222.7 785.9h0M358.4 783.4h0M380.4 784.6h0M196.0 785.0h0M111.3 772.3h0M346.9 782.1h0M284.8 781.6h0M253.6 783.4h0M239.2 783.2h0M285.2 782.9h0M380.7 785.6h0M288.8 783.3h0M479.9 787.7h0M344.7 783.0h0M285.3 783.0h0M319.7 785.0h0M354.1 784.4h0" stroke="#50e030" stroke-width="4.6" stroke-linecap="round"/>
<path d="M382.1 783.7h0M379.8 785.3h0M476.0 785.1h0M296.6 784.8h0M302.3 782.2h0M306.8 781.5h0M325.0 784.0h0M328.9 783.6h0M391.1 786.8h0M351.7 785.3h0M344.0 783.8h0M304.4 783.6h0M254.2 785.6h0M360.8 782.9h0M345.0 783.6h0M407.9 784.5h0M346.7 783.2h0M308.5 782.7h0M226.7 785.5h0" stroke="#50e030" stroke-width="4.6" stroke-linecap="round"/>
<path d="M351.3 787.0h0M111.1 782.0h0M265.1 787.6h0M381.9 786.8h0M409.4 788.3h0M365.9 788.2h0M210.0 786.0h0M267.3 789.0h0M239.7 787.9h0M340.3 790.1h0M323.0 788.4h0M229.5 785.9h0M286.9 785.2h0M416.5 786.9h0M285.1 787.6h0M267.7 789.4h0M339.8 789.7h0M306.7 787.6h0M255.3 787.9h0M304.9 786.2h0M310.4 788.0h0M293.4 786.0h0M360.6 788.4h0M313.6 786.2h0M305.0 787.9h0M302.4 788.2h0M362.1 788.0h0M381.1 789.0h0M152.3 782.4h0M287.3 788.1h0" stroke="#3ae050" stroke-width="4.6" stroke-linecap="round"/>
<path d="M298.9 786.8h0M293.6 789.5h0M293.5 786.7h0M224.9 787.4h0M304.7 785.8h0M309.0 787.5h0M328.2 788.7h0M318.7 788.8h0M310.6 786.2h0M466.3 790.9h0M122.5 785.3h0M291.6 788.7h0M305.0 787.0h0M294.8 785.6h0M372.9 788.9h0M407.7 787.8h0M351.2 786.4h0M396.7 787.7h0M286.8 785.0h0M224.8 787.9h0M316.7 788.8h0M362.0 786.6h0M332.0 786.6h0M467.3 788.5h0M109.7 786.2h0M220.4 788.0h0M265.3 787.3h0M356.6 788.0h0M374.0 787.3h0M364.7 787.9h0" stroke="#3ae050" stroke-width="4.6" stroke-linecap="round"/>
<path d="M317.5 788.8h0M406.1 786.9h0M387.6 787.6h0M361.2 788.7h0M355.0 787.5h0M365.7 786.8h0M223.9 787.9h0M268.0 788.6h0M287.3 786.6h0M222.4 786.5h0M306.3 785.2h0M372.6 788.7h0M361.6 788.4h0M112.4 781.8h0M352.1 786.8h0M224.7 789.0h0M343.9 786.7h0M365.2 786.7h0M324.5 787.1h0M293.3 787.6h0M305.8 787.8h0M240.6 786.5h0M129.1 786.6h0M245.2 787.4h0M222.0 786.2h0M322.5 785.7h0M312.0 785.5h0M273.8 786.2h0M229.6 785.6h0M296.4 786.8h0" stroke="#3ae050" stroke-width="4.6" stroke-linecap="round"/>
<path d="M245.2 787.4h0M344.5 785.9h0M228.6 786.9h0M368.0 789.1h0M310.4 787.1h0M267.7 788.4h0M475.0 789.7h0M374.6 788.2h0M365.0 786.1h0M299.4 788.0h0M328.2 788.5h0M330.9 787.1h0M294.6 788.0h0M326.8 787.3h0M277.2 788.7h0M265.5 788.8h0" stroke="#3ae050" stroke-width="4.6" stroke-linecap="round"/>
<path d="M344.7 778.7h0M338.4 780.2h0M282.1 780.3h0M408.2 783.3h0M338.7 780.8h0M108.9 771.1h0M283.1 779.9h0M245.4 780.9h0M339.3 779.0h0M390.0 783.0h0M447.0 800.0h0M327.0 779.2h0M245.0 781.0h0M354.1 778.5h0M229.9 782.9h0M328.3 781.0h0M314.6 778.5h0M465.3 783.4h0M296.8 780.5h0M283.0 781.0h0M415.7 783.1h0M325.7 779.3h0M229.9 781.5h0M328.6 779.6h0M300.8 779.7h0M466.8 780.8h0M337.7 780.3h0M308.8 780.6h0M404.1 783.4h0M147.6 777.7h0" stroke="#78e030" stroke-width="4.6" stroke-linecap="round"/>
<path d="M318.2 782.5h0M376.8 780.8h0M313.5 780.2h0M442.8 801.2h0M374.2 781.9h0M282.9 779.3h0M126.7 777.4h0M327.3 779.1h0M344.2 781.5h0M315.4 779.9h0M329.2 781.0h0M224.6 783.6h0M201.8 782.3h0M362.4 778.5h0M262.4 780.2h0M283.1 779.0h0M360.4 781.2h0M109.7 767.4h0M304.3 779.3h0M262.7 782.4h0M304.7 781.0h0M303.9 780.9h0M474.1 784.2h0M347.0 779.1h0M276.1 781.2h0M250.7 780.5h0M405.1 783.6h0M262.5 780.3h0M326.1 780.5h0M400.5 781.2h0" stroke="#78e030" stroke-width="4.6" stroke-linecap="round"/>
<path d="M305.6 779.4h0M344.1 781.7h0M368.4 782.2h0M380.7 782.8h0M353.0 781.5h0M113.2 768.5h0M302.4 778.1h0M115.9 769.7h0M314.5 778.6h0M304.7 779.1h0M341.1 781.6h0M296.8 781.0h0M268.2 782.3h0M274.5 780.3h0M272.5 780.8h0M314.3 780.7h0M285.3 778.1h0M232.7 780.3h0M444.3 798.8h0M286.6 779.2h0M352.1 781.1h0M471.3 781.6h0M358.8 778.4h0M400.2 781.5h0M374.7 781.3h0M465.4 782.5h0M302.9 778.5h0M404.1 782.5h0M239.2 781.5h0M340.6 782.3h0" stroke="#78e030" stroke-width="4.6" stroke-linecap="round"/>
<path d="M265.4 782.9h0M304.5 780.3h0M308.4 777.6h0M347.0 778.6h0M137.6 779.1h0M379.1 781.0h0M351.9 778.5h0M267.2 779.5h0M317.8 781.8h0M314.2 779.9h0M366.0 779.6h0M325.9 781.1h0M326.3 780.6h0M127.1 779.0h0" stroke="#78e030" stroke-width="4.6" stroke-linecap="round"/>
<path d="M268.0 792.6h0M306.9 789.8h0M304.2 789.7h0M114.2 786.5h0M365.6 790.7h0M368.1 791.2h0M286.9 791.6h0M285.1 791.7h0M328.6 790.6h0M410.5 790.3h0M329.6 793.6h0M328.1 792.5h0M295.3 791.5h0M383.1 789.7h0M386.7 790.0h0M277.4 790.6h0M355.1 790.2h0M478.9 795.6h0M483.7 796.8h0M373.0 790.1h0M402.3 792.8h0M326.8 791.1h0M304.2 789.6h0M308.7 789.6h0M287.4 791.3h0M286.2 790.4h0M296.6 791.8h0M225.0 791.3h0M116.7 790.1h0M355.5 789.6h0" stroke="#30e070" stroke-width="4.6" stroke-linecap="round"/>
<path d="M109.3 789.5h0M293.5 792.8h0M294.0 792.9h0M317.4 792.0h0M271.6 789.9h0M296.7 790.0h0M350.7 792.3h0M304.6 791.4h0M225.0 793.4h0M315.7 790.4h0M373.3 792.1h0M260.7 793.4h0M232.5 791.2h0M273.8 792.6h0M227.6 788.8h0M337.8 791.2h0M342.7 791.8h0M278.6 791.0h0M320.1 790.3h0M329.0 791.4h0M372.3 790.5h0M315.9 792.2h0M339.2 793.5h0M282.4 790.0h0M353.3 790.3h0M202.0 789.3h0M281.7 791.9h0M264.6 792.1h0M405.7 789.8h0M402.8 790.7h0" stroke="#30e070" stroke-width="4.6" stroke-linecap="round"/>
<path d="M339.9 792.3h0M325.8 792.4h0M475.0 792.1h0M302.3 792.0h0M381.7 790.1h0M479.9 794.4h0M314.9 791.8h0M365.2 791.7h0M229.7 788.2h0M328.4 793.3h0M285.5 789.4h0M255.7 790.5h0M229.8 792.0h0M312.3 792.8h0M326.3 794.0h0M329.5 789.7h0M406.2 791.6h0M321.5 790.3h0M267.4 791.3h0M362.8 792.3h0M249.3 788.7h0M318.0 791.2h0M315.5 792.7h0M225.5 792.8h0M278.9 791.9h0M344.5 792.5h0M287.1 790.5h0M350.8 789.3h0M278.8 791.2h0M381.4 790.4h0" stroke="#30e070" stroke-width="4.6" stroke-linecap="round"/>
<path d="M304.2 792.4h0M477.0 793.3h0M361.2 791.6h0M401.7 790.9h0M365.3 789.0h0M318.5 792.4h0M333.2 791.5h0M289.5 790.5h0M267.8 793.6h0M376.5 792.7h0M381.8 789.6h0M387.3 791.3h0M219.3 789.9h0M407.2 790.9h0M345.5 790.7h0M377.3 791.4h0" stroke="#30e070" stroke-width="4.6" stroke-linecap="round"/>
<path d="M324.8 797.2h0M357.3 793.8h0M284.8 795.6h0M280.3 793.7h0M292.0 794.1h0M304.8 794.6h0M257.5 794.6h0M290.8 794.0h0M354.8 795.5h0M386.3 793.9h0M386.6 795.0h0M374.9 793.5h0M303.0 796.0h0M340.0 797.0h0M330.4 797.0h0M480.8 799.2h0M299.0 794.7h0M381.8 792.7h0M473.9 801.5h0M317.9 797.4h0M350.3 795.9h0M324.8 796.4h0M329.2 796.1h0M294.0 796.9h0M298.9 795.5h0M282.8 797.9h0M269.0 795.1h0M287.3 797.2h0M219.1 797.1h0M469.0 800.4h0" stroke="#30e090" stroke-width="4.6" stroke-linecap="round"/>
<path d="M304.3 795.8h0M255.7 793.6h0M325.9 796.9h0M301.7 795.5h0M303.8 792.7h0M142.2 795.7h0M240.6 795.3h0M293.7 793.9h0M110.5 791.2h0M206.2 792.6h0M396.1 796.2h0M332.6 794.9h0M394.0 796.0h0M314.0 796.0h0M265.4 797.3h0M352.8 794.5h0M308.1 795.2h0M310.9 794.4h0M407.1 795.1h0M329.9 797.9h0M108.0 793.7h0M294.5 793.5h0M384.9 794.8h0M350.7 793.3h0M396.7 793.8h0M317.8 795.0h0M367.1 796.6h0M372.5 795.8h0M373.4 792.9h0M339.4 795.2h0" stroke="#30e090" stroke-width="4.6" stroke-linecap="round"/>
<path d="M283.5 794.9h0M108.2 793.2h0M376.8 795.4h0M240.4 794.1h0M299.4 795.9h0M339.2 796.1h0M287.2 795.3h0M225.8 794.4h0M313.6 795.0h0M315.5 795.2h0M254.0 793.2h0M382.1 795.0h0M344.4 795.9h0M304.7 793.0h0M381.8 793.8h0M337.1 795.5h0M351.8 794.7h0M225.5 795.1h0M119.0 792.6h0M466.3 798.0h0M273.7 797.1h0M304.4 795.4h0M280.7 795.5h0M402.1 793.9h0M277.5 796.9h0M381.2 794.6h0M221.3 794.4h0M259.5 794.5h0M362.8 796.4h0M402.8 793.9h0" stroke="#30e090" stroke-width="4.6" stroke-linecap="round"/>
<path d="M267.7 796.2h0M382.2 794.1h0M404.0 795.2h0M301.8 795.2h0M317.7 797.4h0M229.4 794.0h0M317.4 797.2h0M301.6 796.5h0M326.5 796.7h0M323.3 794.4h0M304.0 797.2h0M337.5 796.6h0" stroke="#30e090" stroke-width="4.6" stroke-linecap="round"/>
<path d="M326.1 775.9h0M326.6 778.2h0M337.8 777.6h0M406.0 779.5h0M337.7 777.9h0M340.9 778.5h0M287.4 775.4h0M404.3 779.7h0M246.9 778.5h0M283.3 776.0h0M408.2 781.2h0M306.7 775.9h0M299.2 777.0h0M318.0 777.0h0M320.5 776.9h0M304.0 777.1h0M345.1 778.2h0M324.1 778.0h0M274.4 778.6h0M306.5 774.3h0M220.5 780.6h0M406.7 779.7h0M226.7 779.1h0M257.4 776.0h0M361.1 776.4h0M305.3 776.3h0M318.3 778.9h0M374.6 779.1h0M365.0 778.3h0M481.7 777.3h0" stroke="#a0e030" stroke-width="4.6" stroke-linecap="round"/>
<path d="M374.3 777.7h0M351.3 775.2h0M322.5 775.1h0M247.2 778.9h0M369.8 777.5h0M273.3 776.7h0M306.6 776.8h0M254.1 777.2h0M297.2 774.2h0M333.4 777.1h0M369.8 780.0h0M302.7 773.4h0M352.0 776.7h0M239.4 779.0h0M293.3 775.2h0M353.7 775.2h0M380.8 779.3h0M331.7 774.2h0M330.3 775.4h0M290.1 775.0h0M405.7 781.4h0M317.7 775.9h0M324.7 776.2h0M380.1 778.8h0M315.7 775.6h0M380.0 779.3h0M282.2 778.0h0M240.8 778.4h0M204.1 781.1h0M396.4 778.8h0" stroke="#a0e030" stroke-width="4.6" stroke-linecap="round"/>
<path d="M325.8 774.8h0M299.3 773.5h0M443.6 797.1h0M326.1 775.4h0M217.5 780.9h0M325.7 777.0h0M396.9 777.5h0M202.3 780.9h0M407.5 779.6h0M227.2 779.6h0M309.7 776.5h0M380.6 779.6h0M268.7 778.5h0M389.6 780.9h0M267.5 779.0h0M324.9 774.3h0M324.2 776.6h0M246.3 779.8h0M286.9 773.9h0M324.2 775.9h0M263.2 778.0h0M365.5 776.6h0M293.8 775.5h0M274.0 777.7h0M380.9 780.0h0M474.6 779.1h0M324.5 775.3h0M200.8 782.0h0M239.6 779.2h0M322.4 777.4h0" stroke="#a0e030" stroke-width="4.6" stroke-linecap="round"/>
<path d="M280.0 779.2h0M262.0 777.9h0M477.0 778.2h0M443.3 795.5h0M396.1 777.7h0M353.8 777.0h0M246.9 778.1h0M279.6 775.7h0M293.4 775.0h0M372.9 777.0h0M223.9 780.3h0M281.6 776.0h0M273.0 779.1h0M359.6 776.8h0M470.2 779.9h0M326.1 776.9h0M293.4 776.0h0M143.0 776.4h0M137.6 774.9h0M297.1 775.2h0M353.4 776.7h0M151.5 774.5h0M380.1 780.0h0" stroke="#a0e030" stroke-width="4.6" stroke-linecap="round"/>
<path d="M246.2 798.3h0M219.7 802.2h0M265.7 798.4h0M374.1 801.5h0M326.5 801.5h0M374.7 802.0h0M305.1 800.0h0M294.4 802.8h0M305.1 799.4h0M112.0 795.9h0M304.2 801.2h0M473.6 805.1h0M393.8 797.0h0M402.4 798.2h0M267.6 800.8h0M299.5 800.4h0M243.9 799.0h0M309.7 799.2h0M380.6 798.8h0M345.1 799.7h0M323.0 799.7h0M366.2 797.2h0M477.9 808.6h0M410.5 798.2h0M365.5 798.3h0M241.9 798.0h0M273.3 798.7h0M365.0 799.3h0M479.6 807.5h0M251.8 797.2h0" stroke="#30e0ac" stroke-width="4.6" stroke-linecap="round"/>
<path d="M306.3 797.7h0M278.5 799.1h0M466.0 806.3h0M289.4 800.2h0M310.3 800.6h0M362.3 799.5h0M298.9 799.7h0M251.1 799.1h0M326.2 803.1h0M326.0 803.4h0M302.1 801.2h0M318.3 801.6h0M402.5 798.7h0M361.1 800.6h0M377.7 799.4h0M317.8 800.8h0M339.0 801.5h0M256.0 800.5h0M295.8 803.0h0M476.0 802.7h0M380.5 796.6h0M414.2 796.5h0M295.0 799.9h0M265.7 798.3h0M142.6 800.6h0M382.2 796.4h0M350.4 798.0h0M320.8 800.9h0M324.2 803.6h0M302.8 798.6h0" stroke="#30e0ac" stroke-width="4.6" stroke-linecap="round"/>
<path d="M297.4 800.5h0M326.4 801.9h0M281.6 799.7h0M473.1 803.9h0M292.7 800.7h0M265.4 802.8h0M354.5 798.9h0M116.3 794.8h0M299.9 798.9h0M238.7 800.3h0M290.9 802.0h0M309.9 800.0h0M301.4 802.4h0M377.3 798.2h0M324.7 800.7h0M277.3 801.4h0M306.8 797.3h0M285.6 800.4h0M253.5 797.4h0M386.4 799.7h0M110.9 794.7h0M307.1 799.2h0M263.0 801.7h0M340.0 799.6h0M240.2 797.4h0M255.9 797.9h0M246.0 798.9h0M293.5 797.8h0M286.4 798.5h0M355.1 799.9h0" stroke="#30e0ac" stroke-width="4.6" stroke-linecap="round"/>
<path d="M304.2 801.6h0M328.9 800.6h0M220.5 799.2h0M362.0 801.5h0M299.1 799.9h0M223.1 802.2h0M365.5 799.2h0M338.2 800.5h0M372.6 800.5h0M402.4 796.5h0M374.0 797.6h0M320.7 802.8h0" stroke="#30e0ac" stroke-width="4.6" stroke-linecap="round"/>
<path d="M474.1 776.5h0M368.1 774.3h0M326.1 770.7h0M376.4 773.9h0M253.3 772.9h0M288.9 770.3h0M229.1 777.2h0M306.9 771.7h0M275.1 771.1h0M291.5 772.2h0M222.5 778.5h0M382.0 774.5h0M304.3 768.9h0M445.5 795.1h0M414.2 778.5h0M136.0 773.6h0M332.9 771.7h0M334.0 770.0h0M380.9 777.4h0M273.7 775.3h0M445.6 790.3h0M367.6 774.7h0M305.1 769.7h0M313.5 772.7h0M396.4 775.9h0M379.8 774.6h0M340.9 772.5h0M291.9 772.0h0M273.7 772.9h0M241.8 775.8h0" stroke="#c8e030" stroke-width="4.6" stroke-linecap="round"/>
<path d="M151.9 769.9h0M304.5 770.7h0M273.5 773.9h0M251.2 772.6h0M222.7 778.2h0M308.5 768.8h0M302.6 769.7h0M374.0 773.9h0M357.8 770.4h0M380.6 776.3h0M384.7 775.0h0M310.0 773.8h0M279.3 773.7h0M289.4 774.1h0M469.2 773.0h0M268.5 773.4h0M337.7 771.8h0M273.1 772.0h0M406.4 778.5h0M365.3 774.1h0M445.0 789.5h0M365.6 773.6h0M277.5 773.3h0M293.6 769.3h0M347.1 773.1h0M280.9 771.2h0M299.2 770.6h0M338.5 773.0h0M480.8 775.6h0M376.6 775.7h0" stroke="#c8e030" stroke-width="4.6" stroke-linecap="round"/>
<path d="M385.9 776.2h0M339.9 773.3h0M152.7 770.6h0M330.8 770.2h0M301.1 770.2h0M344.7 774.2h0M247.0 773.1h0M344.4 774.9h0M219.1 779.1h0M326.6 770.6h0M277.2 770.6h0M301.1 771.4h0M262.1 774.9h0M374.8 775.7h0M293.0 770.9h0M274.6 771.4h0M287.3 771.4h0M329.7 773.3h0M385.6 774.8h0M379.8 775.1h0M326.4 769.3h0M333.6 774.7h0M145.7 773.5h0M325.6 774.1h0M246.3 773.2h0M379.8 775.0h0M324.8 772.7h0M468.5 774.8h0M239.0 774.6h0M299.2 768.4h0" stroke="#c8e030" stroke-width="4.6" stroke-linecap="round"/>
<path d="M472.1 773.9h0M293.7 773.3h0M222.6 775.6h0M345.1 773.9h0M344.6 771.0h0M344.7 770.3h0M331.0 773.8h0M229.5 777.5h0M310.5 771.8h0M368.2 775.0h0M238.2 775.2h0M317.4 773.9h0M298.9 769.2h0M403.8 779.1h0M267.4 771.8h0" stroke="#c8e030" stroke-width="4.6" stroke-linecap="round"/>
<path d="M219.4 803.9h0M473.1 812.2h0M296.8 803.6h0M306.1 804.3h0M329.1 808.2h0M296.9 807.6h0M362.0 806.3h0M337.9 806.4h0M249.9 802.7h0M327.7 806.9h0M481.8 813.4h0M380.6 802.2h0M302.9 803.1h0M377.0 802.0h0M293.5 806.2h0M127.9 801.6h0M405.2 800.1h0M309.2 804.4h0M468.3 815.7h0M287.0 803.7h0M271.3 805.2h0M256.0 803.8h0M277.3 805.0h0M239.0 802.6h0M223.7 806.2h0M255.9 802.7h0M325.8 809.2h0M306.7 804.5h0M331.8 807.8h0M324.5 807.7h0" stroke="#30e0cc" stroke-width="4.6" stroke-linecap="round"/>
<path d="M203.5 804.5h0M382.7 800.9h0M286.5 802.6h0M333.9 805.8h0M111.7 799.2h0M374.3 802.1h0M352.1 804.5h0M310.4 809.2h0M329.7 807.9h0M387.2 803.7h0M324.0 807.2h0M220.7 806.6h0M292.9 806.7h0M467.1 811.0h0M358.5 803.0h0M318.0 805.4h0M222.3 804.5h0M107.4 799.9h0M381.1 800.3h0M353.8 804.2h0M475.0 814.6h0M273.3 804.6h0M304.5 805.9h0M304.8 803.3h0M358.7 805.4h0M353.6 804.8h0M274.8 804.8h0M295.8 804.0h0M481.8 809.8h0M284.4 806.1h0" stroke="#30e0cc" stroke-width="4.6" stroke-linecap="round"/>
<path d="M363.0 804.1h0M293.5 807.1h0M304.8 808.1h0M360.7 805.4h0M255.3 804.4h0M344.4 805.4h0M119.4 798.1h0M299.6 804.1h0M276.3 806.5h0M271.1 805.2h0M380.4 804.5h0M389.0 804.8h0M379.0 801.9h0M372.4 803.6h0M351.2 803.5h0M293.6 808.1h0M365.4 805.7h0M293.6 806.5h0M227.6 801.3h0M339.0 804.9h0M264.7 805.1h0M345.5 802.5h0M247.5 806.4h0M303.7 804.6h0M358.4 804.0h0M265.3 803.4h0M320.4 805.5h0M293.1 807.2h0M355.9 805.9h0M415.7 799.3h0" stroke="#30e0cc" stroke-width="4.6" stroke-linecap="round"/>
<path d="M299.4 806.3h0M397.9 800.2h0M366.6 806.8h0M295.5 807.3h0M379.9 802.9h0M283.9 802.9h0M361.9 805.5h0M278.3 802.9h0M321.3 804.4h0M356.5 805.1h0M297.3 807.3h0M365.9 802.1h0M386.4 805.5h0M327.1 804.7h0M120.2 798.9h0M340.4 808.7h0M340.9 805.5h0M376.7 804.2h0" stroke="#30e0cc" stroke-width="4.6" stroke-linecap="round"/>
<path d="M243.3 770.4h0M317.9 766.3h0M368.3 768.6h0M344.5 768.4h0M286.5 768.7h0M443.7 787.3h0M360.8 768.6h0M338.4 765.5h0M305.2 767.1h0M326.5 764.7h0M246.1 772.2h0M367.4 768.5h0M239.2 768.7h0M273.6 768.1h0M368.1 772.7h0M381.8 771.5h0M274.6 768.3h0M292.7 767.8h0M475.0 772.2h0M284.6 767.4h0M319.9 766.2h0M284.0 768.4h0M349.9 766.1h0M299.0 767.3h0M310.6 767.3h0M299.6 768.0h0M324.4 767.4h0M351.3 768.0h0M394.1 773.2h0M284.8 769.5h0" stroke="#e0e030" stroke-width="4.6" stroke-linecap="round"/>
<path d="M274.5 770.2h0M317.8 767.6h0M227.4 772.0h0M295.1 762.9h0M362.3 768.9h0M282.4 770.1h0M195.3 777.0h0M341.1 770.8h0M285.2 764.1h0M246.5 769.2h0M278.1 770.2h0M477.9 768.7h0M293.9 764.5h0M340.4 765.9h0M405.3 775.3h0M368.5 773.1h0M313.8 767.1h0M287.1 762.7h0M304.9 763.3h0M444.0 788.0h0M389.5 770.6h0M251.2 769.6h0M134.9 769.4h0M360.8 767.0h0M254.1 770.7h0M317.1 767.8h0M466.3 770.4h0M267.4 770.7h0M338.8 768.0h0M229.3 771.8h0" stroke="#e0e030" stroke-width="4.6" stroke-linecap="round"/>
<path d="M344.7 769.0h0M315.7 770.1h0M273.5 767.5h0M308.0 765.4h0M365.5 769.3h0M327.1 765.5h0M392.5 773.1h0M293.2 763.5h0M304.7 764.5h0M308.1 764.9h0M217.0 772.9h0M327.5 768.2h0M382.6 774.1h0M273.4 768.8h0M389.6 773.8h0M465.4 769.6h0M347.4 768.9h0M293.4 765.0h0M304.5 765.3h0M383.4 771.0h0M380.6 771.7h0M292.9 769.5h0M478.3 771.3h0M274.0 770.0h0M317.9 765.9h0M351.7 769.8h0M360.7 770.3h0M286.8 764.3h0M222.8 774.3h0M394.2 770.7h0" stroke="#e0e030" stroke-width="4.6" stroke-linecap="round"/>
<path d="M345.5 769.7h0M362.4 768.8h0M444.8 788.7h0M306.2 763.2h0M241.4 772.0h0M306.6 767.1h0M293.0 766.3h0M326.6 767.6h0M288.8 766.5h0M362.6 767.7h0M365.6 770.3h0M274.7 770.0h0" stroke="#e0e030" stroke-width="4.6" stroke-linecap="round"/>
<path d="M324.0 760.6h0M445.1 786.4h0M199.8 774.1h0M265.0 763.8h0M151.5 763.4h0M340.3 763.7h0M304.4 760.1h0M360.7 762.7h0M352.9 760.3h0M325.0 763.0h0M382.8 765.1h0M327.2 761.8h0M293.5 760.1h0M289.4 760.4h0M400.8 767.5h0M334.3 763.1h0M273.7 763.4h0M244.8 768.0h0M268.9 765.5h0M463.0 765.3h0M302.3 758.1h0M339.9 763.2h0M324.2 756.3h0M150.7 762.1h0M329.8 763.0h0M304.4 760.4h0M404.0 771.2h0M320.6 762.5h0M274.2 760.4h0M251.5 763.2h0" stroke="#e8c830" stroke-width="4.6" stroke-linecap="round"/>
<path d="M128.3 768.0h0M310.6 758.9h0M293.5 755.9h0M373.0 764.4h0M361.3 760.3h0M328.1 759.1h0M482.1 766.1h0M285.0 756.4h0M318.0 761.2h0M382.1 765.7h0M380.9 768.7h0M230.9 768.0h0M365.6 761.7h0M479.7 767.9h0M290.6 758.1h0M379.7 768.9h0M468.5 763.6h0M337.6 764.1h0M134.1 767.5h0M304.7 757.7h0M325.7 760.6h0M222.6 768.0h0M286.5 758.3h0M468.5 761.7h0M446.7 786.2h0M373.0 763.3h0M387.2 767.5h0M298.7 760.2h0M293.1 757.5h0M328.5 761.4h0" stroke="#e8c830" stroke-width="4.6" stroke-linecap="round"/>
<path d="M358.3 762.5h0M314.0 759.3h0M446.1 784.8h0M326.8 761.5h0M365.4 763.6h0M372.7 767.0h0M299.2 759.1h0M361.2 764.8h0M322.8 755.3h0M380.5 766.4h0M325.9 760.1h0M266.7 760.4h0M363.5 763.8h0M253.4 761.1h0M382.9 766.2h0M304.9 762.1h0M250.9 762.4h0M268.6 763.3h0M471.2 764.4h0M323.6 756.3h0M273.3 759.4h0M277.1 764.4h0M380.1 765.1h0M362.1 762.1h0M304.8 761.5h0M388.0 769.9h0M382.9 765.7h0M220.7 771.1h0M301.7 758.7h0M323.8 761.6h0" stroke="#e8c830" stroke-width="4.6" stroke-linecap="round"/>
<path d="M405.8 770.7h0M326.4 759.6h0M266.8 766.7h0M276.5 759.0h0M325.9 757.8h0M365.3 764.6h0M314.9 758.0h0M197.9 769.2h0M366.3 765.3h0M247.0 766.5h0M478.4 762.7h0M362.2 762.6h0M473.1 767.0h0M293.7 756.9h0M384.4 768.4h0" stroke="#e8c830" stroke-width="4.6" stroke-linecap="round"/>
<path d="M366.1 807.9h0M229.5 811.5h0M318.0 811.4h0M305.8 812.0h0M235.1 804.9h0M207.8 805.9h0M396.0 808.7h0M357.8 810.6h0M277.1 810.2h0M143.8 805.8h0M299.2 814.4h0M277.8 808.8h0M255.7 813.1h0M339.2 814.4h0M304.2 813.9h0M324.0 810.5h0M222.9 808.7h0M393.8 806.3h0M143.4 803.8h0M304.0 808.4h0M236.8 806.5h0M264.5 812.1h0M298.9 812.3h0M387.3 806.1h0M110.1 801.0h0M278.7 809.1h0M339.2 813.6h0M277.4 812.2h0M337.3 814.7h0M318.2 815.2h0" stroke="#30c8e0" stroke-width="4.6" stroke-linecap="round"/>
<path d="M225.8 812.7h0M371.4 807.5h0M365.3 809.8h0M326.1 810.5h0M313.6 809.3h0M304.9 811.0h0M480.8 819.3h0M306.1 809.5h0M326.6 814.5h0M304.6 814.7h0M353.7 813.3h0M365.4 809.6h0M345.0 812.1h0M350.8 813.7h0M262.9 812.8h0M481.7 822.8h0M279.1 813.1h0M296.5 813.2h0M314.5 814.5h0M479.9 824.0h0M292.5 809.8h0M226.8 811.2h0M302.9 814.2h0M278.0 813.2h0M259.4 807.8h0M339.6 813.3h0M369.5 809.3h0M481.9 816.9h0M303.9 808.7h0M277.5 807.2h0" stroke="#30c8e0" stroke-width="4.6" stroke-linecap="round"/>
<path d="M365.1 811.5h0M229.3 809.4h0M396.4 807.1h0M313.6 812.3h0M289.3 808.9h0M264.5 812.8h0M223.0 811.3h0M301.2 811.2h0M329.4 813.1h0M380.3 811.3h0M278.4 807.4h0M385.1 807.6h0M327.1 809.6h0M352.1 813.2h0M305.1 813.7h0M402.7 806.8h0M380.0 809.5h0M305.3 809.4h0M345.2 810.2h0M325.8 812.0h0M117.5 800.0h0M278.4 811.5h0M359.6 813.4h0M380.0 809.7h0M405.3 804.4h0M121.3 800.6h0M340.0 815.4h0M144.5 804.8h0M325.9 812.8h0M326.9 811.4h0" stroke="#30c8e0" stroke-width="4.6" stroke-linecap="round"/>
<path d="M467.3 820.5h0M365.3 808.9h0M469.2 821.7h0M368.5 812.1h0M301.1 812.9h0M407.3 803.8h0M407.5 806.7h0M329.2 810.5h0M223.8 813.5h0M304.2 809.5h0M468.1 818.1h0M355.0 809.4h0M258.7 810.0h0M352.8 812.1h0M481.8 825.3h0M306.4 811.6h0M377.0 810.1h0M285.3 809.4h0M380.0 808.9h0" stroke="#30c8e0" stroke-width="4.6" stroke-linecap="round"/>
<path d="M379.0 762.2h0M136.4 753.2h0M217.0 767.5h0M304.4 753.2h0M292.5 755.1h0M273.1 751.1h0M300.9 753.3h0M222.2 761.0h0M268.0 756.9h0M323.0 752.8h0M304.7 751.8h0M283.7 756.0h0M297.1 748.3h0M445.8 783.1h0M223.4 763.1h0M470.3 755.5h0M263.5 756.6h0M325.6 754.2h0M384.6 764.5h0M382.8 761.5h0M467.3 756.7h0M256.2 760.9h0M286.9 750.4h0M365.4 755.5h0M480.4 754.2h0M298.6 747.7h0M201.7 764.1h0M365.4 758.1h0M383.1 763.8h0M246.7 760.0h0" stroke="#e8a830" stroke-width="4.6" stroke-linecap="round"/>
<path d="M222.4 766.4h0M338.0 755.8h0M381.4 760.1h0M318.0 750.7h0M387.8 764.7h0M289.0 749.1h0M325.9 752.0h0M385.6 764.8h0M317.2 752.1h0M239.4 759.9h0M380.6 759.3h0M274.1 751.1h0M196.4 764.7h0M327.1 748.9h0M268.2 754.8h0M468.1 758.0h0M317.5 753.4h0M385.5 763.5h0M282.3 752.4h0M246.5 758.3h0M367.6 759.0h0M344.2 755.4h0M310.5 750.3h0M317.4 753.8h0M268.3 755.3h0M338.3 757.6h0M294.6 751.8h0M139.9 759.1h0M365.8 755.7h0M363.7 753.1h0" stroke="#e8a830" stroke-width="4.6" stroke-linecap="round"/>
<path d="M301.7 754.3h0M444.6 781.4h0M367.7 759.4h0M362.1 759.2h0M362.1 756.5h0M472.8 759.2h0M334.3 755.7h0M325.0 750.1h0M373.0 761.2h0M300.7 751.2h0M326.7 750.0h0M413.5 764.4h0M223.0 763.8h0M380.4 761.6h0M326.3 754.3h0M274.3 751.3h0M272.7 758.2h0M149.9 751.2h0M288.7 754.5h0M466.8 760.5h0M443.3 781.5h0M414.2 769.7h0M207.3 765.3h0M268.0 752.0h0M246.5 760.0h0M246.1 760.3h0M220.7 762.1h0M326.2 752.6h0M201.7 767.6h0M284.5 750.0h0" stroke="#e8a830" stroke-width="4.6" stroke-linecap="round"/>
<path d="M308.0 753.0h0M284.8 754.8h0M138.3 759.3h0M137.2 759.8h0M339.7 756.4h0M372.9 760.5h0M278.7 756.4h0M266.9 758.2h0M362.1 757.7h0M259.1 752.7h0M318.1 748.0h0M268.0 759.8h0M332.9 751.1h0M373.0 759.8h0M325.6 749.8h0M303.6 749.1h0M323.9 748.9h0M325.9 753.5h0M267.8 756.1h0M365.8 757.2h0M464.8 753.0h0M332.7 752.9h0M415.0 770.7h0M276.3 753.6h0M338.2 751.2h0M343.1 754.5h0M324.4 752.5h0M303.8 751.8h0" stroke="#e8a830" stroke-width="4.6" stroke-linecap="round"/>
<path d="M300.0 817.0h0M255.6 815.3h0M287.3 818.2h0M359.4 820.9h0M140.7 810.8h0M227.5 812.6h0M285.2 815.4h0M325.9 822.0h0M302.5 818.3h0M337.7 819.8h0M475.0 833.4h0M282.1 815.1h0M308.4 821.2h0M354.9 817.0h0M376.4 817.1h0M299.7 817.4h0M381.5 811.7h0M365.0 815.4h0M256.9 813.9h0M285.7 814.4h0M302.9 820.5h0M293.3 815.6h0M312.3 818.8h0M293.6 819.6h0M285.7 813.3h0M403.1 810.0h0M284.4 817.1h0M326.6 817.9h0M365.7 813.3h0M328.6 817.0h0" stroke="#30a0e2" stroke-width="4.6" stroke-linecap="round"/>
<path d="M377.5 813.6h0M328.8 821.2h0M395.5 812.3h0M339.2 816.4h0M294.4 816.9h0M229.8 814.5h0M304.9 817.7h0M362.2 815.7h0M329.6 820.9h0M295.6 817.8h0M312.1 818.0h0M306.5 816.9h0M117.8 806.3h0M204.6 817.6h0M481.8 828.5h0M257.9 818.1h0M394.0 812.3h0M239.1 813.7h0M328.4 818.8h0M350.6 818.7h0M337.0 820.4h0M248.5 818.8h0M303.4 820.4h0M389.7 815.7h0M345.2 816.9h0M320.4 818.5h0M287.2 814.2h0M468.3 836.6h0M328.6 816.2h0M278.9 816.9h0" stroke="#30a0e2" stroke-width="4.6" stroke-linecap="round"/>
<path d="M478.9 826.9h0M317.6 821.2h0M225.9 817.8h0M320.2 820.3h0M254.0 816.0h0M333.7 818.4h0M377.5 819.0h0M403.9 811.6h0M288.8 815.8h0M339.7 822.6h0M338.7 820.6h0M146.5 811.0h0M360.3 817.5h0M387.1 811.7h0M280.7 816.6h0M118.6 801.3h0M412.0 807.4h0M233.8 814.8h0M369.3 816.6h0M302.7 820.4h0M279.3 819.0h0M472.5 830.2h0M474.9 831.8h0M300.0 816.4h0M328.6 819.5h0M306.9 820.0h0M264.9 815.2h0M363.0 818.4h0M306.5 818.3h0M362.2 816.4h0" stroke="#30a0e2" stroke-width="4.6" stroke-linecap="round"/>
<path d="M235.6 817.0h0M346.7 823.6h0M382.3 815.9h0M287.1 814.7h0M302.6 814.9h0M329.5 820.6h0M470.1 835.0h0M321.4 816.7h0M389.8 815.1h0M389.3 814.3h0M292.9 816.1h0M276.3 818.9h0M306.9 819.5h0M120.9 802.9h0M300.5 816.1h0M355.1 818.1h0M110.0 803.2h0M249.1 814.4h0M394.4 810.8h0M304.1 820.9h0" stroke="#30a0e2" stroke-width="4.6" stroke-linecap="round"/>
<path d="M304.3 830.7h0M477.0 844.7h0M301.6 835.8h0M304.0 826.6h0M377.2 829.6h0M353.9 824.4h0M327.1 828.9h0M402.5 817.9h0M307.1 825.6h0M280.7 821.8h0M219.3 822.3h0M238.6 833.7h0M380.5 822.9h0M310.8 829.4h0M329.4 829.6h0M301.6 823.1h0M344.1 823.0h0M261.7 831.9h0M371.7 819.8h0M339.8 831.2h0M255.3 820.7h0M373.4 819.5h0M312.9 835.3h0M225.6 818.7h0M122.9 807.7h0M305.6 826.5h0M338.2 828.5h0M287.1 821.3h0M337.5 830.0h0M296.0 829.2h0" stroke="#3080e4" stroke-width="4.6" stroke-linecap="round"/>
<path d="M483.7 849.5h0M364.8 828.7h0M345.2 823.7h0M284.6 824.3h0M327.1 834.4h0M482.8 843.1h0M312.8 828.0h0M336.6 834.3h0M295.6 823.4h0M147.2 823.2h0M122.1 806.7h0M291.2 834.4h0M337.2 834.3h0M225.6 821.5h0M481.8 846.3h0M330.0 837.7h0M304.7 833.7h0M415.0 811.9h0M310.5 835.4h0M336.5 832.4h0M290.2 822.1h0M321.0 823.1h0M466.5 847.9h0M278.1 824.1h0M414.2 812.5h0M353.2 825.9h0M257.0 828.4h0M365.2 833.9h0M229.5 818.1h0M382.4 817.4h0" stroke="#3080e4" stroke-width="4.6" stroke-linecap="round"/>
<path d="M279.7 828.8h0M302.1 830.6h0M292.8 823.3h0M471.2 839.8h0M365.8 823.6h0M226.5 820.6h0M398.2 824.4h0M233.9 818.4h0M307.1 834.2h0M481.8 838.2h0M278.3 832.5h0M253.0 827.3h0M358.6 834.4h0M265.1 830.4h0M291.5 832.0h0M308.7 831.3h0M302.6 836.8h0M121.7 810.0h0M380.7 830.2h0M270.1 831.2h0M320.1 827.1h0M222.0 825.7h0M271.1 826.5h0M293.4 827.6h0M338.2 838.6h0M285.2 823.8h0M223.0 833.8h0M373.1 833.4h0M264.7 822.0h0M344.7 833.8h0" stroke="#3080e4" stroke-width="4.6" stroke-linecap="round"/>
<path d="M281.2 825.9h0M401.1 819.0h0M293.0 831.3h0M352.1 836.2h0M307.2 832.3h0M141.4 812.7h0M403.3 821.8h0M482.4 841.4h0M356.1 829.4h0M300.7 827.6h0M368.1 829.1h0M323.8 832.3h0M312.3 837.8h0M374.4 824.5h0M350.7 826.4h0M207.3 823.6h0" stroke="#3080e4" stroke-width="4.6" stroke-linecap="round"/>
<path d="M372.9 754.0h0M338.2 748.3h0M363.8 752.6h0M304.4 741.4h0M385.0 754.4h0M338.5 741.5h0M273.5 743.0h0M265.0 742.1h0M215.3 761.6h0M387.9 759.5h0M300.7 743.2h0M343.3 748.0h0M305.4 738.2h0M478.8 745.4h0M132.2 749.0h0M310.3 739.4h0M405.8 759.5h0M324.7 741.9h0M322.9 738.5h0M293.2 744.7h0M444.3 779.7h0M298.8 743.5h0M345.3 745.1h0M293.9 745.3h0M293.6 739.8h0M477.0 744.2h0M337.8 741.9h0M222.2 758.0h0M140.1 747.8h0M285.1 744.5h0" stroke="#e88830" stroke-width="4.6" stroke-linecap="round"/>
<path d="M228.8 756.0h0M468.0 746.7h0M324.5 740.8h0M361.0 744.9h0M334.6 745.9h0M362.3 747.0h0M353.3 750.1h0M474.1 749.2h0M327.8 747.0h0M405.8 763.3h0M339.5 746.2h0M471.2 747.9h0M351.7 747.9h0M289.0 747.2h0M282.7 744.3h0M298.6 740.7h0M326.2 741.6h0M362.5 747.0h0M333.0 741.5h0M288.1 747.7h0M388.4 758.3h0M361.0 751.0h0M243.8 753.8h0M381.7 758.1h0M393.9 758.9h0M365.9 752.5h0M361.4 752.8h0M136.0 750.9h0M149.6 746.9h0M372.7 753.5h0" stroke="#e88830" stroke-width="4.6" stroke-linecap="round"/>
<path d="M370.3 748.9h0M299.0 740.3h0M208.4 759.3h0M332.6 743.6h0M362.9 752.2h0M446.6 778.2h0M338.5 744.2h0M304.2 743.8h0M321.3 742.0h0M267.8 745.9h0M197.6 760.6h0M366.5 750.0h0M315.1 747.7h0M325.9 745.3h0M273.4 749.5h0M383.2 755.0h0M286.8 745.9h0M269.2 745.0h0M148.8 744.5h0M379.1 753.2h0M278.7 741.4h0M262.3 751.0h0M199.8 761.9h0M325.0 745.9h0M473.1 742.9h0M357.8 752.0h0M317.9 741.3h0M373.0 752.7h0M382.0 755.1h0M313.4 743.5h0" stroke="#e88830" stroke-width="4.6" stroke-linecap="round"/>
<path d="M383.0 757.9h0M262.7 747.2h0M260.1 748.3h0M309.1 743.2h0M321.3 746.4h0M477.9 750.4h0M288.8 747.7h0M317.5 744.7h0M313.7 744.6h0M301.4 745.5h0M263.8 749.3h0M308.0 740.5h0M478.5 751.7h0M326.3 744.4h0M344.3 745.0h0M385.0 759.1h0M317.0 743.5h0M341.5 743.9h0M337.8 748.5h0" stroke="#e88830" stroke-width="4.6" stroke-linecap="round"/>
<path d="M469.2 864.9h0M314.3 845.6h0M271.3 846.7h0M271.1 838.7h0M142.6 827.4h0M304.5 847.6h0M229.6 834.5h0M365.5 850.3h0M323.8 845.5h0M373.3 849.3h0M121.3 818.1h0M107.8 825.4h0M301.5 851.6h0M112.0 818.3h0M358.6 854.2h0M478.9 852.7h0M404.2 832.0h0M365.4 839.1h0M379.8 840.0h0M319.7 841.0h0M407.1 832.7h0M259.8 842.6h0M366.0 845.3h0M376.7 838.5h0M386.9 840.8h0M259.0 848.2h0M326.1 845.4h0M479.9 862.2h0M122.1 814.1h0M301.6 850.7h0" stroke="#2d5ce4" stroke-width="4.6" stroke-linecap="round"/>
<path d="M314.8 852.0h0M229.0 842.8h0M271.3 841.0h0M329.3 846.3h0M282.8 849.7h0M320.3 844.6h0M336.9 846.8h0M344.9 849.6h0M365.6 837.0h0M277.3 844.8h0M469.2 851.1h0M239.8 838.1h0M318.0 838.9h0M402.6 838.0h0M362.7 851.1h0M329.7 841.8h0M300.0 846.4h0M261.7 835.7h0M143.8 824.9h0M330.0 848.1h0M278.0 841.2h0M272.8 845.5h0M305.4 842.1h0M311.0 851.4h0M482.8 859.5h0M256.7 842.9h0M470.2 854.4h0M326.3 843.5h0M371.9 844.4h0M283.8 840.4h0" stroke="#2d5ce4" stroke-width="4.6" stroke-linecap="round"/>
<path d="M379.7 833.6h0M361.9 851.1h0M256.7 841.4h0M345.4 852.4h0M374.3 839.2h0M314.6 843.3h0M402.5 836.2h0M244.9 850.0h0M257.9 850.7h0M285.5 845.5h0M310.5 854.3h0M331.0 848.8h0M228.8 832.3h0M234.8 833.9h0M339.2 852.7h0M314.3 845.3h0M374.2 841.5h0M351.2 845.1h0M362.6 848.8h0M261.9 844.0h0M308.6 853.6h0M257.8 842.0h0M303.8 843.5h0M345.4 851.7h0M329.4 847.5h0M329.3 851.6h0M336.9 850.1h0M302.3 839.2h0M287.3 836.0h0M324.5 845.8h0" stroke="#2d5ce4" stroke-width="4.6" stroke-linecap="round"/>
<path d="M320.8 839.8h0M318.2 843.3h0M344.6 845.1h0M286.6 837.2h0M145.7 841.1h0M320.6 841.4h0M352.0 853.4h0M471.2 856.8h0M210.0 827.3h0M404.0 836.1h0M374.1 837.1h0M340.3 842.0h0M373.7 835.6h0M308.3 843.2h0M271.1 851.3h0M365.7 839.6h0M287.5 842.9h0M312.5 848.7h0M238.1 848.3h0M257.9 840.1h0" stroke="#2d5ce4" stroke-width="4.6" stroke-linecap="round"/>
<path d="M308.5 730.4h0M268.6 737.0h0M447.0 774.9h0M344.4 737.5h0M260.5 735.4h0M343.3 737.8h0M359.4 734.8h0M221.8 752.7h0M262.1 741.5h0M359.2 732.3h0M462.5 736.1h0M359.9 737.6h0M386.9 752.7h0M346.0 739.5h0M385.1 747.6h0M470.2 741.7h0M258.5 739.5h0M262.7 734.5h0M246.7 743.7h0M222.5 749.9h0M317.2 729.0h0M278.7 733.8h0M288.1 737.8h0M331.9 733.3h0M289.1 734.3h0M261.3 732.0h0M306.7 733.0h0M274.9 738.3h0M293.7 734.3h0M308.3 730.0h0" stroke="#e86030" stroke-width="4.6" stroke-linecap="round"/>
<path d="M268.6 732.7h0M196.9 755.1h0M332.3 732.5h0M474.1 733.1h0M372.9 742.5h0M469.9 737.7h0M325.6 729.1h0M294.5 737.1h0M213.2 756.7h0M361.9 734.0h0M314.3 735.0h0M343.9 737.3h0M285.7 738.3h0M278.9 738.9h0M306.5 732.3h0M384.9 742.7h0M325.8 730.6h0M327.0 736.6h0M406.3 754.3h0M338.1 730.4h0M299.0 727.8h0M273.8 732.7h0M284.6 729.4h0M263.3 741.5h0M293.3 738.1h0M445.8 774.5h0M328.6 733.7h0M273.0 734.0h0M362.4 737.5h0M382.9 750.0h0" stroke="#e86030" stroke-width="4.6" stroke-linecap="round"/>
<path d="M337.8 729.5h0M324.5 737.1h0M345.7 737.6h0M279.1 737.1h0M237.7 747.2h0M267.4 740.9h0M275.1 731.1h0M470.0 739.2h0M379.8 740.9h0M140.7 744.3h0M310.0 736.4h0M471.5 734.6h0M293.1 727.7h0M241.3 747.1h0M338.2 740.0h0M367.7 746.2h0M372.5 740.0h0M332.0 729.3h0M327.1 729.7h0M360.5 735.5h0M313.4 735.6h0M338.1 734.3h0M405.6 753.1h0M199.2 752.8h0M311.2 730.7h0M221.0 755.0h0M260.9 737.4h0M139.9 742.0h0M299.5 734.6h0M216.4 751.5h0" stroke="#e86030" stroke-width="4.6" stroke-linecap="round"/>
<path d="M360.0 742.2h0M264.8 732.6h0M305.3 727.4h0M138.0 739.9h0M326.4 729.0h0M324.9 730.5h0M349.6 738.5h0M326.2 732.4h0M406.3 755.9h0M273.4 736.7h0M372.8 741.3h0M466.5 740.4h0M296.4 736.9h0M447.3 776.6h0M242.1 748.4h0M405.5 755.8h0M324.7 734.8h0M326.8 730.5h0M373.2 743.2h0M148.4 739.5h0M278.2 736.8h0M304.2 733.8h0M322.9 729.4h0M287.0 731.3h0M362.8 735.4h0M282.5 735.4h0" stroke="#e86030" stroke-width="4.6" stroke-linecap="round"/>
<path d="M445.1 772.8h0M359.9 728.5h0M268.2 721.6h0M470.2 725.0h0M302.2 712.4h0M325.2 723.1h0M328.1 717.0h0M338.2 694.8h0M343.9 696.7h0M326.9 699.2h0M405.6 751.7h0M268.0 724.9h0M381.9 731.7h0M339.9 706.9h0M467.5 731.5h0M196.0 748.8h0M332.0 724.5h0M129.1 739.1h0M286.6 725.1h0M326.5 721.3h0M299.3 712.1h0M299.2 715.4h0M293.4 726.1h0M359.8 729.7h0M480.4 721.4h0M279.2 712.1h0M129.4 735.4h0M273.9 726.0h0M291.6 718.3h0M360.1 731.5h0" stroke="#e03030" stroke-width="4.6" stroke-linecap="round"/>
<path d="M405.7 747.6h0M300.6 715.3h0M197.1 750.3h0M338.8 718.2h0M357.1 722.7h0M387.4 744.7h0M269.2 710.2h0M310.5 706.0h0M332.7 726.6h0M340.3 728.6h0M360.1 721.5h0M304.3 706.1h0M467.3 717.8h0M269.4 715.8h0M280.4 715.7h0M405.9 746.7h0M359.7 717.8h0M387.6 739.3h0M298.7 691.6h0M246.0 730.8h0M304.0 723.8h0M299.5 688.2h0M299.0 693.9h0M277.8 727.5h0M480.8 728.4h0M340.5 702.2h0M301.0 694.0h0M138.7 723.9h0M326.9 709.6h0M478.9 730.0h0" stroke="#e03030" stroke-width="4.6" stroke-linecap="round"/>
<path d="M359.7 729.2h0M293.0 719.7h0M248.3 731.9h0M338.0 728.1h0M324.4 722.2h0M472.7 726.9h0M139.1 718.9h0M290.5 707.4h0M345.4 729.5h0M444.3 771.4h0M337.7 722.9h0M333.5 705.1h0M196.5 723.7h0M315.1 720.0h0M295.8 679.6h0M297.0 714.2h0M301.3 715.3h0M304.2 723.8h0M284.9 716.4h0M347.2 701.2h0M298.5 669.3h0M205.4 747.4h0M273.9 710.0h0M293.3 722.0h0M138.0 732.5h0M255.0 727.2h0M445.8 774.0h0M392.2 746.1h0M319.5 718.9h0M332.5 725.3h0" stroke="#e03030" stroke-width="4.6" stroke-linecap="round"/>
<path d="M309.3 708.0h0M463.8 714.2h0M287.5 727.4h0M413.5 752.1h0M332.6 692.7h0M284.4 697.0h0M338.0 712.2h0M300.9 704.5h0M344.7 717.6h0" stroke="#e03030" stroke-width="4.6" stroke-linecap="round"/>
<path d="M283.1 862.8h0M239.6 863.6h0M278.3 892.1h0M256.6 875.5h0M240.7 858.8h0M329.6 863.9h0M301.9 872.1h0M293.3 862.3h0M251.5 882.8h0M380.5 853.4h0M338.4 856.1h0M339.5 904.6h0M327.0 859.9h0M240.6 850.5h0M320.8 897.2h0M469.2 873.0h0M320.6 883.0h0M277.6 903.6h0M144.1 883.9h0M295.6 896.1h0M320.6 864.6h0M255.9 892.0h0M306.1 868.5h0M462.5 885.3h0M277.5 879.1h0M358.6 859.3h0M285.1 873.9h0M364.7 864.5h0M299.1 881.8h0M412.7 856.5h0" stroke="#2a38e0" stroke-width="4.6" stroke-linecap="round"/>
<path d="M328.8 878.8h0M236.2 879.6h0M323.7 857.6h0M331.7 873.9h0M337.1 871.7h0M481.8 897.9h0M376.3 853.4h0M310.8 883.9h0M271.4 864.3h0M276.9 852.5h0M479.9 875.7h0M380.0 856.0h0M321.7 867.4h0M320.2 865.4h0M323.8 875.6h0M284.6 852.2h0M295.8 872.9h0M381.8 863.6h0M366.3 894.0h0M233.8 886.3h0M479.9 879.0h0M271.5 860.9h0M367.6 863.8h0M362.5 883.0h0M320.4 902.1h0M337.1 859.4h0M480.8 867.6h0M337.3 909.6h0M379.8 893.2h0M355.3 880.9h0" stroke="#2a38e0" stroke-width="4.6" stroke-linecap="round"/>
<path d="M320.1 879.5h0M320.6 874.5h0M237.6 867.9h0M328.6 880.3h0M412.3 860.5h0M340.6 891.7h0M364.5 870.5h0M294.8 858.9h0M285.2 856.4h0M139.1 874.2h0M283.8 854.0h0M277.0 873.2h0M143.8 850.8h0M302.2 864.4h0M362.9 875.3h0M294.4 861.8h0M145.7 863.3h0M320.9 872.6h0M285.1 864.0h0M234.3 877.0h0M362.0 883.3h0M336.8 872.6h0M285.3 877.8h0M351.2 865.1h0M340.0 889.4h0M338.4 854.3h0M276.7 871.4h0M352.2 857.7h0M364.6 868.0h0M379.9 860.3h0" stroke="#2a38e0" stroke-width="4.6" stroke-linecap="round"/>
<path d="M320.3 904.6h0M339.8 876.6h0M145.3 847.4h0M466.3 891.6h0M238.3 861.3h0M299.5 883.2h0M345.2 878.8h0M471.2 870.3h0M238.9 853.9h0M380.0 869.5h0M328.8 875.3h0M295.7 901.3h0" stroke="#2a38e0" stroke-width="4.6" stroke-linecap="round"/>
<path d="M120.8 370.8l3 3m0 -3l-3 3 M120.8 485.2l3 3m0 -3l-3 3 M151.6 385.2l3 3m0 -3l-3 3 M151.6 491.4l3 3m0 -3l-3 3 M212.9 385.5l3 3m0 -3l-3 3 M212.9 470.2l3 3m0 -3l-3 3 M243.7 400.5l3 3m0 -3l-3 3 M243.7 533.5l3 3m0 -3l-3 3 M274.4 429.8l3 3m0 -3l-3 3 M274.4 556.5l3 3m0 -3l-3 3 M305.0 427.9l3 3m0 -3l-3 3 M305.0 571.7l3 3m0 -3l-3 3 M335.8 425.0l3 3m0 -3l-3 3 M335.8 570.2l3 3m0 -3l-3 3 M366.4 415.5l3 3m0 -3l-3 3 M366.4 539.3l3 3m0 -3l-3 3 M397.1 402.2l3 3m0 -3l-3 3 M397.1 496.9l3 3m0 -3l-3 3 M427.8 402.2l3 3m0 -3l-3 3 M458.6 357.7l3 3m0 -3l-3 3 M458.6 487.0l3 3m0 -3l-3 3" stroke="#777" stroke-width="0.8" fill="none"/>
<path d="M213.1 483.0h2.6 M243.8 389.6h2.6 M243.8 544.0h2.6 M274.6 413.7h2.6 M274.6 581.0h2.6 M305.2 584.6h2.6 M335.9 598.4h2.6 M366.6 550.6h2.6 M458.8 354.4h2.6 M458.8 499.8h2.6" stroke="#888" stroke-width="0.8" fill="none"/>
<path d="M122.3 412.7V383.3 M122.3 438.8V453.5 M153.1 396.2V389.6 M153.1 441.9V477.7 M183.8 391.5V370.8 M183.8 401.5V418.8 M214.4 414.0V396.2 M214.4 445.8V463.7 M245.2 436.2V408.8 M245.2 480.4V507.7 M275.9 472.2V443.8 M275.9 508.0V542.3 M306.5 479.9V453.0 M306.5 523.1V553.2 M337.2 475.6V449.0 M337.2 522.6V553.6 M367.9 441.7V427.5 M367.9 481.5V520.2 M398.6 426.5V409.0 M398.6 458.9V484.4 M429.3 407.2V404.5 M429.3 423.9V433.3 M460.1 396.4V371.3 M460.1 431.9V465.6" stroke="#000" stroke-width="1.6" fill="none"/>
<path d="M119.9 383.3h4.8 M119.9 453.5h4.8 M150.7 389.6h4.8 M150.7 477.7h4.8 M181.3 370.8h4.8 M181.3 418.8h4.8 M212.0 396.2h4.8 M212.0 463.7h4.8 M242.8 408.8h4.8 M242.8 507.7h4.8 M273.5 443.8h4.8 M273.5 542.3h4.8 M304.1 453.0h4.8 M304.1 553.2h4.8 M334.9 449.0h4.8 M334.9 553.6h4.8 M365.6 427.5h4.8 M365.6 520.2h4.8 M396.2 409.0h4.8 M396.2 484.4h4.8 M426.9 404.5h4.8 M426.9 433.3h4.8 M457.7 371.3h4.8 M457.7 465.6h4.8" stroke="#000" stroke-width="2" fill="none"/>
<path d="M110.0 412.7H134.7V438.8H110.0Z M110.0 427.5H134.7 M140.8 396.2H165.4V441.9H140.8Z M140.8 416.9H165.4 M171.4 391.5H196.1V401.5H171.4Z M171.4 394.4H196.1 M202.1 414.0H226.8V445.8H202.1Z M202.1 431.9H226.8 M232.8 436.2H257.4V480.4H232.8Z M232.8 452.5H257.4 M263.6 472.2H288.2V508.0H263.6Z M263.6 490.2H288.2 M294.2 479.9H318.8V523.1H294.2Z M294.2 502.1H318.8 M324.9 475.6H349.6V522.6H324.9Z M324.9 495.0H349.6 M355.6 441.7H380.2V481.5H355.6Z M355.6 458.6H380.2 M386.3 426.5H410.9V458.9H386.3Z M386.3 435.4H410.9 M417.0 407.2H441.6V423.9H417.0Z M417.0 413.9H441.6 M447.8 396.4H472.4V431.9H447.8Z M447.8 412.5H472.4" stroke="#000" stroke-width="1.9" fill="none"/>
<rect x="121.1" y="422.8" width="2.4" height="2.4" fill="#000"/><rect x="151.9" y="422.1" width="2.4" height="2.4" fill="#000"/><rect x="182.6" y="395.8" width="2.4" height="2.4" fill="#000"/><rect x="213.2" y="429.2" width="2.4" height="2.4" fill="#000"/><rect x="244.0" y="455.8" width="2.4" height="2.4" fill="#000"/><rect x="274.7" y="491.8" width="2.4" height="2.4" fill="#000"/><rect x="305.3" y="499.8" width="2.4" height="2.4" fill="#000"/><rect x="336.1" y="497.0" width="2.4" height="2.4" fill="#000"/><rect x="366.8" y="463.0" width="2.4" height="2.4" fill="#000"/><rect x="397.4" y="441.5" width="2.4" height="2.4" fill="#000"/><rect x="428.1" y="414.0" width="2.4" height="2.4" fill="#000"/><rect x="458.9" y="413.2" width="2.4" height="2.4" fill="#000"/>
</svg></body></html>
